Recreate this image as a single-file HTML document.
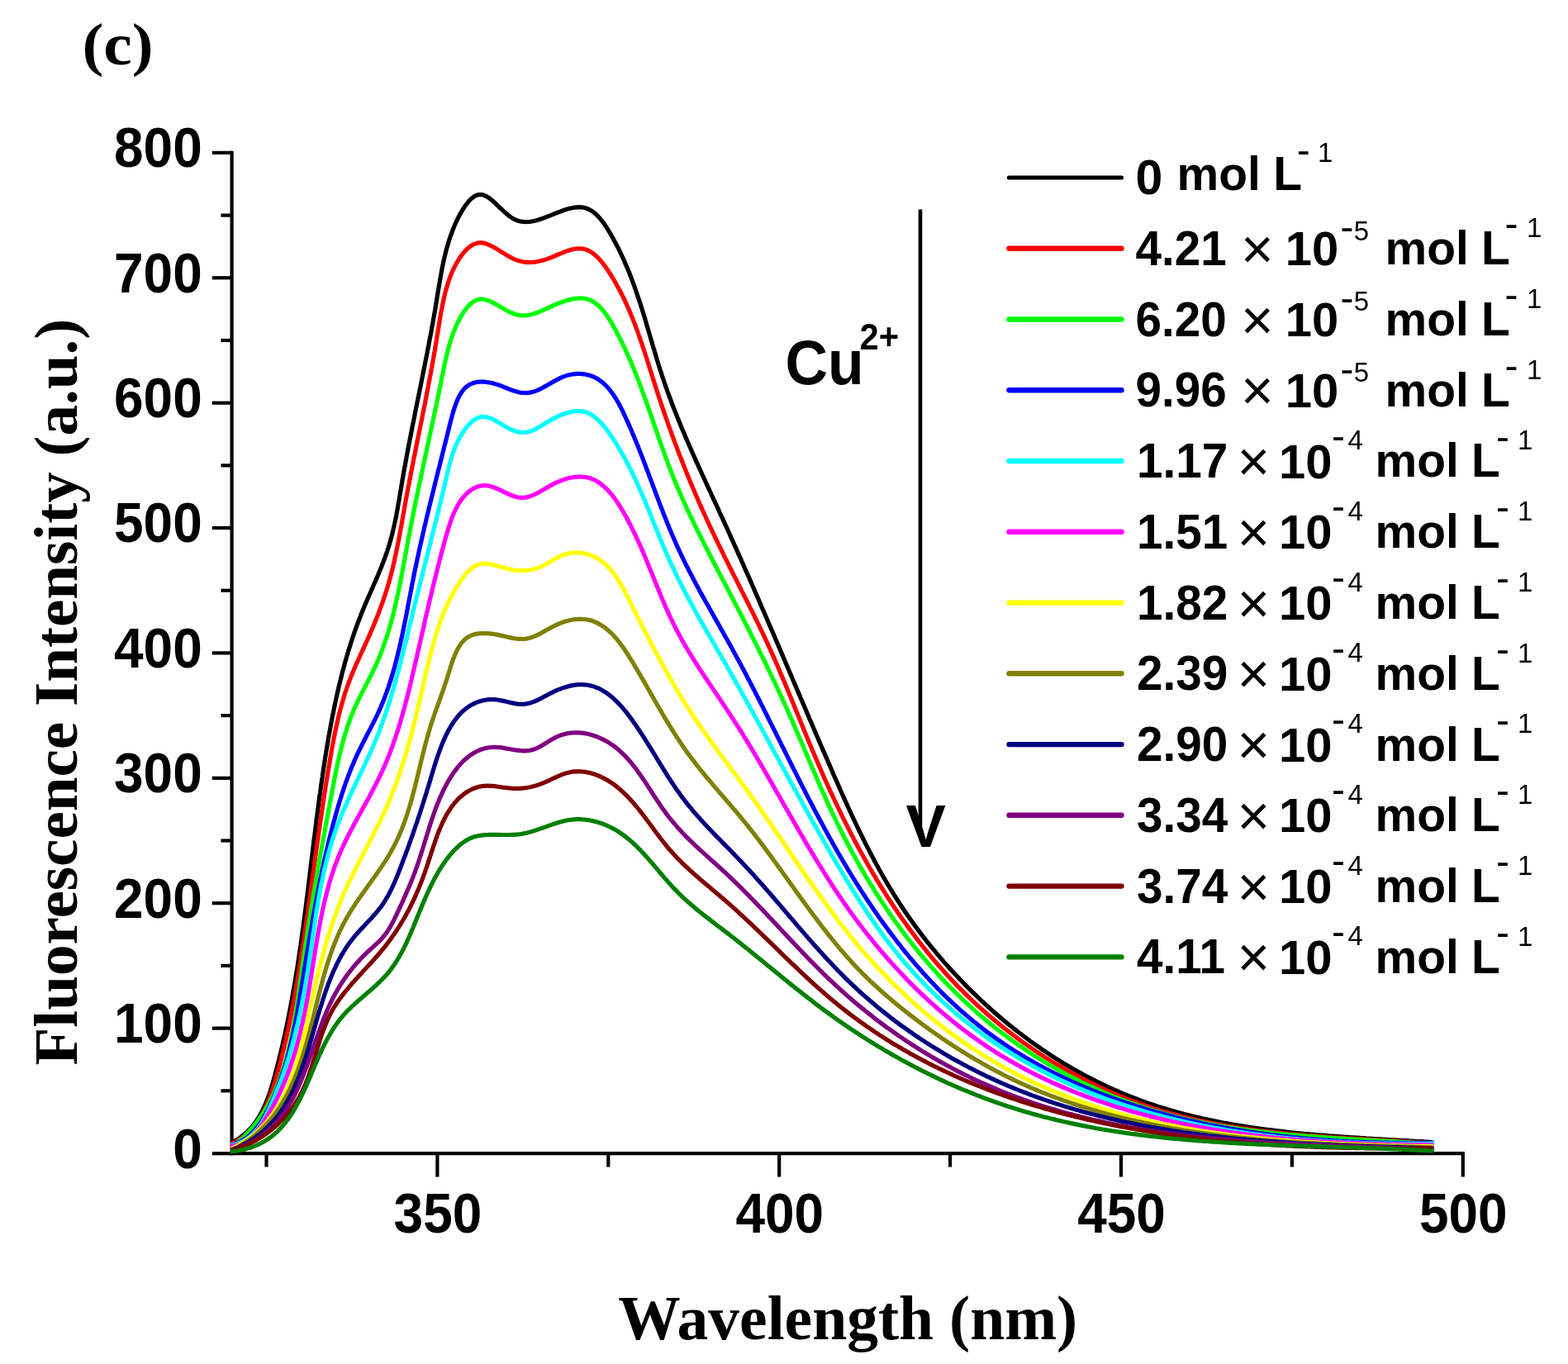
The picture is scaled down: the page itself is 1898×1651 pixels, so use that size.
<!DOCTYPE html>
<html lang="en"><head><meta charset="utf-8"><title>Fluorescence spectra (c)</title>
<style>html,body{margin:0;padding:0;background:#fff;overflow:hidden}svg{display:block}</style>
</head><body>
<svg xmlns="http://www.w3.org/2000/svg" width="1898" height="1651" viewBox="0 0 1898 1651">
<defs><clipPath id="pc"><rect x="279" y="150" width="1500" height="1260"/></clipPath></defs>
<rect width="1898" height="1651" fill="#fff"/>
<g stroke="#000" stroke-width="4.2" stroke-linecap="butt"><line x1="280.6" y1="182.8" x2="280.6" y2="1398.3"/><line x1="278.5" y1="1396.2" x2="1772.9" y2="1396.2"/><line x1="256.8" y1="1396.2" x2="280.6" y2="1396.2"/><line x1="267.5" y1="1320.3" x2="280.6" y2="1320.3"/><line x1="256.8" y1="1244.6" x2="280.6" y2="1244.6"/><line x1="267.5" y1="1168.9" x2="280.6" y2="1168.9"/><line x1="256.8" y1="1093.2" x2="280.6" y2="1093.2"/><line x1="267.5" y1="1017.5" x2="280.6" y2="1017.5"/><line x1="256.8" y1="941.8" x2="280.6" y2="941.8"/><line x1="267.5" y1="866.1" x2="280.6" y2="866.1"/><line x1="256.8" y1="790.4" x2="280.6" y2="790.4"/><line x1="267.5" y1="714.7" x2="280.6" y2="714.7"/><line x1="256.8" y1="639.0" x2="280.6" y2="639.0"/><line x1="267.5" y1="563.4" x2="280.6" y2="563.4"/><line x1="256.8" y1="487.7" x2="280.6" y2="487.7"/><line x1="267.5" y1="412.0" x2="280.6" y2="412.0"/><line x1="256.8" y1="336.3" x2="280.6" y2="336.3"/><line x1="267.5" y1="260.6" x2="280.6" y2="260.6"/><line x1="256.8" y1="184.9" x2="280.6" y2="184.9"/><line x1="322.5" y1="1396.2" x2="322.5" y2="1412.5"/><line x1="529.4" y1="1396.2" x2="529.4" y2="1424.5"/><line x1="736.3" y1="1396.2" x2="736.3" y2="1412.5"/><line x1="943.2" y1="1396.2" x2="943.2" y2="1424.5"/><line x1="1150.1" y1="1396.2" x2="1150.1" y2="1412.5"/><line x1="1357.0" y1="1396.2" x2="1357.0" y2="1424.5"/><line x1="1563.9" y1="1396.2" x2="1563.9" y2="1412.5"/><line x1="1770.8" y1="1396.2" x2="1770.8" y2="1424.5"/></g>
<g clip-path="url(#pc)"><g fill="none" stroke-width="5.2" stroke-linejoin="round" stroke-linecap="round"><path d="M279.4,1383.7 L281.6,1382.5 L283.8,1381.3 L286.0,1380.1 L288.1,1378.8 L290.1,1377.4 L292.2,1375.9 L294.1,1374.4 L296.1,1372.8 L297.9,1371.1 L299.8,1369.4 L301.5,1367.6 L303.2,1365.8 L304.9,1363.9 L306.5,1362.0 L308.0,1360.0 L309.5,1358.0 L310.9,1355.9 L312.3,1353.8 L313.6,1351.7 L314.8,1349.6 L316.1,1347.4 L317.2,1345.2 L318.3,1342.9 L319.4,1340.7 L320.4,1338.4 L321.4,1336.1 L322.4,1333.8 L323.3,1331.5 L324.2,1329.1 L325.1,1326.8 L325.9,1324.4 L326.7,1322.1 L327.5,1319.7 L328.2,1317.3 L329.0,1314.9 L329.7,1312.5 L330.4,1310.1 L331.1,1307.7 L331.7,1305.3 L332.4,1302.9 L333.0,1300.5 L333.7,1298.1 L334.3,1295.6 L335.0,1293.2 L335.6,1290.8 L336.2,1288.4 L336.8,1286.0 L337.5,1283.5 L338.1,1281.1 L338.7,1278.7 L339.2,1276.3 L339.8,1273.8 L340.4,1271.4 L341.0,1269.0 L341.6,1266.5 L342.1,1264.1 L342.7,1261.7 L343.2,1259.2 L343.8,1256.8 L344.3,1254.3 L344.9,1251.9 L345.4,1249.5 L345.9,1247.0 L346.4,1244.6 L347.0,1242.1 L347.5,1239.7 L348.0,1237.2 L348.5,1234.8 L349.0,1232.3 L349.5,1229.9 L349.9,1227.4 L350.4,1225.0 L350.9,1222.5 L351.4,1220.1 L351.8,1217.6 L352.3,1215.1 L352.7,1212.7 L353.2,1210.2 L353.7,1207.8 L354.1,1205.3 L354.5,1202.8 L355.0,1200.4 L355.4,1197.9 L355.8,1195.5 L356.3,1193.0 L356.7,1190.5 L357.1,1188.1 L357.5,1185.6 L357.9,1183.1 L358.3,1180.7 L358.7,1178.2 L359.1,1175.7 L359.5,1173.3 L359.9,1170.8 L360.3,1168.3 L360.7,1165.9 L361.0,1163.4 L361.4,1160.9 L361.8,1158.4 L362.2,1156.0 L362.5,1153.5 L362.9,1151.0 L363.3,1148.5 L363.6,1146.1 L364.0,1143.6 L364.3,1141.1 L364.7,1138.6 L365.0,1136.2 L365.4,1133.7 L365.7,1131.2 L366.0,1128.7 L366.4,1126.3 L366.7,1123.8 L367.1,1121.3 L367.4,1118.8 L367.7,1116.4 L368.0,1113.9 L368.4,1111.4 L368.7,1108.9 L369.0,1106.4 L369.3,1104.0 L369.7,1101.5 L370.0,1099.0 L370.3,1096.5 L370.6,1094.0 L370.9,1091.6 L371.2,1089.1 L371.5,1086.6 L371.9,1084.1 L372.2,1081.6 L372.5,1079.2 L372.8,1076.7 L373.1,1074.2 L373.4,1071.7 L373.7,1069.2 L374.0,1066.8 L374.3,1064.3 L374.6,1061.8 L374.9,1059.3 L375.2,1056.8 L375.5,1054.3 L375.8,1051.9 L376.1,1049.4 L376.4,1046.9 L376.7,1044.4 L377.0,1041.9 L377.3,1039.5 L377.6,1037.0 L377.9,1034.5 L378.2,1032.0 L378.5,1029.5 L378.8,1027.0 L379.1,1024.6 L379.4,1022.1 L379.7,1019.6 L380.0,1017.1 L380.3,1014.6 L380.6,1012.2 L381.0,1009.7 L381.3,1007.2 L381.6,1004.7 L381.9,1002.2 L382.2,999.8 L382.5,997.3 L382.8,994.8 L383.1,992.3 L383.4,989.8 L383.8,987.4 L384.1,984.9 L384.4,982.4 L384.7,979.9 L385.1,977.4 L385.4,975.0 L385.7,972.5 L386.0,970.0 L386.4,967.5 L386.7,965.1 L387.0,962.6 L387.4,960.1 L387.7,957.6 L388.1,955.1 L388.4,952.7 L388.8,950.2 L389.1,947.7 L389.5,945.2 L389.8,942.8 L390.2,940.3 L390.5,937.8 L390.9,935.3 L391.3,932.9 L391.6,930.4 L392.0,927.9 L392.4,925.5 L392.8,923.0 L393.2,920.5 L393.5,918.0 L393.9,915.6 L394.3,913.1 L394.7,910.6 L395.1,908.2 L395.5,905.7 L395.9,903.2 L396.4,900.8 L396.8,898.3 L397.2,895.8 L397.6,893.4 L398.0,890.9 L398.5,888.5 L398.9,886.0 L399.4,883.5 L399.8,881.1 L400.3,878.6 L400.7,876.2 L401.2,873.7 L401.6,871.2 L402.1,868.8 L402.6,866.3 L403.1,863.9 L403.6,861.4 L404.1,859.0 L404.6,856.5 L405.1,854.1 L405.6,851.6 L406.1,849.2 L406.6,846.8 L407.2,844.3 L407.7,841.9 L408.3,839.4 L408.8,837.0 L409.4,834.6 L409.9,832.1 L410.5,829.7 L411.1,827.3 L411.7,824.8 L412.3,822.4 L412.9,820.0 L413.5,817.6 L414.1,815.1 L414.7,812.7 L415.4,810.3 L416.0,807.9 L416.7,805.5 L417.3,803.1 L418.0,800.6 L418.7,798.2 L419.4,795.8 L420.1,793.4 L420.8,791.0 L421.5,788.6 L422.2,786.3 L423.0,783.9 L423.7,781.5 L424.5,779.1 L425.2,776.7 L426.0,774.3 L426.8,772.0 L427.6,769.6 L428.4,767.2 L429.2,764.9 L430.1,762.5 L430.9,760.2 L431.7,757.8 L432.6,755.5 L433.5,753.1 L434.4,750.8 L435.3,748.4 L436.2,746.1 L437.1,743.8 L438.0,741.5 L438.9,739.1 L439.9,736.8 L440.9,734.5 L441.8,732.2 L442.8,729.9 L443.8,727.6 L444.8,725.3 L445.8,723.0 L446.8,720.7 L447.8,718.5 L448.8,716.2 L449.8,713.9 L450.8,711.6 L451.8,709.3 L452.8,707.0 L453.8,704.7 L454.8,702.4 L455.8,700.1 L456.8,697.8 L457.8,695.5 L458.7,693.2 L459.7,690.9 L460.6,688.6 L461.6,686.3 L462.5,684.0 L463.4,681.6 L464.3,679.3 L465.2,677.0 L466.1,674.6 L466.9,672.3 L467.7,669.9 L468.6,667.6 L469.3,665.2 L470.1,662.8 L470.9,660.4 L471.6,658.0 L472.3,655.6 L472.9,653.2 L473.6,650.8 L474.2,648.4 L474.9,646.0 L475.4,643.5 L476.0,641.1 L476.6,638.7 L477.1,636.2 L477.7,633.8 L478.2,631.3 L478.7,628.9 L479.2,626.4 L479.7,624.0 L480.1,621.5 L480.6,619.1 L481.0,616.6 L481.5,614.2 L481.9,611.7 L482.3,609.2 L482.8,606.8 L483.2,604.3 L483.6,601.8 L484.0,599.4 L484.4,596.9 L484.8,594.4 L485.3,592.0 L485.7,589.5 L486.1,587.0 L486.5,584.6 L486.9,582.1 L487.3,579.6 L487.8,577.2 L488.2,574.7 L488.6,572.3 L489.1,569.8 L489.5,567.3 L490.0,564.9 L490.4,562.4 L490.9,560.0 L491.3,557.5 L491.8,555.0 L492.2,552.6 L492.7,550.1 L493.1,547.7 L493.6,545.2 L494.1,542.8 L494.5,540.3 L495.0,537.8 L495.5,535.4 L495.9,532.9 L496.4,530.5 L496.9,528.0 L497.4,525.6 L497.9,523.1 L498.3,520.7 L498.8,518.2 L499.3,515.8 L499.8,513.3 L500.3,510.9 L500.8,508.4 L501.3,506.0 L501.7,503.5 L502.2,501.1 L502.7,498.6 L503.2,496.2 L503.7,493.7 L504.2,491.3 L504.7,488.8 L505.2,486.4 L505.7,483.9 L506.2,481.4 L506.7,479.0 L507.2,476.5 L507.7,474.1 L508.2,471.6 L508.7,469.2 L509.2,466.7 L509.7,464.3 L510.1,461.8 L510.6,459.4 L511.1,456.9 L511.6,454.5 L512.1,452.0 L512.6,449.6 L513.1,447.1 L513.6,444.7 L514.1,442.2 L514.6,439.8 L515.0,437.3 L515.5,434.9 L516.0,432.4 L516.5,430.0 L517.0,427.5 L517.4,425.1 L517.9,422.6 L518.4,420.2 L518.9,417.7 L519.3,415.2 L519.8,412.8 L520.2,410.3 L520.7,407.9 L521.2,405.4 L521.6,403.0 L522.1,400.5 L522.5,398.0 L523.0,395.6 L523.4,393.1 L523.9,390.7 L524.3,388.2 L524.7,385.7 L525.2,383.3 L525.6,380.8 L526.0,378.4 L526.5,375.9 L526.9,373.4 L527.3,371.0 L527.7,368.5 L528.1,366.0 L528.5,363.6 L528.9,361.1 L529.3,358.6 L529.7,356.2 L530.1,353.7 L530.5,351.2 L530.9,348.8 L531.4,346.3 L531.8,343.8 L532.2,341.4 L532.6,338.9 L533.0,336.4 L533.5,334.0 L533.9,331.5 L534.4,329.1 L534.8,326.6 L535.3,324.1 L535.8,321.7 L536.3,319.2 L536.8,316.8 L537.4,314.4 L537.9,311.9 L538.5,309.5 L539.1,307.1 L539.7,304.6 L540.3,302.2 L541.0,299.8 L541.7,297.4 L542.4,295.0 L543.1,292.6 L543.8,290.2 L544.6,287.8 L545.4,285.5 L546.3,283.1 L547.1,280.8 L548.0,278.4 L549.0,276.1 L549.9,273.8 L550.9,271.5 L551.9,269.2 L553.0,267.0 L554.1,264.7 L555.2,262.5 L556.4,260.3 L557.6,258.1 L558.8,255.9 L560.1,253.8 L561.4,251.7 L562.8,249.6 L564.3,247.5 L565.8,245.6 L567.4,243.6 L569.1,241.8 L570.9,240.1 L572.9,238.6 L575.0,237.2 L577.3,236.2 L579.7,235.6 L582.2,235.5 L584.7,235.9 L587.0,236.8 L589.2,237.9 L591.3,239.2 L593.3,240.7 L595.3,242.3 L597.2,243.9 L599.0,245.6 L600.9,247.3 L602.7,249.1 L604.5,250.8 L606.3,252.5 L608.1,254.2 L609.9,255.9 L611.8,257.6 L613.7,259.2 L615.6,260.8 L617.6,262.3 L619.7,263.7 L621.8,265.0 L624.1,266.1 L626.4,267.0 L628.8,267.7 L631.3,268.2 L633.7,268.5 L636.2,268.6 L638.7,268.5 L641.2,268.3 L643.7,268.0 L646.2,267.5 L648.6,266.9 L651.0,266.3 L653.4,265.5 L655.8,264.7 L658.1,263.9 L660.5,263.0 L662.8,262.1 L665.1,261.2 L667.4,260.3 L669.7,259.3 L672.1,258.4 L674.4,257.5 L676.7,256.6 L679.1,255.7 L681.4,254.8 L683.8,254.0 L686.2,253.3 L688.6,252.6 L691.0,252.0 L693.4,251.5 L695.9,251.1 L698.4,250.8 L700.9,250.7 L703.4,250.8 L705.9,251.1 L708.3,251.7 L710.7,252.5 L713.0,253.5 L715.2,254.7 L717.3,256.0 L719.3,257.5 L721.2,259.2 L723.0,260.9 L724.7,262.7 L726.4,264.6 L727.9,266.5 L729.5,268.5 L731.0,270.5 L732.4,272.5 L733.8,274.6 L735.1,276.7 L736.4,278.8 L737.7,281.0 L739.0,283.1 L740.2,285.3 L741.5,287.5 L742.7,289.7 L743.9,291.9 L745.1,294.1 L746.2,296.3 L747.4,298.5 L748.5,300.7 L749.6,303.0 L750.7,305.2 L751.8,307.5 L752.8,309.7 L753.9,312.0 L754.9,314.3 L755.9,316.6 L756.9,318.9 L757.9,321.2 L758.9,323.5 L759.9,325.8 L760.8,328.1 L761.8,330.4 L762.7,332.7 L763.6,335.0 L764.5,337.4 L765.4,339.7 L766.2,342.1 L767.1,344.4 L768.0,346.8 L768.8,349.1 L769.6,351.5 L770.4,353.8 L771.2,356.2 L772.0,358.6 L772.8,360.9 L773.6,363.3 L774.4,365.7 L775.2,368.1 L775.9,370.4 L776.7,372.8 L777.4,375.2 L778.2,377.6 L778.9,380.0 L779.6,382.4 L780.4,384.8 L781.1,387.2 L781.8,389.6 L782.5,392.0 L783.2,394.4 L783.9,396.8 L784.6,399.2 L785.3,401.6 L786.0,404.0 L786.7,406.4 L787.4,408.8 L788.1,411.2 L788.8,413.6 L789.5,416.0 L790.2,418.4 L790.9,420.7 L791.7,423.1 L792.4,425.5 L793.1,427.9 L793.8,430.3 L794.5,432.7 L795.2,435.1 L796.0,437.5 L796.7,439.9 L797.4,442.3 L798.2,444.7 L798.9,447.1 L799.7,449.4 L800.5,451.8 L801.2,454.2 L802.0,456.6 L802.8,458.9 L803.6,461.3 L804.4,463.7 L805.2,466.0 L806.1,468.4 L806.9,470.8 L807.7,473.1 L808.6,475.5 L809.5,477.8 L810.3,480.2 L811.2,482.5 L812.1,484.8 L812.9,487.2 L813.8,489.5 L814.7,491.8 L815.6,494.2 L816.5,496.5 L817.5,498.8 L818.4,501.2 L819.3,503.5 L820.2,505.8 L821.2,508.1 L822.1,510.4 L823.1,512.7 L824.0,515.1 L825.0,517.4 L825.9,519.7 L826.9,522.0 L827.9,524.3 L828.9,526.6 L829.8,528.9 L830.8,531.2 L831.8,533.5 L832.8,535.8 L833.8,538.1 L834.8,540.4 L835.8,542.6 L836.8,544.9 L837.8,547.2 L838.8,549.5 L839.9,551.8 L840.9,554.1 L841.9,556.4 L842.9,558.6 L843.9,560.9 L845.0,563.2 L846.0,565.5 L847.0,567.7 L848.1,570.0 L849.1,572.3 L850.1,574.6 L851.2,576.8 L852.2,579.1 L853.3,581.4 L854.3,583.7 L855.3,585.9 L856.4,588.2 L857.4,590.5 L858.5,592.7 L859.5,595.0 L860.6,597.3 L861.6,599.6 L862.7,601.8 L863.7,604.1 L864.8,606.4 L865.8,608.6 L866.9,610.9 L867.9,613.2 L869.0,615.4 L870.0,617.7 L871.0,620.0 L872.1,622.3 L873.1,624.5 L874.2,626.8 L875.2,629.1 L876.3,631.3 L877.3,633.6 L878.3,635.9 L879.4,638.2 L880.4,640.4 L881.4,642.7 L882.5,645.0 L883.5,647.3 L884.5,649.6 L885.5,651.8 L886.6,654.1 L887.6,656.4 L888.6,658.7 L889.6,661.0 L890.7,663.2 L891.7,665.5 L892.7,667.8 L893.7,670.1 L894.7,672.4 L895.8,674.7 L896.8,676.9 L897.8,679.2 L898.8,681.5 L899.8,683.8 L900.8,686.1 L901.8,688.4 L902.8,690.7 L903.8,692.9 L904.9,695.2 L905.9,697.5 L906.9,699.8 L907.9,702.1 L908.9,704.4 L909.9,706.7 L910.9,709.0 L911.9,711.3 L912.9,713.6 L913.9,715.8 L914.9,718.1 L915.9,720.4 L916.9,722.7 L917.9,725.0 L918.9,727.3 L919.8,729.6 L920.8,731.9 L921.8,734.2 L922.8,736.5 L923.8,738.8 L924.8,741.1 L925.8,743.4 L926.8,745.7 L927.8,748.0 L928.8,750.3 L929.8,752.6 L930.7,754.9 L931.7,757.1 L932.7,759.4 L933.7,761.7 L934.7,764.0 L935.7,766.3 L936.7,768.6 L937.7,770.9 L938.6,773.2 L939.6,775.5 L940.6,777.8 L941.6,780.1 L942.6,782.4 L943.6,784.7 L944.5,787.0 L945.5,789.3 L946.5,791.6 L947.5,793.9 L948.5,796.2 L949.4,798.5 L950.4,800.8 L951.4,803.1 L952.4,805.4 L953.4,807.7 L954.3,810.0 L955.3,812.3 L956.3,814.6 L957.3,816.9 L958.3,819.2 L959.2,821.5 L960.2,823.8 L961.2,826.1 L962.2,828.4 L963.2,830.7 L964.1,833.0 L965.1,835.3 L966.1,837.6 L967.1,839.9 L968.1,842.2 L969.0,844.5 L970.0,846.8 L971.0,849.1 L972.0,851.4 L973.0,853.7 L974.0,856.0 L974.9,858.3 L975.9,860.6 L976.9,862.9 L977.9,865.2 L978.9,867.5 L979.8,869.8 L980.8,872.1 L981.8,874.4 L982.8,876.7 L983.8,879.0 L984.8,881.3 L985.7,883.6 L986.7,885.9 L987.7,888.2 L988.7,890.5 L989.7,892.8 L990.7,895.1 L991.7,897.4 L992.7,899.7 L993.6,902.0 L994.6,904.3 L995.6,906.6 L996.6,908.8 L997.6,911.1 L998.6,913.4 L999.6,915.7 L1000.6,918.0 L1001.6,920.3 L1002.6,922.6 L1003.6,924.9 L1004.6,927.2 L1005.6,929.5 L1006.6,931.8 L1007.5,934.1 L1008.5,936.4 L1009.5,938.7 L1010.5,941.0 L1011.6,943.2 L1012.6,945.5 L1013.6,947.8 L1014.6,950.1 L1015.6,952.4 L1016.6,954.7 L1017.6,957.0 L1018.6,959.3 L1019.6,961.5 L1020.7,963.8 L1021.7,966.1 L1022.7,968.4 L1023.7,970.7 L1024.8,972.9 L1025.8,975.2 L1026.8,977.5 L1027.9,979.8 L1028.9,982.0 L1030.0,984.3 L1031.0,986.6 L1032.1,988.8 L1033.1,991.1 L1034.2,993.4 L1035.3,995.6 L1036.3,997.9 L1037.4,1000.1 L1038.5,1002.4 L1039.6,1004.6 L1040.7,1006.9 L1041.8,1009.1 L1042.9,1011.4 L1044.0,1013.6 L1045.1,1015.9 L1046.2,1018.1 L1047.3,1020.3 L1048.5,1022.6 L1049.6,1024.8 L1050.7,1027.0 L1051.9,1029.2 L1053.0,1031.5 L1054.2,1033.7 L1055.3,1035.9 L1056.5,1038.1 L1057.7,1040.3 L1058.8,1042.5 L1060.0,1044.7 L1061.2,1046.9 L1062.4,1049.1 L1063.6,1051.3 L1064.8,1053.5 L1066.1,1055.7 L1067.3,1057.8 L1068.5,1060.0 L1069.8,1062.2 L1071.0,1064.4 L1072.3,1066.5 L1073.5,1068.7 L1074.8,1070.8 L1076.1,1073.0 L1077.4,1075.1 L1078.7,1077.2 L1080.0,1079.4 L1081.3,1081.5 L1082.6,1083.6 L1083.9,1085.7 L1085.3,1087.9 L1086.6,1090.0 L1088.0,1092.1 L1089.4,1094.2 L1090.7,1096.3 L1092.1,1098.3 L1093.5,1100.4 L1094.9,1102.5 L1096.3,1104.6 L1097.7,1106.6 L1099.1,1108.7 L1100.6,1110.7 L1102.0,1112.8 L1103.5,1114.8 L1104.9,1116.8 L1106.4,1118.9 L1107.8,1120.9 L1109.3,1122.9 L1110.8,1124.9 L1112.3,1126.9 L1113.8,1128.9 L1115.3,1130.9 L1116.8,1132.9 L1118.4,1134.9 L1119.9,1136.8 L1121.4,1138.8 L1123.0,1140.8 L1124.6,1142.7 L1126.1,1144.7 L1127.7,1146.6 L1129.3,1148.5 L1130.9,1150.5 L1132.5,1152.4 L1134.1,1154.3 L1135.7,1156.2 L1137.3,1158.1 L1138.9,1160.0 L1140.6,1161.9 L1142.2,1163.8 L1143.8,1165.7 L1145.5,1167.6 L1147.2,1169.4 L1148.8,1171.3 L1150.5,1173.1 L1152.2,1175.0 L1153.9,1176.8 L1155.6,1178.7 L1157.3,1180.5 L1159.0,1182.3 L1160.7,1184.1 L1162.4,1185.9 L1164.2,1187.7 L1165.9,1189.5 L1167.7,1191.3 L1169.4,1193.1 L1171.2,1194.9 L1172.9,1196.7 L1174.7,1198.4 L1176.5,1200.2 L1178.3,1201.9 L1180.1,1203.7 L1181.9,1205.4 L1183.7,1207.1 L1185.5,1208.8 L1187.3,1210.6 L1189.1,1212.3 L1191.0,1214.0 L1192.8,1215.7 L1194.7,1217.3 L1196.5,1219.0 L1198.4,1220.7 L1200.2,1222.4 L1202.1,1224.0 L1204.0,1225.7 L1205.9,1227.3 L1207.8,1228.9 L1209.7,1230.6 L1211.6,1232.2 L1213.5,1233.8 L1215.4,1235.4 L1217.3,1237.0 L1219.2,1238.6 L1221.2,1240.2 L1223.1,1241.7 L1225.1,1243.3 L1227.0,1244.9 L1229.0,1246.4 L1231.0,1248.0 L1232.9,1249.5 L1234.9,1251.0 L1236.9,1252.5 L1238.9,1254.0 L1240.9,1255.5 L1242.9,1257.0 L1244.9,1258.5 L1246.9,1260.0 L1249.0,1261.5 L1251.0,1262.9 L1253.0,1264.4 L1255.1,1265.8 L1257.1,1267.2 L1259.2,1268.7 L1261.2,1270.1 L1263.3,1271.5 L1265.4,1272.9 L1267.5,1274.3 L1269.5,1275.6 L1271.6,1277.0 L1273.7,1278.4 L1275.8,1279.7 L1277.9,1281.1 L1280.0,1282.4 L1282.2,1283.7 L1284.3,1285.0 L1286.4,1286.4 L1288.6,1287.7 L1290.7,1288.9 L1292.9,1290.2 L1295.0,1291.5 L1297.2,1292.7 L1299.3,1294.0 L1301.5,1295.2 L1303.7,1296.5 L1305.9,1297.7 L1308.1,1298.9 L1310.2,1300.1 L1312.4,1301.3 L1314.6,1302.5 L1316.9,1303.6 L1319.1,1304.8 L1321.3,1305.9 L1323.5,1307.1 L1325.7,1308.2 L1328.0,1309.3 L1330.2,1310.4 L1332.5,1311.5 L1334.7,1312.6 L1337.0,1313.7 L1339.2,1314.8 L1341.5,1315.8 L1343.8,1316.9 L1346.1,1317.9 L1348.3,1318.9 L1350.6,1319.9 L1352.9,1320.9 L1355.2,1321.9 L1357.5,1322.9 L1359.8,1323.9 L1362.1,1324.8 L1364.4,1325.8 L1366.8,1326.7 L1369.1,1327.6 L1371.4,1328.5 L1373.7,1329.4 L1376.1,1330.3 L1378.4,1331.2 L1380.8,1332.1 L1383.1,1332.9 L1385.5,1333.8 L1387.8,1334.6 L1390.2,1335.4 L1392.5,1336.2 L1394.9,1337.0 L1397.3,1337.8 L1399.7,1338.6 L1402.0,1339.4 L1404.4,1340.1 L1406.8,1340.9 L1409.2,1341.6 L1411.6,1342.3 L1414.0,1343.0 L1416.4,1343.7 L1418.8,1344.4 L1421.2,1345.1 L1423.6,1345.8 L1426.0,1346.4 L1428.4,1347.1 L1430.8,1347.7 L1433.3,1348.4 L1435.7,1349.0 L1438.1,1349.6 L1440.5,1350.2 L1443.0,1350.8 L1445.4,1351.4 L1447.8,1352.0 L1450.3,1352.6 L1452.7,1353.1 L1455.1,1353.7 L1457.6,1354.2 L1460.0,1354.7 L1462.5,1355.3 L1464.9,1355.8 L1467.3,1356.3 L1469.8,1356.8 L1472.2,1357.3 L1474.7,1357.8 L1477.2,1358.3 L1479.6,1358.7 L1482.1,1359.2 L1484.5,1359.6 L1487.0,1360.1 L1489.4,1360.5 L1491.9,1361.0 L1494.4,1361.4 L1496.8,1361.8 L1499.3,1362.2 L1501.8,1362.6 L1504.2,1363.0 L1506.7,1363.4 L1509.2,1363.8 L1511.6,1364.2 L1514.1,1364.6 L1516.6,1364.9 L1519.1,1365.3 L1521.5,1365.6 L1524.0,1366.0 L1526.5,1366.3 L1529.0,1366.7 L1531.4,1367.0 L1533.9,1367.3 L1536.4,1367.6 L1538.9,1367.9 L1541.4,1368.2 L1543.8,1368.5 L1546.3,1368.8 L1548.8,1369.1 L1551.3,1369.4 L1553.8,1369.7 L1556.3,1370.0 L1558.7,1370.3 L1561.2,1370.5 L1563.7,1370.8 L1566.2,1371.0 L1568.7,1371.3 L1571.2,1371.5 L1573.7,1371.8 L1576.2,1372.0 L1578.6,1372.3 L1581.1,1372.5 L1583.6,1372.7 L1586.1,1373.0 L1588.6,1373.2 L1591.1,1373.4 L1593.6,1373.6 L1596.1,1373.8 L1598.6,1374.0 L1601.1,1374.2 L1603.6,1374.4 L1606.0,1374.6 L1608.5,1374.8 L1611.0,1375.0 L1613.5,1375.2 L1616.0,1375.4 L1618.5,1375.6 L1621.0,1375.7 L1623.5,1375.9 L1626.0,1376.1 L1628.5,1376.3 L1631.0,1376.4 L1633.5,1376.6 L1636.0,1376.8 L1638.5,1376.9 L1641.0,1377.1 L1643.5,1377.2 L1645.9,1377.4 L1648.4,1377.6 L1650.9,1377.7 L1653.4,1377.9 L1655.9,1378.0 L1658.4,1378.2 L1660.9,1378.3 L1663.4,1378.5 L1665.9,1378.6 L1668.4,1378.8 L1670.9,1378.9 L1673.4,1379.0 L1675.9,1379.2 L1678.4,1379.3 L1680.9,1379.5 L1683.4,1379.6 L1685.9,1379.8 L1688.4,1379.9 L1690.9,1380.0 L1693.4,1380.2 L1695.9,1380.3 L1698.4,1380.5 L1700.8,1380.6 L1703.3,1380.7 L1705.8,1380.9 L1708.3,1381.0 L1710.8,1381.2 L1713.3,1381.3 L1715.8,1381.5 L1718.3,1381.6 L1720.8,1381.7 L1723.3,1381.9 L1725.8,1382.0 L1728.3,1382.2 L1730.8,1382.3 L1733.3,1382.5" stroke="#000000" /><path d="M279.5,1384.8 L281.7,1383.7 L283.9,1382.5 L286.1,1381.3 L288.3,1380.0 L290.4,1378.7 L292.4,1377.3 L294.4,1375.8 L296.4,1374.2 L298.3,1372.6 L300.2,1370.9 L302.0,1369.2 L303.7,1367.4 L305.4,1365.5 L307.0,1363.7 L308.6,1361.7 L310.1,1359.7 L311.6,1357.7 L313.0,1355.6 L314.4,1353.5 L315.7,1351.4 L316.9,1349.3 L318.2,1347.1 L319.3,1344.9 L320.4,1342.6 L321.5,1340.4 L322.6,1338.1 L323.6,1335.8 L324.5,1333.5 L325.5,1331.2 L326.4,1328.9 L327.3,1326.5 L328.1,1324.2 L328.9,1321.8 L329.7,1319.4 L330.5,1317.1 L331.3,1314.7 L332.0,1312.3 L332.7,1309.9 L333.4,1307.5 L334.1,1305.1 L334.8,1302.7 L335.5,1300.3 L336.1,1297.9 L336.8,1295.5 L337.5,1293.1 L338.1,1290.6 L338.7,1288.2 L339.4,1285.8 L340.0,1283.4 L340.6,1281.0 L341.2,1278.5 L341.8,1276.1 L342.4,1273.7 L343.0,1271.3 L343.6,1268.8 L344.2,1266.4 L344.7,1264.0 L345.3,1261.5 L345.9,1259.1 L346.4,1256.6 L347.0,1254.2 L347.5,1251.8 L348.0,1249.3 L348.6,1246.9 L349.1,1244.4 L349.6,1242.0 L350.1,1239.5 L350.6,1237.1 L351.1,1234.6 L351.6,1232.2 L352.1,1229.7 L352.6,1227.3 L353.1,1224.8 L353.6,1222.4 L354.0,1219.9 L354.5,1217.5 L355.0,1215.0 L355.4,1212.6 L355.9,1210.1 L356.3,1207.6 L356.8,1205.2 L357.2,1202.7 L357.6,1200.3 L358.1,1197.8 L358.5,1195.3 L358.9,1192.9 L359.4,1190.4 L359.8,1187.9 L360.2,1185.5 L360.6,1183.0 L361.0,1180.5 L361.4,1178.1 L361.8,1175.6 L362.2,1173.1 L362.6,1170.7 L363.0,1168.2 L363.4,1165.7 L363.8,1163.3 L364.2,1160.8 L364.5,1158.3 L364.9,1155.9 L365.3,1153.4 L365.7,1150.9 L366.0,1148.4 L366.4,1146.0 L366.8,1143.5 L367.1,1141.0 L367.5,1138.5 L367.9,1136.1 L368.2,1133.6 L368.6,1131.1 L369.0,1128.7 L369.3,1126.2 L369.7,1123.7 L370.0,1121.2 L370.4,1118.8 L370.7,1116.3 L371.1,1113.8 L371.5,1111.3 L371.8,1108.9 L372.2,1106.4 L372.5,1103.9 L372.9,1101.4 L373.2,1099.0 L373.5,1096.5 L373.9,1094.0 L374.2,1091.5 L374.6,1089.0 L374.9,1086.6 L375.3,1084.1 L375.6,1081.6 L376.0,1079.1 L376.3,1076.7 L376.6,1074.2 L377.0,1071.7 L377.3,1069.2 L377.7,1066.8 L378.0,1064.3 L378.4,1061.8 L378.7,1059.3 L379.0,1056.9 L379.4,1054.4 L379.7,1051.9 L380.1,1049.4 L380.4,1047.0 L380.7,1044.5 L381.1,1042.0 L381.4,1039.5 L381.8,1037.0 L382.1,1034.6 L382.5,1032.1 L382.8,1029.6 L383.2,1027.1 L383.5,1024.7 L383.8,1022.2 L384.2,1019.7 L384.5,1017.2 L384.9,1014.8 L385.2,1012.3 L385.6,1009.8 L385.9,1007.3 L386.3,1004.9 L386.7,1002.4 L387.0,999.9 L387.4,997.4 L387.7,995.0 L388.1,992.5 L388.4,990.0 L388.8,987.5 L389.2,985.1 L389.5,982.6 L389.9,980.1 L390.3,977.7 L390.6,975.2 L391.0,972.7 L391.4,970.2 L391.8,967.8 L392.1,965.3 L392.5,962.8 L392.9,960.3 L393.3,957.9 L393.7,955.4 L394.0,952.9 L394.4,950.5 L394.8,948.0 L395.2,945.5 L395.6,943.1 L396.0,940.6 L396.4,938.1 L396.8,935.7 L397.2,933.2 L397.6,930.7 L398.0,928.3 L398.4,925.8 L398.8,923.3 L399.3,920.9 L399.7,918.4 L400.1,915.9 L400.5,913.5 L401.0,911.0 L401.4,908.5 L401.8,906.1 L402.3,903.6 L402.7,901.2 L403.2,898.7 L403.6,896.2 L404.1,893.8 L404.6,891.3 L405.1,888.9 L405.6,886.4 L406.1,884.0 L406.6,881.5 L407.1,879.1 L407.7,876.7 L408.2,874.2 L408.8,871.8 L409.3,869.3 L409.9,866.9 L410.5,864.5 L411.1,862.1 L411.7,859.6 L412.4,857.2 L413.0,854.8 L413.7,852.4 L414.4,850.0 L415.1,847.6 L415.8,845.2 L416.5,842.8 L417.2,840.4 L418.0,838.0 L418.8,835.7 L419.6,833.3 L420.4,830.9 L421.3,828.6 L422.1,826.2 L423.0,823.9 L423.9,821.6 L424.8,819.2 L425.7,816.9 L426.7,814.6 L427.7,812.3 L428.6,810.0 L429.6,807.7 L430.6,805.4 L431.6,803.1 L432.6,800.8 L433.7,798.6 L434.7,796.3 L435.7,794.0 L436.8,791.7 L437.8,789.5 L438.9,787.2 L439.9,784.9 L440.9,782.6 L442.0,780.4 L443.0,778.1 L444.1,775.8 L445.1,773.5 L446.1,771.3 L447.1,769.0 L448.1,766.7 L449.1,764.4 L450.1,762.1 L451.1,759.8 L452.1,757.5 L453.0,755.2 L454.0,752.9 L454.9,750.6 L455.8,748.2 L456.8,745.9 L457.7,743.6 L458.6,741.2 L459.4,738.9 L460.3,736.6 L461.2,734.2 L462.0,731.9 L462.9,729.5 L463.7,727.1 L464.5,724.8 L465.3,722.4 L466.1,720.0 L466.8,717.7 L467.6,715.3 L468.3,712.9 L469.1,710.5 L469.8,708.1 L470.5,705.7 L471.2,703.3 L471.8,700.9 L472.5,698.5 L473.1,696.1 L473.8,693.6 L474.4,691.2 L475.0,688.8 L475.6,686.4 L476.1,683.9 L476.7,681.5 L477.3,679.1 L477.8,676.6 L478.3,674.2 L478.9,671.7 L479.4,669.3 L479.9,666.8 L480.4,664.4 L480.9,661.9 L481.4,659.5 L481.9,657.0 L482.3,654.6 L482.8,652.1 L483.3,649.7 L483.7,647.2 L484.2,644.7 L484.7,642.3 L485.1,639.8 L485.5,637.4 L486.0,634.9 L486.4,632.5 L486.9,630.0 L487.3,627.5 L487.8,625.1 L488.2,622.6 L488.6,620.1 L489.1,617.7 L489.5,615.2 L489.9,612.8 L490.4,610.3 L490.8,607.8 L491.3,605.4 L491.7,602.9 L492.2,600.5 L492.6,598.0 L493.1,595.5 L493.6,593.1 L494.0,590.6 L494.5,588.2 L495.0,585.7 L495.4,583.3 L495.9,580.8 L496.4,578.4 L496.9,575.9 L497.3,573.4 L497.8,571.0 L498.3,568.5 L498.8,566.1 L499.3,563.6 L499.7,561.2 L500.2,558.7 L500.7,556.3 L501.2,553.8 L501.7,551.4 L502.2,548.9 L502.7,546.5 L503.2,544.0 L503.6,541.6 L504.1,539.1 L504.6,536.7 L505.1,534.2 L505.6,531.8 L506.1,529.3 L506.6,526.9 L507.1,524.4 L507.6,522.0 L508.1,519.5 L508.6,517.1 L509.1,514.6 L509.6,512.2 L510.1,509.7 L510.6,507.3 L511.0,504.8 L511.5,502.4 L512.0,499.9 L512.5,497.5 L513.0,495.0 L513.5,492.6 L514.0,490.1 L514.5,487.6 L514.9,485.2 L515.4,482.7 L515.9,480.3 L516.4,477.8 L516.9,475.4 L517.3,472.9 L517.8,470.5 L518.3,468.0 L518.7,465.6 L519.2,463.1 L519.7,460.6 L520.1,458.2 L520.6,455.7 L521.1,453.3 L521.5,450.8 L522.0,448.4 L522.4,445.9 L522.9,443.4 L523.3,441.0 L523.8,438.5 L524.2,436.1 L524.6,433.6 L525.1,431.1 L525.5,428.7 L525.9,426.2 L526.4,423.7 L526.8,421.3 L527.2,418.8 L527.6,416.4 L528.0,413.9 L528.4,411.4 L528.8,409.0 L529.2,406.5 L529.6,404.0 L530.0,401.6 L530.4,399.1 L530.8,396.6 L531.2,394.1 L531.6,391.7 L532.0,389.2 L532.4,386.7 L532.8,384.3 L533.3,381.8 L533.7,379.4 L534.1,376.9 L534.6,374.4 L535.1,372.0 L535.5,369.5 L536.0,367.1 L536.6,364.6 L537.1,362.2 L537.6,359.7 L538.2,357.3 L538.8,354.9 L539.4,352.5 L540.1,350.1 L540.8,347.6 L541.5,345.3 L542.2,342.9 L543.0,340.5 L543.8,338.1 L544.7,335.8 L545.6,333.4 L546.5,331.1 L547.5,328.8 L548.5,326.5 L549.6,324.3 L550.7,322.0 L551.9,319.8 L553.1,317.7 L554.4,315.5 L555.7,313.4 L557.1,311.3 L558.5,309.3 L560.1,307.3 L561.6,305.4 L563.3,303.5 L565.1,301.7 L566.9,300.0 L568.9,298.5 L570.9,297.1 L573.1,295.9 L575.4,294.9 L577.8,294.2 L580.3,293.9 L582.8,293.9 L585.3,294.2 L587.7,294.8 L590.1,295.6 L592.4,296.6 L594.6,297.6 L596.8,298.8 L599.0,300.0 L601.2,301.3 L603.3,302.6 L605.4,303.9 L607.5,305.3 L609.7,306.6 L611.8,307.9 L613.9,309.2 L616.1,310.4 L618.3,311.6 L620.5,312.8 L622.8,313.8 L625.1,314.7 L627.5,315.6 L629.9,316.2 L632.3,316.8 L634.8,317.2 L637.3,317.4 L639.8,317.6 L642.3,317.5 L644.8,317.4 L647.3,317.2 L649.7,316.8 L652.2,316.3 L654.6,315.8 L657.0,315.1 L659.4,314.4 L661.8,313.6 L664.2,312.8 L666.5,311.9 L668.8,311.0 L671.1,310.0 L673.4,309.0 L675.7,308.0 L678.0,307.1 L680.3,306.1 L682.7,305.2 L685.0,304.3 L687.4,303.5 L689.7,302.7 L692.1,302.0 L694.6,301.5 L697.0,301.0 L699.5,300.8 L702.0,300.8 L704.5,301.0 L707.0,301.4 L709.4,302.1 L711.7,303.1 L713.9,304.2 L716.1,305.5 L718.1,306.9 L720.1,308.5 L721.9,310.1 L723.7,311.9 L725.5,313.7 L727.1,315.5 L728.7,317.5 L730.3,319.4 L731.8,321.4 L733.2,323.4 L734.7,325.5 L736.1,327.6 L737.4,329.7 L738.8,331.8 L740.1,333.9 L741.4,336.0 L742.7,338.2 L744.0,340.3 L745.2,342.5 L746.4,344.7 L747.6,346.9 L748.8,349.1 L750.0,351.3 L751.2,353.5 L752.3,355.7 L753.4,357.9 L754.5,360.2 L755.6,362.4 L756.7,364.7 L757.7,367.0 L758.8,369.2 L759.8,371.5 L760.8,373.8 L761.8,376.1 L762.8,378.4 L763.7,380.7 L764.7,383.0 L765.6,385.3 L766.5,387.7 L767.5,390.0 L768.4,392.3 L769.3,394.7 L770.1,397.0 L771.0,399.3 L771.9,401.7 L772.7,404.0 L773.5,406.4 L774.4,408.8 L775.2,411.1 L776.0,413.5 L776.8,415.8 L777.6,418.2 L778.4,420.6 L779.2,423.0 L780.0,425.3 L780.8,427.7 L781.5,430.1 L782.3,432.5 L783.1,434.8 L783.8,437.2 L784.6,439.6 L785.3,442.0 L786.1,444.4 L786.8,446.8 L787.6,449.1 L788.3,451.5 L789.1,453.9 L789.8,456.3 L790.6,458.7 L791.3,461.1 L792.1,463.5 L792.8,465.8 L793.6,468.2 L794.4,470.6 L795.1,473.0 L795.9,475.4 L796.7,477.7 L797.4,480.1 L798.2,482.5 L799.0,484.9 L799.8,487.2 L800.6,489.6 L801.4,492.0 L802.2,494.3 L803.0,496.7 L803.8,499.1 L804.6,501.4 L805.4,503.8 L806.3,506.2 L807.1,508.5 L807.9,510.9 L808.7,513.2 L809.6,515.6 L810.4,517.9 L811.3,520.3 L812.1,522.7 L813.0,525.0 L813.8,527.4 L814.7,529.7 L815.6,532.0 L816.4,534.4 L817.3,536.7 L818.2,539.1 L819.1,541.4 L819.9,543.7 L820.8,546.1 L821.7,548.4 L822.6,550.7 L823.5,553.1 L824.4,555.4 L825.4,557.7 L826.3,560.1 L827.2,562.4 L828.1,564.7 L829.0,567.0 L830.0,569.4 L830.9,571.7 L831.8,574.0 L832.8,576.3 L833.7,578.6 L834.7,580.9 L835.6,583.2 L836.6,585.5 L837.6,587.9 L838.5,590.2 L839.5,592.5 L840.5,594.8 L841.5,597.1 L842.5,599.4 L843.4,601.7 L844.4,603.9 L845.4,606.2 L846.4,608.5 L847.4,610.8 L848.5,613.1 L849.5,615.4 L850.5,617.7 L851.5,620.0 L852.5,622.2 L853.6,624.5 L854.6,626.8 L855.6,629.1 L856.7,631.3 L857.7,633.6 L858.8,635.9 L859.8,638.1 L860.9,640.4 L862.0,642.7 L863.0,644.9 L864.1,647.2 L865.2,649.4 L866.3,651.7 L867.3,653.9 L868.4,656.2 L869.5,658.4 L870.6,660.7 L871.7,662.9 L872.8,665.2 L873.9,667.4 L875.0,669.7 L876.1,671.9 L877.2,674.2 L878.4,676.4 L879.5,678.6 L880.6,680.9 L881.7,683.1 L882.8,685.3 L883.9,687.6 L885.1,689.8 L886.2,692.0 L887.3,694.3 L888.4,696.5 L889.6,698.7 L890.7,701.0 L891.8,703.2 L892.9,705.4 L894.1,707.7 L895.2,709.9 L896.3,712.1 L897.4,714.4 L898.6,716.6 L899.7,718.8 L900.8,721.1 L901.9,723.3 L903.1,725.5 L904.2,727.8 L905.3,730.0 L906.4,732.2 L907.5,734.5 L908.6,736.7 L909.8,738.9 L910.9,741.2 L912.0,743.4 L913.1,745.7 L914.2,747.9 L915.3,750.2 L916.4,752.4 L917.5,754.7 L918.6,756.9 L919.7,759.2 L920.7,761.4 L921.8,763.7 L922.9,765.9 L924.0,768.2 L925.0,770.4 L926.1,772.7 L927.2,775.0 L928.2,777.2 L929.3,779.5 L930.3,781.8 L931.3,784.0 L932.4,786.3 L933.4,788.6 L934.4,790.9 L935.5,793.2 L936.5,795.4 L937.5,797.7 L938.5,800.0 L939.5,802.3 L940.5,804.6 L941.5,806.9 L942.5,809.2 L943.5,811.5 L944.4,813.8 L945.4,816.1 L946.4,818.4 L947.4,820.7 L948.3,823.0 L949.3,825.3 L950.3,827.6 L951.2,829.9 L952.2,832.2 L953.2,834.5 L954.1,836.8 L955.1,839.1 L956.0,841.5 L957.0,843.8 L957.9,846.1 L958.9,848.4 L959.8,850.7 L960.8,853.0 L961.7,855.3 L962.7,857.7 L963.6,860.0 L964.5,862.3 L965.5,864.6 L966.4,866.9 L967.4,869.2 L968.3,871.5 L969.3,873.9 L970.2,876.2 L971.1,878.5 L972.1,880.8 L973.0,883.1 L974.0,885.4 L974.9,887.7 L975.9,890.1 L976.8,892.4 L977.8,894.7 L978.7,897.0 L979.7,899.3 L980.6,901.6 L981.6,903.9 L982.6,906.2 L983.5,908.5 L984.5,910.8 L985.5,913.1 L986.5,915.4 L987.4,917.7 L988.4,920.0 L989.4,922.3 L990.4,924.6 L991.4,926.9 L992.4,929.2 L993.4,931.5 L994.4,933.8 L995.4,936.1 L996.4,938.4 L997.4,940.7 L998.4,943.0 L999.4,945.2 L1000.5,947.5 L1001.5,949.8 L1002.5,952.1 L1003.6,954.3 L1004.6,956.6 L1005.6,958.9 L1006.7,961.2 L1007.8,963.4 L1008.8,965.7 L1009.9,968.0 L1010.9,970.2 L1012.0,972.5 L1013.1,974.7 L1014.2,977.0 L1015.3,979.2 L1016.3,981.5 L1017.4,983.7 L1018.5,986.0 L1019.6,988.2 L1020.7,990.5 L1021.9,992.7 L1023.0,994.9 L1024.1,997.2 L1025.2,999.4 L1026.3,1001.6 L1027.5,1003.9 L1028.6,1006.1 L1029.8,1008.3 L1030.9,1010.5 L1032.1,1012.7 L1033.2,1015.0 L1034.4,1017.2 L1035.6,1019.4 L1036.8,1021.6 L1037.9,1023.8 L1039.1,1026.0 L1040.3,1028.2 L1041.5,1030.4 L1042.7,1032.6 L1043.9,1034.8 L1045.1,1036.9 L1046.4,1039.1 L1047.6,1041.3 L1048.8,1043.5 L1050.1,1045.7 L1051.3,1047.8 L1052.5,1050.0 L1053.8,1052.2 L1055.1,1054.3 L1056.3,1056.5 L1057.6,1058.6 L1058.9,1060.8 L1060.2,1062.9 L1061.4,1065.1 L1062.7,1067.2 L1064.0,1069.3 L1065.4,1071.5 L1066.7,1073.6 L1068.0,1075.7 L1069.3,1077.8 L1070.6,1079.9 L1072.0,1082.1 L1073.3,1084.2 L1074.7,1086.3 L1076.0,1088.4 L1077.4,1090.5 L1078.8,1092.6 L1080.1,1094.6 L1081.5,1096.7 L1082.9,1098.8 L1084.3,1100.9 L1085.7,1102.9 L1087.1,1105.0 L1088.5,1107.1 L1090.0,1109.1 L1091.4,1111.2 L1092.8,1113.2 L1094.3,1115.3 L1095.7,1117.3 L1097.2,1119.3 L1098.6,1121.4 L1100.1,1123.4 L1101.6,1125.4 L1103.1,1127.4 L1104.6,1129.4 L1106.1,1131.4 L1107.6,1133.4 L1109.1,1135.4 L1110.6,1137.4 L1112.1,1139.4 L1113.7,1141.3 L1115.2,1143.3 L1116.8,1145.3 L1118.3,1147.2 L1119.9,1149.2 L1121.4,1151.1 L1123.0,1153.1 L1124.6,1155.0 L1126.2,1156.9 L1127.8,1158.8 L1129.4,1160.8 L1131.0,1162.7 L1132.6,1164.6 L1134.3,1166.5 L1135.9,1168.4 L1137.6,1170.2 L1139.2,1172.1 L1140.9,1174.0 L1142.5,1175.8 L1144.2,1177.7 L1145.9,1179.6 L1147.6,1181.4 L1149.3,1183.2 L1151.0,1185.1 L1152.7,1186.9 L1154.4,1188.7 L1156.1,1190.5 L1157.9,1192.3 L1159.6,1194.1 L1161.4,1195.9 L1163.1,1197.7 L1164.9,1199.4 L1166.7,1201.2 L1168.5,1202.9 L1170.2,1204.7 L1172.0,1206.4 L1173.8,1208.2 L1175.6,1209.9 L1177.5,1211.6 L1179.3,1213.3 L1181.1,1215.0 L1183.0,1216.7 L1184.8,1218.4 L1186.7,1220.1 L1188.5,1221.7 L1190.4,1223.4 L1192.3,1225.0 L1194.1,1226.7 L1196.0,1228.3 L1197.9,1230.0 L1199.8,1231.6 L1201.7,1233.2 L1203.7,1234.8 L1205.6,1236.4 L1207.5,1238.0 L1209.5,1239.6 L1211.4,1241.1 L1213.3,1242.7 L1215.3,1244.3 L1217.3,1245.8 L1219.2,1247.3 L1221.2,1248.9 L1223.2,1250.4 L1225.2,1251.9 L1227.2,1253.4 L1229.2,1254.9 L1231.2,1256.4 L1233.2,1257.9 L1235.2,1259.4 L1237.2,1260.8 L1239.3,1262.3 L1241.3,1263.7 L1243.4,1265.2 L1245.4,1266.6 L1247.5,1268.0 L1249.5,1269.4 L1251.6,1270.8 L1253.7,1272.2 L1255.8,1273.6 L1257.8,1275.0 L1259.9,1276.4 L1262.0,1277.7 L1264.1,1279.1 L1266.2,1280.4 L1268.4,1281.7 L1270.5,1283.1 L1272.6,1284.4 L1274.7,1285.7 L1276.9,1287.0 L1279.0,1288.3 L1281.2,1289.6 L1283.3,1290.8 L1285.5,1292.1 L1287.6,1293.3 L1289.8,1294.6 L1292.0,1295.8 L1294.2,1297.0 L1296.4,1298.2 L1298.6,1299.4 L1300.7,1300.6 L1302.9,1301.8 L1305.2,1303.0 L1307.4,1304.2 L1309.6,1305.3 L1311.8,1306.5 L1314.0,1307.6 L1316.3,1308.7 L1318.5,1309.8 L1320.7,1311.0 L1323.0,1312.0 L1325.2,1313.1 L1327.5,1314.2 L1329.8,1315.3 L1332.0,1316.3 L1334.3,1317.4 L1336.6,1318.4 L1338.8,1319.5 L1341.1,1320.5 L1343.4,1321.5 L1345.7,1322.5 L1348.0,1323.5 L1350.3,1324.4 L1352.6,1325.4 L1354.9,1326.4 L1357.2,1327.3 L1359.6,1328.2 L1361.9,1329.2 L1364.2,1330.1 L1366.5,1331.0 L1368.9,1331.9 L1371.2,1332.8 L1373.5,1333.6 L1375.9,1334.5 L1378.2,1335.4 L1380.6,1336.2 L1383.0,1337.0 L1385.3,1337.8 L1387.7,1338.7 L1390.1,1339.5 L1392.4,1340.2 L1394.8,1341.0 L1397.2,1341.8 L1399.6,1342.5 L1402.0,1343.3 L1404.3,1344.0 L1406.7,1344.7 L1409.1,1345.4 L1411.5,1346.1 L1413.9,1346.8 L1416.3,1347.5 L1418.8,1348.2 L1421.2,1348.8 L1423.6,1349.5 L1426.0,1350.1 L1428.4,1350.7 L1430.8,1351.4 L1433.3,1352.0 L1435.7,1352.6 L1438.1,1353.2 L1440.6,1353.7 L1443.0,1354.3 L1445.4,1354.9 L1447.9,1355.4 L1450.3,1356.0 L1452.7,1356.5 L1455.2,1357.0 L1457.6,1357.5 L1460.1,1358.0 L1462.5,1358.5 L1465.0,1359.0 L1467.4,1359.5 L1469.9,1360.0 L1472.4,1360.4 L1474.8,1360.9 L1477.3,1361.3 L1479.7,1361.8 L1482.2,1362.2 L1484.7,1362.6 L1487.1,1363.0 L1489.6,1363.5 L1492.1,1363.9 L1494.5,1364.3 L1497.0,1364.6 L1499.5,1365.0 L1501.9,1365.4 L1504.4,1365.8 L1506.9,1366.1 L1509.4,1366.5 L1511.8,1366.8 L1514.3,1367.2 L1516.8,1367.5 L1519.3,1367.8 L1521.7,1368.1 L1524.2,1368.5 L1526.7,1368.8 L1529.2,1369.1 L1531.7,1369.4 L1534.2,1369.7 L1536.6,1369.9 L1539.1,1370.2 L1541.6,1370.5 L1544.1,1370.8 L1546.6,1371.0 L1549.1,1371.3 L1551.5,1371.6 L1554.0,1371.8 L1556.5,1372.0 L1559.0,1372.3 L1561.5,1372.5 L1564.0,1372.8 L1566.5,1373.0 L1569.0,1373.2 L1571.5,1373.4 L1573.9,1373.6 L1576.4,1373.9 L1578.9,1374.1 L1581.4,1374.3 L1583.9,1374.5 L1586.4,1374.7 L1588.9,1374.9 L1591.4,1375.1 L1593.9,1375.2 L1596.4,1375.4 L1598.9,1375.6 L1601.4,1375.8 L1603.9,1376.0 L1606.4,1376.1 L1608.8,1376.3 L1611.3,1376.5 L1613.8,1376.7 L1616.3,1376.8 L1618.8,1377.0 L1621.3,1377.1 L1623.8,1377.3 L1626.3,1377.5 L1628.8,1377.6 L1631.3,1377.8 L1633.8,1377.9 L1636.3,1378.1 L1638.8,1378.2 L1641.3,1378.4 L1643.8,1378.5 L1646.3,1378.6 L1648.8,1378.8 L1651.3,1378.9 L1653.8,1379.1 L1656.3,1379.2 L1658.8,1379.4 L1661.2,1379.5 L1663.7,1379.6 L1666.2,1379.8 L1668.7,1379.9 L1671.2,1380.1 L1673.7,1380.2 L1676.2,1380.3 L1678.7,1380.5 L1681.2,1380.6 L1683.7,1380.8 L1686.2,1380.9 L1688.7,1381.0 L1691.2,1381.2 L1693.7,1381.3 L1696.2,1381.5 L1698.7,1381.6 L1701.2,1381.8 L1703.7,1381.9 L1706.2,1382.1 L1708.7,1382.2 L1711.2,1382.4 L1713.7,1382.5 L1716.2,1382.7 L1718.7,1382.8 L1721.1,1383.0 L1723.6,1383.2 L1726.1,1383.3 L1728.6,1383.5 L1731.1,1383.7 L1733.6,1383.8" stroke="#ff0000" /><path d="M281.3,1388.0 L283.3,1386.5 L285.3,1384.9 L287.2,1383.3 L289.1,1381.7 L290.9,1380.0 L292.8,1378.3 L294.6,1376.6 L296.4,1374.8 L298.1,1373.0 L299.9,1371.2 L301.6,1369.4 L303.2,1367.5 L304.9,1365.7 L306.5,1363.7 L308.1,1361.8 L309.6,1359.9 L311.1,1357.9 L312.6,1355.9 L314.1,1353.8 L315.5,1351.8 L316.9,1349.7 L318.3,1347.6 L319.6,1345.5 L320.9,1343.4 L322.2,1341.2 L323.5,1339.1 L324.7,1336.9 L325.9,1334.7 L327.0,1332.5 L328.2,1330.3 L329.3,1328.0 L330.4,1325.8 L331.4,1323.5 L332.5,1321.2 L333.5,1318.9 L334.4,1316.6 L335.4,1314.3 L336.3,1312.0 L337.2,1309.7 L338.1,1307.3 L339.0,1305.0 L339.8,1302.6 L340.6,1300.3 L341.4,1297.9 L342.2,1295.5 L343.0,1293.1 L343.7,1290.8 L344.4,1288.4 L345.1,1286.0 L345.8,1283.6 L346.5,1281.1 L347.1,1278.7 L347.7,1276.3 L348.3,1273.9 L348.9,1271.5 L349.5,1269.0 L350.1,1266.6 L350.7,1264.2 L351.2,1261.7 L351.7,1259.3 L352.2,1256.8 L352.7,1254.4 L353.2,1251.9 L353.7,1249.5 L354.2,1247.0 L354.7,1244.6 L355.1,1242.1 L355.5,1239.6 L356.0,1237.2 L356.4,1234.7 L356.8,1232.3 L357.2,1229.8 L357.6,1227.3 L358.0,1224.9 L358.4,1222.4 L358.8,1219.9 L359.2,1217.5 L359.6,1215.0 L359.9,1212.5 L360.3,1210.0 L360.7,1207.6 L361.0,1205.1 L361.4,1202.6 L361.7,1200.1 L362.1,1197.7 L362.4,1195.2 L362.8,1192.7 L363.1,1190.2 L363.5,1187.8 L363.8,1185.3 L364.2,1182.8 L364.5,1180.3 L364.9,1177.9 L365.2,1175.4 L365.6,1172.9 L366.0,1170.4 L366.3,1168.0 L366.7,1165.5 L367.0,1163.0 L367.4,1160.5 L367.8,1158.1 L368.1,1155.6 L368.5,1153.1 L368.9,1150.7 L369.2,1148.2 L369.6,1145.7 L370.0,1143.2 L370.4,1140.8 L370.7,1138.3 L371.1,1135.8 L371.5,1133.4 L371.9,1130.9 L372.3,1128.4 L372.6,1126.0 L373.0,1123.5 L373.4,1121.0 L373.8,1118.5 L374.2,1116.1 L374.6,1113.6 L375.0,1111.1 L375.4,1108.7 L375.8,1106.2 L376.2,1103.7 L376.6,1101.3 L377.0,1098.8 L377.4,1096.3 L377.8,1093.9 L378.2,1091.4 L378.6,1088.9 L379.0,1086.5 L379.4,1084.0 L379.8,1081.5 L380.2,1079.1 L380.7,1076.6 L381.1,1074.1 L381.5,1071.7 L381.9,1069.2 L382.3,1066.7 L382.7,1064.3 L383.2,1061.8 L383.6,1059.4 L384.0,1056.9 L384.4,1054.4 L384.9,1052.0 L385.3,1049.5 L385.7,1047.0 L386.2,1044.6 L386.6,1042.1 L387.0,1039.7 L387.5,1037.2 L387.9,1034.7 L388.3,1032.3 L388.8,1029.8 L389.2,1027.4 L389.6,1024.9 L390.1,1022.4 L390.5,1020.0 L391.0,1017.5 L391.4,1015.0 L391.9,1012.6 L392.3,1010.1 L392.8,1007.7 L393.2,1005.2 L393.7,1002.8 L394.1,1000.3 L394.6,997.8 L395.0,995.4 L395.5,992.9 L395.9,990.5 L396.4,988.0 L396.8,985.5 L397.3,983.1 L397.8,980.6 L398.2,978.2 L398.7,975.7 L399.1,973.3 L399.6,970.8 L400.1,968.4 L400.5,965.9 L401.0,963.4 L401.5,961.0 L401.9,958.5 L402.4,956.1 L402.9,953.6 L403.3,951.2 L403.8,948.7 L404.3,946.3 L404.7,943.8 L405.2,941.3 L405.7,938.9 L406.2,936.4 L406.7,934.0 L407.2,931.5 L407.7,929.1 L408.2,926.6 L408.7,924.2 L409.3,921.8 L409.8,919.3 L410.4,916.9 L410.9,914.4 L411.5,912.0 L412.1,909.6 L412.7,907.2 L413.3,904.7 L413.9,902.3 L414.5,899.9 L415.2,897.5 L415.9,895.1 L416.5,892.7 L417.2,890.3 L418.0,887.9 L418.7,885.5 L419.5,883.1 L420.2,880.7 L421.0,878.4 L421.8,876.0 L422.7,873.6 L423.5,871.3 L424.4,868.9 L425.3,866.6 L426.2,864.3 L427.2,862.0 L428.1,859.7 L429.1,857.4 L430.2,855.1 L431.2,852.8 L432.3,850.6 L433.3,848.3 L434.4,846.1 L435.5,843.8 L436.7,841.6 L437.8,839.4 L438.9,837.1 L440.1,834.9 L441.2,832.7 L442.4,830.5 L443.5,828.2 L444.6,826.0 L445.8,823.8 L446.9,821.6 L448.1,819.3 L449.2,817.1 L450.3,814.9 L451.4,812.6 L452.5,810.4 L453.6,808.1 L454.6,805.9 L455.6,803.6 L456.7,801.3 L457.7,799.0 L458.6,796.7 L459.6,794.4 L460.5,792.1 L461.4,789.7 L462.3,787.4 L463.2,785.1 L464.1,782.7 L464.9,780.4 L465.7,778.0 L466.5,775.6 L467.3,773.3 L468.1,770.9 L468.9,768.5 L469.6,766.1 L470.3,763.7 L471.0,761.3 L471.7,758.9 L472.4,756.5 L473.1,754.1 L473.8,751.7 L474.4,749.3 L475.0,746.9 L475.7,744.5 L476.3,742.0 L476.9,739.6 L477.5,737.2 L478.1,734.8 L478.6,732.3 L479.2,729.9 L479.7,727.4 L480.3,725.0 L480.8,722.6 L481.4,720.1 L481.9,717.7 L482.4,715.2 L482.9,712.8 L483.4,710.3 L483.9,707.9 L484.4,705.4 L484.9,703.0 L485.3,700.5 L485.8,698.1 L486.3,695.6 L486.8,693.2 L487.2,690.7 L487.7,688.3 L488.1,685.8 L488.6,683.3 L489.1,680.9 L489.5,678.4 L490.0,676.0 L490.4,673.5 L490.9,671.0 L491.3,668.6 L491.8,666.1 L492.2,663.7 L492.7,661.2 L493.1,658.8 L493.6,656.3 L494.0,653.8 L494.5,651.4 L495.0,648.9 L495.4,646.5 L495.9,644.0 L496.4,641.6 L496.9,639.1 L497.3,636.7 L497.8,634.2 L498.3,631.7 L498.8,629.3 L499.3,626.8 L499.8,624.4 L500.3,621.9 L500.7,619.5 L501.2,617.0 L501.7,614.6 L502.2,612.1 L502.7,609.7 L503.2,607.2 L503.7,604.8 L504.3,602.4 L504.8,599.9 L505.3,597.5 L505.8,595.0 L506.3,592.6 L506.8,590.1 L507.3,587.7 L507.8,585.2 L508.4,582.8 L508.9,580.3 L509.4,577.9 L509.9,575.4 L510.4,573.0 L510.9,570.6 L511.5,568.1 L512.0,565.7 L512.5,563.2 L513.0,560.8 L513.6,558.3 L514.1,555.9 L514.6,553.4 L515.1,551.0 L515.7,548.6 L516.2,546.1 L516.7,543.7 L517.2,541.2 L517.8,538.8 L518.3,536.3 L518.8,533.9 L519.3,531.5 L519.9,529.0 L520.4,526.6 L520.9,524.1 L521.4,521.7 L522.0,519.2 L522.5,516.8 L523.0,514.3 L523.5,511.9 L524.0,509.5 L524.6,507.0 L525.1,504.6 L525.6,502.1 L526.1,499.7 L526.6,497.2 L527.2,494.8 L527.7,492.3 L528.2,489.9 L528.7,487.4 L529.2,485.0 L529.7,482.5 L530.2,480.1 L530.7,477.7 L531.2,475.2 L531.7,472.8 L532.2,470.3 L532.7,467.9 L533.2,465.4 L533.7,463.0 L534.2,460.5 L534.7,458.1 L535.2,455.6 L535.7,453.2 L536.2,450.7 L536.7,448.3 L537.2,445.8 L537.7,443.4 L538.2,440.9 L538.7,438.5 L539.3,436.0 L539.8,433.6 L540.4,431.2 L541.0,428.7 L541.6,426.3 L542.2,423.9 L542.8,421.5 L543.5,419.0 L544.2,416.6 L544.9,414.2 L545.6,411.9 L546.4,409.5 L547.2,407.1 L548.0,404.7 L548.9,402.4 L549.8,400.1 L550.7,397.8 L551.7,395.5 L552.7,393.2 L553.8,390.9 L554.9,388.7 L556.0,386.5 L557.2,384.3 L558.5,382.1 L559.8,380.0 L561.2,377.9 L562.6,375.8 L564.1,373.8 L565.7,371.9 L567.3,370.0 L569.1,368.3 L571.0,366.6 L573.0,365.2 L575.2,363.9 L577.5,362.9 L579.9,362.3 L582.4,362.0 L584.9,362.2 L587.3,362.7 L589.7,363.4 L592.1,364.2 L594.4,365.2 L596.6,366.3 L598.8,367.5 L601.0,368.7 L603.2,369.9 L605.3,371.2 L607.5,372.5 L609.7,373.7 L611.8,374.9 L614.0,376.1 L616.3,377.3 L618.5,378.3 L620.8,379.3 L623.2,380.2 L625.5,380.9 L628.0,381.4 L630.5,381.8 L633.0,381.9 L635.5,381.9 L637.9,381.6 L640.4,381.2 L642.9,380.7 L645.3,380.0 L647.7,379.3 L650.0,378.5 L652.3,377.5 L654.6,376.6 L656.9,375.6 L659.2,374.6 L661.5,373.5 L663.8,372.5 L666.0,371.5 L668.3,370.4 L670.6,369.4 L672.9,368.4 L675.2,367.5 L677.5,366.6 L679.9,365.7 L682.2,364.9 L684.6,364.1 L687.0,363.4 L689.4,362.7 L691.9,362.1 L694.3,361.6 L696.8,361.3 L699.3,361.0 L701.8,360.9 L704.3,360.9 L706.7,361.2 L709.2,361.6 L711.6,362.3 L714.0,363.1 L716.2,364.2 L718.4,365.4 L720.5,366.8 L722.5,368.3 L724.3,370.0 L726.2,371.7 L727.9,373.5 L729.5,375.4 L731.1,377.3 L732.6,379.3 L734.1,381.3 L735.5,383.4 L736.9,385.5 L738.2,387.6 L739.5,389.7 L740.8,391.9 L742.1,394.0 L743.3,396.2 L744.5,398.4 L745.7,400.6 L746.8,402.8 L748.0,405.0 L749.2,407.2 L750.3,409.5 L751.4,411.7 L752.5,413.9 L753.6,416.2 L754.7,418.4 L755.8,420.7 L756.9,422.9 L757.9,425.2 L758.9,427.5 L760.0,429.8 L761.0,432.0 L762.0,434.3 L763.0,436.6 L764.0,438.9 L765.0,441.2 L765.9,443.5 L766.9,445.8 L767.8,448.2 L768.8,450.5 L769.7,452.8 L770.6,455.1 L771.5,457.4 L772.5,459.8 L773.4,462.1 L774.2,464.4 L775.1,466.8 L776.0,469.1 L776.9,471.5 L777.7,473.8 L778.6,476.1 L779.5,478.5 L780.3,480.8 L781.2,483.2 L782.0,485.6 L782.8,487.9 L783.7,490.3 L784.5,492.6 L785.3,495.0 L786.1,497.3 L787.0,499.7 L787.8,502.1 L788.6,504.4 L789.4,506.8 L790.2,509.2 L791.0,511.5 L791.8,513.9 L792.7,516.2 L793.5,518.6 L794.3,521.0 L795.1,523.3 L795.9,525.7 L796.7,528.1 L797.5,530.4 L798.4,532.8 L799.2,535.1 L800.0,537.5 L800.8,539.9 L801.7,542.2 L802.5,544.6 L803.4,546.9 L804.2,549.3 L805.1,551.6 L805.9,554.0 L806.8,556.3 L807.7,558.7 L808.5,561.0 L809.4,563.3 L810.3,565.7 L811.2,568.0 L812.1,570.3 L813.0,572.7 L813.9,575.0 L814.9,577.3 L815.8,579.6 L816.8,581.9 L817.7,584.3 L818.7,586.6 L819.7,588.9 L820.6,591.2 L821.6,593.5 L822.6,595.7 L823.6,598.0 L824.6,600.3 L825.6,602.6 L826.7,604.9 L827.7,607.2 L828.7,609.4 L829.8,611.7 L830.8,614.0 L831.9,616.3 L832.9,618.5 L834.0,620.8 L835.0,623.0 L836.1,625.3 L837.2,627.6 L838.3,629.8 L839.4,632.1 L840.5,634.3 L841.5,636.6 L842.6,638.8 L843.8,641.0 L844.9,643.3 L846.0,645.5 L847.1,647.8 L848.2,650.0 L849.3,652.2 L850.5,654.5 L851.6,656.7 L852.7,658.9 L853.8,661.2 L855.0,663.4 L856.1,665.6 L857.3,667.8 L858.4,670.0 L859.6,672.3 L860.7,674.5 L861.9,676.7 L863.0,678.9 L864.2,681.1 L865.3,683.4 L866.5,685.6 L867.6,687.8 L868.8,690.0 L869.9,692.2 L871.1,694.4 L872.3,696.7 L873.4,698.9 L874.6,701.1 L875.7,703.3 L876.9,705.5 L878.1,707.7 L879.2,709.9 L880.4,712.2 L881.5,714.4 L882.7,716.6 L883.8,718.8 L885.0,721.0 L886.2,723.2 L887.3,725.5 L888.5,727.7 L889.6,729.9 L890.8,732.1 L891.9,734.3 L893.1,736.5 L894.2,738.8 L895.4,741.0 L896.5,743.2 L897.7,745.4 L898.8,747.6 L900.0,749.9 L901.1,752.1 L902.2,754.3 L903.4,756.5 L904.5,758.8 L905.6,761.0 L906.8,763.2 L907.9,765.5 L909.0,767.7 L910.2,769.9 L911.3,772.1 L912.4,774.4 L913.5,776.6 L914.7,778.8 L915.8,781.1 L916.9,783.3 L918.0,785.6 L919.1,787.8 L920.2,790.0 L921.4,792.3 L922.5,794.5 L923.6,796.8 L924.7,799.0 L925.8,801.2 L926.9,803.5 L928.0,805.7 L929.0,808.0 L930.1,810.2 L931.2,812.5 L932.3,814.7 L933.4,817.0 L934.5,819.2 L935.5,821.5 L936.6,823.8 L937.7,826.0 L938.8,828.3 L939.8,830.5 L940.9,832.8 L941.9,835.1 L943.0,837.3 L944.1,839.6 L945.1,841.9 L946.2,844.1 L947.2,846.4 L948.2,848.7 L949.3,851.0 L950.3,853.2 L951.3,855.5 L952.4,857.8 L953.4,860.1 L954.4,862.3 L955.4,864.6 L956.4,866.9 L957.4,869.2 L958.4,871.5 L959.4,873.8 L960.4,876.1 L961.4,878.4 L962.4,880.7 L963.4,883.0 L964.4,885.3 L965.4,887.5 L966.4,889.8 L967.4,892.1 L968.3,894.4 L969.3,896.7 L970.3,899.0 L971.3,901.3 L972.3,903.6 L973.2,905.9 L974.2,908.2 L975.2,910.5 L976.2,912.8 L977.2,915.1 L978.1,917.4 L979.1,919.7 L980.1,922.0 L981.1,924.3 L982.0,926.6 L983.0,928.9 L984.0,931.2 L985.0,933.5 L986.0,935.8 L987.0,938.1 L988.0,940.4 L988.9,942.7 L989.9,945.0 L990.9,947.3 L991.9,949.6 L992.9,951.9 L993.9,954.2 L995.0,956.5 L996.0,958.8 L997.0,961.0 L998.0,963.3 L999.0,965.6 L1000.0,967.9 L1001.1,970.2 L1002.1,972.4 L1003.2,974.7 L1004.2,977.0 L1005.2,979.2 L1006.3,981.5 L1007.4,983.8 L1008.4,986.0 L1009.5,988.3 L1010.6,990.6 L1011.7,992.8 L1012.7,995.1 L1013.8,997.3 L1014.9,999.5 L1016.0,1001.8 L1017.2,1004.0 L1018.3,1006.3 L1019.4,1008.5 L1020.5,1010.7 L1021.7,1013.0 L1022.8,1015.2 L1024.0,1017.4 L1025.1,1019.6 L1026.3,1021.8 L1027.4,1024.0 L1028.6,1026.2 L1029.8,1028.4 L1031.0,1030.6 L1032.2,1032.8 L1033.4,1035.0 L1034.6,1037.2 L1035.8,1039.4 L1037.0,1041.6 L1038.2,1043.8 L1039.5,1045.9 L1040.7,1048.1 L1041.9,1050.3 L1043.2,1052.4 L1044.5,1054.6 L1045.7,1056.8 L1047.0,1058.9 L1048.3,1061.1 L1049.5,1063.2 L1050.8,1065.4 L1052.1,1067.5 L1053.4,1069.6 L1054.7,1071.8 L1056.1,1073.9 L1057.4,1076.0 L1058.7,1078.1 L1060.0,1080.2 L1061.4,1082.3 L1062.7,1084.4 L1064.1,1086.5 L1065.5,1088.6 L1066.8,1090.7 L1068.2,1092.8 L1069.6,1094.9 L1071.0,1097.0 L1072.4,1099.1 L1073.8,1101.1 L1075.2,1103.2 L1076.6,1105.2 L1078.0,1107.3 L1079.4,1109.4 L1080.9,1111.4 L1082.3,1113.4 L1083.8,1115.5 L1085.2,1117.5 L1086.7,1119.5 L1088.2,1121.6 L1089.6,1123.6 L1091.1,1125.6 L1092.6,1127.6 L1094.1,1129.6 L1095.6,1131.6 L1097.1,1133.6 L1098.7,1135.6 L1100.2,1137.5 L1101.7,1139.5 L1103.3,1141.5 L1104.8,1143.4 L1106.4,1145.4 L1107.9,1147.3 L1109.5,1149.3 L1111.1,1151.2 L1112.7,1153.2 L1114.2,1155.1 L1115.8,1157.0 L1117.5,1158.9 L1119.1,1160.8 L1120.7,1162.7 L1122.3,1164.6 L1123.9,1166.5 L1125.6,1168.4 L1127.2,1170.3 L1128.9,1172.2 L1130.6,1174.0 L1132.2,1175.9 L1133.9,1177.8 L1135.6,1179.6 L1137.3,1181.4 L1139.0,1183.3 L1140.7,1185.1 L1142.4,1186.9 L1144.1,1188.7 L1145.8,1190.5 L1147.6,1192.3 L1149.3,1194.1 L1151.1,1195.9 L1152.8,1197.7 L1154.6,1199.5 L1156.4,1201.2 L1158.1,1203.0 L1159.9,1204.7 L1161.7,1206.5 L1163.5,1208.2 L1165.3,1209.9 L1167.2,1211.6 L1169.0,1213.3 L1170.8,1215.0 L1172.7,1216.7 L1174.5,1218.4 L1176.3,1220.1 L1178.2,1221.8 L1180.1,1223.4 L1182.0,1225.1 L1183.8,1226.7 L1185.7,1228.4 L1187.6,1230.0 L1189.5,1231.6 L1191.4,1233.2 L1193.4,1234.8 L1195.3,1236.4 L1197.2,1238.0 L1199.1,1239.6 L1201.1,1241.2 L1203.0,1242.7 L1205.0,1244.3 L1207.0,1245.8 L1208.9,1247.4 L1210.9,1248.9 L1212.9,1250.4 L1214.9,1251.9 L1216.9,1253.4 L1218.9,1254.9 L1220.9,1256.4 L1222.9,1257.9 L1225.0,1259.3 L1227.0,1260.8 L1229.0,1262.2 L1231.1,1263.7 L1233.1,1265.1 L1235.2,1266.5 L1237.2,1267.9 L1239.3,1269.4 L1241.4,1270.7 L1243.4,1272.1 L1245.5,1273.5 L1247.6,1274.9 L1249.7,1276.2 L1251.8,1277.6 L1253.9,1278.9 L1256.1,1280.3 L1258.2,1281.6 L1260.3,1282.9 L1262.4,1284.2 L1264.6,1285.5 L1266.7,1286.8 L1268.9,1288.1 L1271.0,1289.3 L1273.2,1290.6 L1275.3,1291.8 L1277.5,1293.1 L1279.7,1294.3 L1281.9,1295.5 L1284.0,1296.8 L1286.2,1298.0 L1288.4,1299.1 L1290.6,1300.3 L1292.8,1301.5 L1295.1,1302.7 L1297.3,1303.8 L1299.5,1305.0 L1301.7,1306.1 L1304.0,1307.2 L1306.2,1308.4 L1308.4,1309.5 L1310.7,1310.6 L1312.9,1311.6 L1315.2,1312.7 L1317.4,1313.8 L1319.7,1314.9 L1322.0,1315.9 L1324.2,1316.9 L1326.5,1318.0 L1328.8,1319.0 L1331.1,1320.0 L1333.4,1321.0 L1335.7,1322.0 L1338.0,1323.0 L1340.3,1323.9 L1342.6,1324.9 L1344.9,1325.9 L1347.2,1326.8 L1349.5,1327.7 L1351.9,1328.6 L1354.2,1329.6 L1356.5,1330.5 L1358.9,1331.3 L1361.2,1332.2 L1363.5,1333.1 L1365.9,1333.9 L1368.2,1334.8 L1370.6,1335.6 L1373.0,1336.5 L1375.3,1337.3 L1377.7,1338.1 L1380.0,1338.9 L1382.4,1339.7 L1384.8,1340.5 L1387.2,1341.2 L1389.6,1342.0 L1391.9,1342.7 L1394.3,1343.5 L1396.7,1344.2 L1399.1,1344.9 L1401.5,1345.6 L1403.9,1346.3 L1406.3,1347.0 L1408.7,1347.7 L1411.1,1348.3 L1413.6,1349.0 L1416.0,1349.6 L1418.4,1350.3 L1420.8,1350.9 L1423.2,1351.5 L1425.7,1352.1 L1428.1,1352.7 L1430.5,1353.3 L1432.9,1353.9 L1435.4,1354.4 L1437.8,1355.0 L1440.3,1355.5 L1442.7,1356.1 L1445.1,1356.6 L1447.6,1357.1 L1450.0,1357.6 L1452.5,1358.1 L1454.9,1358.6 L1457.4,1359.1 L1459.8,1359.6 L1462.3,1360.1 L1464.7,1360.5 L1467.2,1361.0 L1469.7,1361.4 L1472.1,1361.9 L1474.6,1362.3 L1477.0,1362.7 L1479.5,1363.2 L1482.0,1363.6 L1484.4,1364.0 L1486.9,1364.4 L1489.4,1364.8 L1491.8,1365.2 L1494.3,1365.5 L1496.8,1365.9 L1499.3,1366.3 L1501.7,1366.6 L1504.2,1367.0 L1506.7,1367.3 L1509.2,1367.6 L1511.6,1368.0 L1514.1,1368.3 L1516.6,1368.6 L1519.1,1368.9 L1521.6,1369.2 L1524.0,1369.5 L1526.5,1369.8 L1529.0,1370.1 L1531.5,1370.4 L1534.0,1370.7 L1536.5,1371.0 L1538.9,1371.2 L1541.4,1371.5 L1543.9,1371.8 L1546.4,1372.0 L1548.9,1372.3 L1551.4,1372.5 L1553.9,1372.8 L1556.3,1373.0 L1558.8,1373.2 L1561.3,1373.5 L1563.8,1373.7 L1566.3,1373.9 L1568.8,1374.1 L1571.3,1374.3 L1573.8,1374.6 L1576.3,1374.8 L1578.8,1375.0 L1581.3,1375.2 L1583.7,1375.4 L1586.2,1375.5 L1588.7,1375.7 L1591.2,1375.9 L1593.7,1376.1 L1596.2,1376.3 L1598.7,1376.5 L1601.2,1376.6 L1603.7,1376.8 L1606.2,1377.0 L1608.7,1377.1 L1611.2,1377.3 L1613.7,1377.5 L1616.2,1377.6 L1618.7,1377.8 L1621.1,1377.9 L1623.6,1378.1 L1626.1,1378.2 L1628.6,1378.4 L1631.1,1378.5 L1633.6,1378.7 L1636.1,1378.8 L1638.6,1379.0 L1641.1,1379.1 L1643.6,1379.3 L1646.1,1379.4 L1648.6,1379.5 L1651.1,1379.7 L1653.6,1379.8 L1656.1,1380.0 L1658.6,1380.1 L1661.1,1380.2 L1663.6,1380.4 L1666.1,1380.5 L1668.6,1380.6 L1671.1,1380.8 L1673.6,1380.9 L1676.0,1381.1 L1678.5,1381.2 L1681.0,1381.3 L1683.5,1381.5 L1686.0,1381.6 L1688.5,1381.7 L1691.0,1381.9 L1693.5,1382.0 L1696.0,1382.2 L1698.5,1382.3 L1701.0,1382.4 L1703.5,1382.6 L1706.0,1382.7 L1708.5,1382.9 L1711.0,1383.0 L1713.5,1383.2 L1716.0,1383.3 L1718.5,1383.5 L1721.0,1383.6 L1723.5,1383.8 L1726.0,1384.0 L1728.5,1384.1 L1730.9,1384.3 L1733.4,1384.5" stroke="#00ff00" /><path d="M279.2,1386.1 L281.6,1385.5 L284.0,1384.7 L286.3,1383.9 L288.6,1382.9 L290.9,1381.8 L293.1,1380.6 L295.2,1379.3 L297.3,1378.0 L299.3,1376.5 L301.3,1374.9 L303.1,1373.3 L305.0,1371.6 L306.7,1369.8 L308.4,1367.9 L310.0,1366.0 L311.6,1364.1 L313.1,1362.1 L314.5,1360.0 L315.9,1358.0 L317.2,1355.8 L318.5,1353.7 L319.8,1351.6 L321.0,1349.4 L322.2,1347.2 L323.3,1345.0 L324.5,1342.7 L325.6,1340.5 L326.6,1338.2 L327.7,1336.0 L328.7,1333.7 L329.8,1331.4 L330.8,1329.1 L331.8,1326.8 L332.7,1324.5 L333.7,1322.2 L334.6,1319.9 L335.5,1317.6 L336.4,1315.2 L337.3,1312.9 L338.1,1310.5 L339.0,1308.2 L339.8,1305.8 L340.6,1303.5 L341.4,1301.1 L342.2,1298.7 L343.0,1296.3 L343.7,1294.0 L344.4,1291.6 L345.2,1289.2 L345.9,1286.8 L346.6,1284.4 L347.2,1282.0 L347.9,1279.6 L348.6,1277.2 L349.2,1274.7 L349.8,1272.3 L350.4,1269.9 L351.0,1267.5 L351.6,1265.1 L352.2,1262.6 L352.8,1260.2 L353.3,1257.8 L353.9,1255.3 L354.4,1252.9 L354.9,1250.4 L355.5,1248.0 L356.0,1245.5 L356.5,1243.1 L357.0,1240.6 L357.5,1238.2 L357.9,1235.7 L358.4,1233.3 L358.9,1230.8 L359.3,1228.4 L359.8,1225.9 L360.2,1223.5 L360.7,1221.0 L361.1,1218.5 L361.5,1216.1 L362.0,1213.6 L362.4,1211.2 L362.8,1208.7 L363.2,1206.2 L363.6,1203.8 L364.0,1201.3 L364.4,1198.8 L364.9,1196.4 L365.3,1193.9 L365.7,1191.4 L366.1,1189.0 L366.4,1186.5 L366.8,1184.0 L367.2,1181.6 L367.6,1179.1 L368.0,1176.6 L368.4,1174.2 L368.8,1171.7 L369.2,1169.2 L369.6,1166.8 L370.0,1164.3 L370.4,1161.8 L370.8,1159.4 L371.2,1156.9 L371.6,1154.4 L372.0,1152.0 L372.4,1149.5 L372.8,1147.0 L373.3,1144.6 L373.7,1142.1 L374.1,1139.6 L374.5,1137.2 L374.9,1134.7 L375.3,1132.3 L375.7,1129.8 L376.1,1127.3 L376.6,1124.9 L377.0,1122.4 L377.4,1119.9 L377.8,1117.5 L378.3,1115.0 L378.7,1112.6 L379.1,1110.1 L379.6,1107.6 L380.0,1105.2 L380.5,1102.7 L380.9,1100.3 L381.4,1097.8 L381.8,1095.3 L382.3,1092.9 L382.7,1090.4 L383.2,1088.0 L383.6,1085.5 L384.1,1083.1 L384.6,1080.6 L385.1,1078.2 L385.5,1075.7 L386.0,1073.2 L386.5,1070.8 L387.0,1068.3 L387.5,1065.9 L388.0,1063.4 L388.5,1061.0 L389.0,1058.6 L389.5,1056.1 L390.0,1053.7 L390.5,1051.2 L391.1,1048.8 L391.6,1046.3 L392.1,1043.9 L392.7,1041.5 L393.2,1039.0 L393.7,1036.6 L394.3,1034.1 L394.9,1031.7 L395.4,1029.3 L396.0,1026.8 L396.6,1024.4 L397.1,1022.0 L397.7,1019.5 L398.3,1017.1 L398.9,1014.7 L399.5,1012.3 L400.1,1009.8 L400.7,1007.4 L401.4,1005.0 L402.0,1002.6 L402.6,1000.2 L403.2,997.7 L403.9,995.3 L404.5,992.9 L405.2,990.5 L405.9,988.1 L406.5,985.7 L407.2,983.3 L407.9,980.9 L408.6,978.5 L409.3,976.1 L410.0,973.7 L410.7,971.3 L411.5,968.9 L412.2,966.5 L413.0,964.1 L413.7,961.8 L414.5,959.4 L415.3,957.0 L416.1,954.6 L416.9,952.3 L417.7,949.9 L418.5,947.6 L419.4,945.2 L420.2,942.9 L421.1,940.5 L422.0,938.2 L422.9,935.8 L423.8,933.5 L424.7,931.2 L425.6,928.9 L426.6,926.6 L427.6,924.3 L428.5,922.0 L429.5,919.7 L430.6,917.4 L431.6,915.1 L432.6,912.9 L433.7,910.6 L434.8,908.3 L435.9,906.1 L437.0,903.9 L438.1,901.6 L439.2,899.4 L440.4,897.2 L441.5,895.0 L442.7,892.7 L443.8,890.5 L445.0,888.3 L446.1,886.1 L447.3,883.9 L448.4,881.7 L449.6,879.4 L450.7,877.2 L451.8,875.0 L453.0,872.7 L454.1,870.5 L455.2,868.3 L456.3,866.0 L457.3,863.7 L458.4,861.5 L459.4,859.2 L460.4,856.9 L461.4,854.6 L462.4,852.3 L463.3,850.0 L464.3,847.7 L465.2,845.4 L466.1,843.0 L466.9,840.7 L467.8,838.3 L468.6,836.0 L469.5,833.6 L470.3,831.3 L471.1,828.9 L471.8,826.5 L472.6,824.1 L473.4,821.8 L474.1,819.4 L474.8,817.0 L475.5,814.6 L476.2,812.2 L476.9,809.8 L477.6,807.4 L478.2,805.0 L478.9,802.6 L479.5,800.1 L480.1,797.7 L480.7,795.3 L481.3,792.9 L481.9,790.4 L482.5,788.0 L483.1,785.6 L483.7,783.1 L484.2,780.7 L484.8,778.3 L485.3,775.8 L485.8,773.4 L486.4,771.0 L486.9,768.5 L487.4,766.1 L487.9,763.6 L488.4,761.2 L488.9,758.7 L489.4,756.3 L489.9,753.8 L490.4,751.4 L490.9,748.9 L491.4,746.5 L491.9,744.0 L492.3,741.6 L492.8,739.1 L493.3,736.7 L493.7,734.2 L494.2,731.8 L494.7,729.3 L495.1,726.8 L495.6,724.4 L496.1,721.9 L496.6,719.5 L497.0,717.0 L497.5,714.6 L498.0,712.1 L498.4,709.7 L498.9,707.2 L499.4,704.8 L499.9,702.3 L500.4,699.9 L500.8,697.4 L501.3,695.0 L501.8,692.5 L502.3,690.1 L502.8,687.6 L503.4,685.2 L503.9,682.7 L504.4,680.3 L504.9,677.8 L505.4,675.4 L506.0,672.9 L506.5,670.5 L507.0,668.1 L507.5,665.6 L508.1,663.2 L508.6,660.7 L509.2,658.3 L509.7,655.9 L510.3,653.4 L510.8,651.0 L511.4,648.6 L511.9,646.1 L512.5,643.7 L513.1,641.3 L513.6,638.8 L514.2,636.4 L514.8,634.0 L515.4,631.5 L515.9,629.1 L516.5,626.7 L517.1,624.2 L517.7,621.8 L518.3,619.4 L518.8,616.9 L519.4,614.5 L520.0,612.1 L520.6,609.7 L521.2,607.2 L521.8,604.8 L522.4,602.4 L523.0,600.0 L523.6,597.5 L524.2,595.1 L524.8,592.7 L525.4,590.3 L526.0,587.8 L526.6,585.4 L527.2,583.0 L527.8,580.6 L528.4,578.1 L529.0,575.7 L529.6,573.3 L530.2,570.9 L530.8,568.4 L531.5,566.0 L532.1,563.6 L532.7,561.2 L533.3,558.7 L533.9,556.3 L534.5,553.9 L535.1,551.5 L535.7,549.0 L536.3,546.6 L536.9,544.2 L537.5,541.8 L538.1,539.4 L538.8,536.9 L539.4,534.5 L540.0,532.1 L540.6,529.7 L541.2,527.2 L541.8,524.8 L542.4,522.4 L543.0,520.0 L543.6,517.5 L544.2,515.1 L544.8,512.7 L545.4,510.3 L546.0,507.8 L546.7,505.4 L547.3,503.0 L548.0,500.6 L548.7,498.2 L549.4,495.8 L550.2,493.4 L551.0,491.1 L551.8,488.7 L552.7,486.4 L553.7,484.1 L554.7,481.8 L555.8,479.6 L557.1,477.4 L558.4,475.3 L559.8,473.2 L561.4,471.3 L563.1,469.5 L565.0,467.8 L567.0,466.4 L569.2,465.1 L571.5,464.1 L573.8,463.3 L576.3,462.7 L578.7,462.4 L581.2,462.2 L583.7,462.1 L586.2,462.2 L588.7,462.5 L591.2,462.8 L593.6,463.2 L596.1,463.8 L598.5,464.4 L600.9,465.1 L603.3,465.9 L605.6,466.7 L607.9,467.6 L610.3,468.6 L612.6,469.5 L614.9,470.5 L617.2,471.4 L619.6,472.3 L621.9,473.1 L624.3,473.8 L626.7,474.5 L629.2,475.0 L631.6,475.3 L634.1,475.5 L636.6,475.6 L639.1,475.4 L641.6,475.1 L644.0,474.6 L646.4,473.9 L648.8,473.1 L651.1,472.1 L653.4,471.1 L655.6,470.0 L657.8,468.8 L660.0,467.6 L662.2,466.4 L664.4,465.1 L666.5,463.9 L668.7,462.6 L670.9,461.4 L673.1,460.2 L675.3,459.1 L677.5,457.9 L679.8,456.9 L682.1,455.9 L684.4,455.1 L686.8,454.3 L689.2,453.7 L691.7,453.2 L694.2,452.8 L696.6,452.6 L699.1,452.4 L701.6,452.4 L704.1,452.6 L706.6,452.8 L709.1,453.2 L711.5,453.8 L713.9,454.4 L716.3,455.2 L718.6,456.2 L720.9,457.3 L723.0,458.5 L725.2,459.8 L727.2,461.3 L729.2,462.8 L731.0,464.4 L732.9,466.2 L734.6,467.9 L736.3,469.8 L737.9,471.7 L739.4,473.7 L740.9,475.7 L742.4,477.7 L743.8,479.8 L745.1,481.9 L746.4,484.0 L747.7,486.2 L748.9,488.4 L750.1,490.6 L751.2,492.8 L752.4,495.0 L753.5,497.2 L754.6,499.5 L755.6,501.8 L756.7,504.0 L757.7,506.3 L758.8,508.6 L759.8,510.8 L760.8,513.1 L761.8,515.4 L762.8,517.7 L763.8,520.0 L764.8,522.3 L765.7,524.6 L766.7,526.9 L767.7,529.2 L768.6,531.5 L769.6,533.8 L770.5,536.1 L771.5,538.5 L772.4,540.8 L773.3,543.1 L774.2,545.4 L775.2,547.7 L776.1,550.1 L777.0,552.4 L777.9,554.7 L778.8,557.1 L779.7,559.4 L780.6,561.7 L781.5,564.1 L782.3,566.4 L783.2,568.7 L784.1,571.1 L785.0,573.4 L785.9,575.8 L786.7,578.1 L787.6,580.4 L788.5,582.8 L789.4,585.1 L790.2,587.5 L791.1,589.8 L792.0,592.1 L792.9,594.5 L793.7,596.8 L794.6,599.2 L795.5,601.5 L796.4,603.8 L797.3,606.2 L798.1,608.5 L799.0,610.8 L799.9,613.2 L800.8,615.5 L801.7,617.8 L802.6,620.2 L803.5,622.5 L804.4,624.8 L805.4,627.1 L806.3,629.5 L807.2,631.8 L808.1,634.1 L809.1,636.4 L810.0,638.7 L811.0,641.0 L812.0,643.3 L812.9,645.7 L813.9,648.0 L814.9,650.2 L815.9,652.5 L816.9,654.8 L817.9,657.1 L818.9,659.4 L819.9,661.7 L821.0,663.9 L822.0,666.2 L823.1,668.5 L824.2,670.7 L825.2,673.0 L826.3,675.2 L827.4,677.5 L828.5,679.7 L829.6,682.0 L830.7,684.2 L831.9,686.4 L833.0,688.7 L834.1,690.9 L835.3,693.1 L836.4,695.3 L837.6,697.5 L838.7,699.8 L839.9,702.0 L841.1,704.2 L842.2,706.4 L843.4,708.6 L844.6,710.8 L845.8,713.0 L847.0,715.2 L848.2,717.4 L849.4,719.6 L850.6,721.7 L851.8,723.9 L853.0,726.1 L854.2,728.3 L855.5,730.5 L856.7,732.7 L857.9,734.8 L859.1,737.0 L860.3,739.2 L861.6,741.4 L862.8,743.6 L864.0,745.7 L865.2,747.9 L866.5,750.1 L867.7,752.3 L868.9,754.4 L870.2,756.6 L871.4,758.8 L872.6,761.0 L873.8,763.1 L875.1,765.3 L876.3,767.5 L877.5,769.7 L878.7,771.9 L880.0,774.0 L881.2,776.2 L882.4,778.4 L883.6,780.6 L884.8,782.8 L886.0,785.0 L887.2,787.1 L888.4,789.3 L889.6,791.5 L890.8,793.7 L892.0,795.9 L893.2,798.1 L894.4,800.3 L895.6,802.5 L896.8,804.7 L897.9,806.9 L899.1,809.1 L900.3,811.3 L901.5,813.5 L902.6,815.8 L903.8,818.0 L904.9,820.2 L906.1,822.4 L907.3,824.6 L908.4,826.8 L909.6,829.0 L910.7,831.3 L911.9,833.5 L913.0,835.7 L914.1,837.9 L915.3,840.2 L916.4,842.4 L917.5,844.6 L918.7,846.8 L919.8,849.1 L920.9,851.3 L922.1,853.5 L923.2,855.7 L924.3,858.0 L925.4,860.2 L926.6,862.4 L927.7,864.7 L928.8,866.9 L929.9,869.1 L931.0,871.4 L932.2,873.6 L933.3,875.8 L934.4,878.1 L935.5,880.3 L936.6,882.6 L937.7,884.8 L938.9,887.0 L940.0,889.3 L941.1,891.5 L942.2,893.7 L943.3,896.0 L944.4,898.2 L945.5,900.4 L946.6,902.7 L947.8,904.9 L948.9,907.2 L950.0,909.4 L951.1,911.6 L952.2,913.9 L953.3,916.1 L954.4,918.3 L955.6,920.6 L956.7,922.8 L957.8,925.0 L958.9,927.3 L960.0,929.5 L961.1,931.7 L962.3,934.0 L963.4,936.2 L964.5,938.4 L965.6,940.7 L966.8,942.9 L967.9,945.1 L969.0,947.4 L970.2,949.6 L971.3,951.8 L972.4,954.0 L973.6,956.3 L974.7,958.5 L975.8,960.7 L977.0,962.9 L978.1,965.2 L979.3,967.4 L980.4,969.6 L981.6,971.8 L982.7,974.0 L983.9,976.2 L985.1,978.5 L986.2,980.7 L987.4,982.9 L988.5,985.1 L989.7,987.3 L990.9,989.5 L992.1,991.7 L993.3,993.9 L994.4,996.1 L995.6,998.3 L996.8,1000.5 L998.0,1002.7 L999.2,1004.9 L1000.4,1007.1 L1001.6,1009.3 L1002.8,1011.5 L1004.0,1013.6 L1005.2,1015.8 L1006.5,1018.0 L1007.7,1020.2 L1008.9,1022.4 L1010.1,1024.5 L1011.4,1026.7 L1012.6,1028.9 L1013.9,1031.0 L1015.1,1033.2 L1016.4,1035.4 L1017.6,1037.5 L1018.9,1039.7 L1020.1,1041.8 L1021.4,1044.0 L1022.7,1046.1 L1024.0,1048.3 L1025.3,1050.4 L1026.5,1052.6 L1027.8,1054.7 L1029.1,1056.8 L1030.4,1059.0 L1031.7,1061.1 L1033.1,1063.2 L1034.4,1065.4 L1035.7,1067.5 L1037.0,1069.6 L1038.4,1071.7 L1039.7,1073.8 L1041.0,1075.9 L1042.4,1078.0 L1043.8,1080.1 L1045.1,1082.2 L1046.5,1084.3 L1047.8,1086.4 L1049.2,1088.5 L1050.6,1090.6 L1052.0,1092.6 L1053.4,1094.7 L1054.8,1096.8 L1056.2,1098.9 L1057.6,1100.9 L1059.0,1103.0 L1060.4,1105.0 L1061.9,1107.1 L1063.3,1109.1 L1064.7,1111.2 L1066.2,1113.2 L1067.6,1115.2 L1069.1,1117.3 L1070.6,1119.3 L1072.0,1121.3 L1073.5,1123.3 L1075.0,1125.3 L1076.5,1127.4 L1078.0,1129.4 L1079.5,1131.4 L1081.0,1133.3 L1082.5,1135.3 L1084.0,1137.3 L1085.5,1139.3 L1087.1,1141.3 L1088.6,1143.2 L1090.2,1145.2 L1091.7,1147.2 L1093.3,1149.1 L1094.8,1151.1 L1096.4,1153.0 L1098.0,1154.9 L1099.6,1156.9 L1101.2,1158.8 L1102.8,1160.7 L1104.4,1162.6 L1106.0,1164.5 L1107.6,1166.4 L1109.2,1168.3 L1110.9,1170.2 L1112.5,1172.1 L1114.2,1174.0 L1115.8,1175.8 L1117.5,1177.7 L1119.2,1179.5 L1120.9,1181.4 L1122.5,1183.2 L1124.2,1185.1 L1125.9,1186.9 L1127.7,1188.7 L1129.4,1190.5 L1131.1,1192.3 L1132.8,1194.1 L1134.6,1195.9 L1136.3,1197.7 L1138.1,1199.5 L1139.8,1201.3 L1141.6,1203.0 L1143.4,1204.8 L1145.2,1206.5 L1147.0,1208.3 L1148.8,1210.0 L1150.6,1211.7 L1152.4,1213.4 L1154.2,1215.1 L1156.1,1216.8 L1157.9,1218.5 L1159.8,1220.2 L1161.6,1221.9 L1163.5,1223.5 L1165.4,1225.2 L1167.3,1226.8 L1169.2,1228.4 L1171.1,1230.1 L1173.0,1231.7 L1174.9,1233.3 L1176.8,1234.9 L1178.7,1236.5 L1180.7,1238.0 L1182.6,1239.6 L1184.6,1241.2 L1186.5,1242.7 L1188.5,1244.2 L1190.5,1245.8 L1192.5,1247.3 L1194.5,1248.8 L1196.5,1250.3 L1198.5,1251.7 L1200.5,1253.2 L1202.5,1254.7 L1204.6,1256.1 L1206.6,1257.6 L1208.7,1259.0 L1210.7,1260.4 L1212.8,1261.8 L1214.8,1263.2 L1216.9,1264.6 L1219.0,1266.0 L1221.1,1267.4 L1223.2,1268.7 L1225.3,1270.1 L1227.4,1271.4 L1229.5,1272.8 L1231.6,1274.1 L1233.8,1275.4 L1235.9,1276.7 L1238.0,1278.0 L1240.2,1279.3 L1242.3,1280.6 L1244.5,1281.8 L1246.6,1283.1 L1248.8,1284.3 L1251.0,1285.6 L1253.2,1286.8 L1255.3,1288.0 L1257.5,1289.2 L1259.7,1290.4 L1261.9,1291.6 L1264.1,1292.8 L1266.3,1293.9 L1268.6,1295.1 L1270.8,1296.2 L1273.0,1297.4 L1275.2,1298.5 L1277.5,1299.6 L1279.7,1300.7 L1281.9,1301.8 L1284.2,1302.9 L1286.4,1304.0 L1288.7,1305.1 L1291.0,1306.1 L1293.2,1307.2 L1295.5,1308.2 L1297.8,1309.3 L1300.0,1310.3 L1302.3,1311.3 L1304.6,1312.3 L1306.9,1313.3 L1309.2,1314.3 L1311.5,1315.3 L1313.8,1316.3 L1316.1,1317.2 L1318.4,1318.2 L1320.7,1319.1 L1323.0,1320.1 L1325.4,1321.0 L1327.7,1321.9 L1330.0,1322.8 L1332.3,1323.7 L1334.7,1324.6 L1337.0,1325.5 L1339.3,1326.4 L1341.7,1327.3 L1344.0,1328.1 L1346.4,1329.0 L1348.7,1329.8 L1351.1,1330.7 L1353.4,1331.5 L1355.8,1332.3 L1358.2,1333.1 L1360.5,1333.9 L1362.9,1334.7 L1365.3,1335.5 L1367.6,1336.3 L1370.0,1337.1 L1372.4,1337.8 L1374.8,1338.6 L1377.2,1339.4 L1379.5,1340.1 L1381.9,1340.8 L1384.3,1341.6 L1386.7,1342.3 L1389.1,1343.0 L1391.5,1343.7 L1393.9,1344.4 L1396.3,1345.1 L1398.7,1345.8 L1401.1,1346.4 L1403.5,1347.1 L1405.9,1347.8 L1408.4,1348.4 L1410.8,1349.1 L1413.2,1349.7 L1415.6,1350.3 L1418.0,1350.9 L1420.4,1351.6 L1422.9,1352.2 L1425.3,1352.8 L1427.7,1353.4 L1430.1,1354.0 L1432.6,1354.5 L1435.0,1355.1 L1437.4,1355.7 L1439.9,1356.2 L1442.3,1356.8 L1444.7,1357.3 L1447.2,1357.9 L1449.6,1358.4 L1452.1,1358.9 L1454.5,1359.5 L1457.0,1360.0 L1459.4,1360.5 L1461.9,1361.0 L1464.3,1361.5 L1466.8,1362.0 L1469.2,1362.4 L1471.7,1362.9 L1474.1,1363.4 L1476.6,1363.9 L1479.0,1364.3 L1481.5,1364.8 L1483.9,1365.2 L1486.4,1365.6 L1488.9,1366.1 L1491.3,1366.5 L1493.8,1366.9 L1496.3,1367.3 L1498.7,1367.7 L1501.2,1368.1 L1503.6,1368.5 L1506.1,1368.9 L1508.6,1369.3 L1511.1,1369.7 L1513.5,1370.1 L1516.0,1370.4 L1518.5,1370.8 L1520.9,1371.1 L1523.4,1371.5 L1525.9,1371.8 L1528.4,1372.2 L1530.8,1372.5 L1533.3,1372.8 L1535.8,1373.2 L1538.3,1373.5 L1540.8,1373.8 L1543.2,1374.1 L1545.7,1374.4 L1548.2,1374.7 L1550.7,1375.0 L1553.2,1375.3 L1555.6,1375.5 L1558.1,1375.8 L1560.6,1376.1 L1563.1,1376.3 L1565.6,1376.6 L1568.1,1376.8 L1570.6,1377.1 L1573.0,1377.3 L1575.5,1377.6 L1578.0,1377.8 L1580.5,1378.0 L1583.0,1378.3 L1585.5,1378.5 L1588.0,1378.7 L1590.5,1378.9 L1593.0,1379.1 L1595.4,1379.3 L1597.9,1379.5 L1600.4,1379.7 L1602.9,1379.8 L1605.4,1380.0 L1607.9,1380.2 L1610.4,1380.4 L1612.9,1380.5 L1615.4,1380.7 L1617.9,1380.8 L1620.4,1381.0 L1622.9,1381.1 L1625.4,1381.3 L1627.9,1381.4 L1630.4,1381.5 L1632.9,1381.7 L1635.3,1381.8 L1637.8,1381.9 L1640.3,1382.0 L1642.8,1382.1 L1645.3,1382.2 L1647.8,1382.3 L1650.3,1382.4 L1652.8,1382.5 L1655.3,1382.6 L1657.8,1382.7 L1660.3,1382.8 L1662.8,1382.8 L1665.3,1382.9 L1667.8,1383.0 L1670.3,1383.0 L1672.8,1383.1 L1675.3,1383.1 L1677.8,1383.2 L1680.3,1383.2 L1682.8,1383.3 L1685.3,1383.3 L1687.8,1383.3 L1690.3,1383.3 L1692.8,1383.4 L1695.3,1383.4 L1697.8,1383.4 L1700.3,1383.4 L1702.8,1383.4 L1705.3,1383.4 L1707.8,1383.4 L1710.3,1383.4 L1712.8,1383.4 L1715.3,1383.4 L1717.8,1383.4 L1720.3,1383.4 L1722.8,1383.3 L1725.3,1383.3 L1727.8,1383.3 L1730.3,1383.2 L1732.8,1383.2" stroke="#0000ff" /><path d="M278.8,1386.4 L281.2,1385.9 L283.7,1385.4 L286.1,1384.7 L288.4,1383.9 L290.8,1383.0 L293.0,1382.0 L295.3,1380.8 L297.4,1379.6 L299.5,1378.2 L301.5,1376.7 L303.5,1375.1 L305.4,1373.5 L307.2,1371.7 L308.9,1369.9 L310.5,1368.0 L312.1,1366.1 L313.6,1364.1 L315.0,1362.1 L316.4,1360.0 L317.7,1357.8 L319.0,1355.7 L320.2,1353.5 L321.4,1351.3 L322.5,1349.1 L323.7,1346.9 L324.7,1344.6 L325.8,1342.3 L326.8,1340.1 L327.9,1337.8 L328.9,1335.5 L329.9,1333.2 L330.9,1330.9 L331.9,1328.6 L332.8,1326.3 L333.8,1324.0 L334.7,1321.7 L335.7,1319.4 L336.6,1317.0 L337.5,1314.7 L338.4,1312.4 L339.3,1310.0 L340.1,1307.7 L341.0,1305.4 L341.8,1303.0 L342.7,1300.6 L343.5,1298.3 L344.3,1295.9 L345.1,1293.5 L345.9,1291.2 L346.7,1288.8 L347.4,1286.4 L348.2,1284.0 L348.9,1281.6 L349.7,1279.3 L350.4,1276.9 L351.1,1274.5 L351.8,1272.1 L352.5,1269.7 L353.2,1267.3 L353.8,1264.9 L354.5,1262.4 L355.1,1260.0 L355.8,1257.6 L356.4,1255.2 L357.0,1252.8 L357.6,1250.3 L358.2,1247.9 L358.8,1245.5 L359.4,1243.1 L360.0,1240.6 L360.6,1238.2 L361.1,1235.8 L361.7,1233.3 L362.2,1230.9 L362.7,1228.4 L363.3,1226.0 L363.8,1223.5 L364.3,1221.1 L364.8,1218.6 L365.3,1216.2 L365.8,1213.7 L366.2,1211.3 L366.7,1208.8 L367.2,1206.4 L367.6,1203.9 L368.1,1201.5 L368.5,1199.0 L369.0,1196.5 L369.4,1194.1 L369.8,1191.6 L370.3,1189.1 L370.7,1186.7 L371.1,1184.2 L371.5,1181.7 L371.9,1179.3 L372.3,1176.8 L372.7,1174.3 L373.0,1171.9 L373.4,1169.4 L373.8,1166.9 L374.2,1164.5 L374.5,1162.0 L374.9,1159.5 L375.3,1157.0 L375.6,1154.6 L376.0,1152.1 L376.4,1149.6 L376.7,1147.1 L377.1,1144.7 L377.4,1142.2 L377.8,1139.7 L378.1,1137.2 L378.5,1134.8 L378.8,1132.3 L379.2,1129.8 L379.6,1127.4 L379.9,1124.9 L380.3,1122.4 L380.7,1119.9 L381.0,1117.5 L381.4,1115.0 L381.8,1112.5 L382.1,1110.0 L382.5,1107.6 L382.9,1105.1 L383.3,1102.6 L383.7,1100.2 L384.1,1097.7 L384.5,1095.2 L384.9,1092.8 L385.3,1090.3 L385.7,1087.8 L386.2,1085.4 L386.6,1082.9 L387.0,1080.4 L387.5,1078.0 L387.9,1075.5 L388.4,1073.1 L388.9,1070.6 L389.4,1068.2 L389.9,1065.7 L390.4,1063.3 L390.9,1060.8 L391.4,1058.4 L391.9,1055.9 L392.5,1053.5 L393.0,1051.1 L393.6,1048.6 L394.2,1046.2 L394.8,1043.8 L395.4,1041.3 L396.0,1038.9 L396.6,1036.5 L397.2,1034.1 L397.9,1031.7 L398.6,1029.3 L399.3,1026.8 L400.0,1024.4 L400.7,1022.1 L401.4,1019.7 L402.1,1017.3 L402.9,1014.9 L403.7,1012.5 L404.5,1010.1 L405.3,1007.8 L406.1,1005.4 L407.0,1003.1 L407.8,1000.7 L408.7,998.4 L409.6,996.0 L410.5,993.7 L411.4,991.4 L412.4,989.1 L413.3,986.8 L414.3,984.5 L415.2,982.2 L416.2,979.9 L417.2,977.6 L418.2,975.3 L419.2,973.0 L420.3,970.7 L421.3,968.4 L422.3,966.2 L423.4,963.9 L424.4,961.6 L425.5,959.3 L426.5,957.1 L427.6,954.8 L428.7,952.6 L429.7,950.3 L430.8,948.0 L431.9,945.8 L433.0,943.5 L434.0,941.3 L435.1,939.0 L436.2,936.8 L437.3,934.5 L438.3,932.2 L439.4,930.0 L440.5,927.7 L441.5,925.5 L442.6,923.2 L443.7,920.9 L444.7,918.7 L445.7,916.4 L446.8,914.1 L447.8,911.8 L448.8,909.6 L449.8,907.3 L450.8,905.0 L451.8,902.7 L452.8,900.4 L453.8,898.1 L454.8,895.8 L455.7,893.5 L456.6,891.1 L457.6,888.8 L458.5,886.5 L459.4,884.2 L460.3,881.8 L461.1,879.5 L462.0,877.1 L462.9,874.8 L463.7,872.4 L464.5,870.1 L465.4,867.7 L466.2,865.4 L467.0,863.0 L467.8,860.6 L468.6,858.3 L469.3,855.9 L470.1,853.5 L470.9,851.1 L471.6,848.7 L472.4,846.3 L473.1,844.0 L473.8,841.6 L474.5,839.2 L475.3,836.8 L476.0,834.4 L476.7,832.0 L477.3,829.6 L478.0,827.2 L478.7,824.8 L479.4,822.4 L480.0,819.9 L480.7,817.5 L481.4,815.1 L482.0,812.7 L482.7,810.3 L483.3,807.9 L483.9,805.5 L484.6,803.0 L485.2,800.6 L485.8,798.2 L486.4,795.8 L487.0,793.3 L487.7,790.9 L488.3,788.5 L488.9,786.1 L489.5,783.6 L490.1,781.2 L490.7,778.8 L491.3,776.4 L491.9,773.9 L492.5,771.5 L493.0,769.1 L493.6,766.7 L494.2,764.2 L494.8,761.8 L495.4,759.4 L496.0,756.9 L496.6,754.5 L497.2,752.1 L497.8,749.6 L498.4,747.2 L499.0,744.8 L499.5,742.4 L500.1,739.9 L500.7,737.5 L501.3,735.1 L501.9,732.7 L502.5,730.2 L503.1,727.8 L503.7,725.4 L504.3,722.9 L504.9,720.5 L505.6,718.1 L506.2,715.7 L506.8,713.2 L507.4,710.8 L508.0,708.4 L508.6,706.0 L509.2,703.5 L509.8,701.1 L510.4,698.7 L511.0,696.3 L511.7,693.9 L512.3,691.4 L512.9,689.0 L513.5,686.6 L514.1,684.2 L514.7,681.7 L515.3,679.3 L515.9,676.9 L516.6,674.5 L517.2,672.0 L517.8,669.6 L518.4,667.2 L519.0,664.8 L519.6,662.3 L520.2,659.9 L520.9,657.5 L521.5,655.1 L522.1,652.7 L522.7,650.2 L523.3,647.8 L523.9,645.4 L524.5,643.0 L525.1,640.5 L525.7,638.1 L526.3,635.7 L526.9,633.3 L527.6,630.8 L528.2,628.4 L528.8,626.0 L529.4,623.6 L530.0,621.1 L530.6,618.7 L531.1,616.3 L531.7,613.8 L532.3,611.4 L532.9,609.0 L533.5,606.6 L534.1,604.1 L534.7,601.7 L535.3,599.3 L535.9,596.8 L536.4,594.4 L537.0,592.0 L537.6,589.5 L538.2,587.1 L538.7,584.7 L539.3,582.2 L539.9,579.8 L540.4,577.4 L541.0,574.9 L541.6,572.5 L542.2,570.1 L542.7,567.6 L543.3,565.2 L544.0,562.8 L544.6,560.4 L545.3,558.0 L546.0,555.6 L546.7,553.2 L547.5,550.8 L548.3,548.4 L549.1,546.1 L550.0,543.7 L550.9,541.4 L551.9,539.1 L552.9,536.8 L554.0,534.6 L555.1,532.3 L556.3,530.1 L557.5,527.9 L558.8,525.8 L560.1,523.7 L561.5,521.6 L562.9,519.5 L564.4,517.6 L566.0,515.6 L567.7,513.8 L569.5,512.0 L571.3,510.3 L573.3,508.8 L575.4,507.4 L577.6,506.2 L579.9,505.3 L582.3,504.7 L584.8,504.4 L587.3,504.5 L589.7,505.0 L592.1,505.7 L594.5,506.6 L596.7,507.6 L599.0,508.8 L601.2,510.0 L603.3,511.2 L605.5,512.5 L607.6,513.8 L609.7,515.1 L611.9,516.4 L614.0,517.6 L616.2,518.8 L618.5,519.9 L620.8,520.9 L623.1,521.8 L625.5,522.5 L628.0,523.0 L630.4,523.3 L632.9,523.4 L635.4,523.3 L637.9,523.0 L640.4,522.5 L642.8,521.8 L645.1,520.9 L647.4,519.8 L649.6,518.7 L651.7,517.4 L653.9,516.2 L656.0,514.8 L658.1,513.5 L660.2,512.2 L662.4,510.9 L664.5,509.6 L666.7,508.4 L668.9,507.2 L671.1,506.1 L673.4,504.9 L675.6,503.9 L677.9,502.9 L680.2,501.9 L682.6,501.0 L684.9,500.2 L687.3,499.5 L689.8,498.9 L692.2,498.3 L694.7,497.9 L697.1,497.6 L699.6,497.5 L702.1,497.6 L704.6,497.9 L707.1,498.4 L709.5,499.0 L711.8,499.9 L714.1,501.0 L716.2,502.2 L718.3,503.6 L720.3,505.1 L722.3,506.7 L724.1,508.4 L725.9,510.1 L727.6,511.9 L729.3,513.8 L730.9,515.7 L732.5,517.6 L734.0,519.6 L735.5,521.6 L737.0,523.7 L738.4,525.7 L739.8,527.8 L741.2,529.8 L742.6,531.9 L743.9,534.0 L745.3,536.1 L746.6,538.2 L747.9,540.4 L749.2,542.5 L750.5,544.7 L751.8,546.8 L753.0,549.0 L754.2,551.2 L755.5,553.3 L756.7,555.5 L757.8,557.7 L759.0,559.9 L760.2,562.2 L761.3,564.4 L762.4,566.6 L763.6,568.9 L764.7,571.1 L765.8,573.3 L766.9,575.6 L767.9,577.9 L769.0,580.1 L770.0,582.4 L771.1,584.7 L772.1,586.9 L773.1,589.2 L774.1,591.5 L775.2,593.8 L776.2,596.1 L777.1,598.4 L778.1,600.7 L779.1,603.0 L780.1,605.3 L781.0,607.6 L782.0,609.9 L783.0,612.2 L783.9,614.5 L784.9,616.8 L785.8,619.1 L786.8,621.5 L787.7,623.8 L788.6,626.1 L789.6,628.4 L790.5,630.7 L791.4,633.0 L792.4,635.4 L793.3,637.7 L794.3,640.0 L795.2,642.3 L796.1,644.6 L797.1,646.9 L798.0,649.2 L799.0,651.6 L799.9,653.9 L800.9,656.2 L801.9,658.5 L802.8,660.8 L803.8,663.1 L804.8,665.4 L805.8,667.7 L806.8,670.0 L807.8,672.3 L808.8,674.6 L809.8,676.9 L810.8,679.1 L811.8,681.4 L812.9,683.7 L813.9,685.9 L815.0,688.2 L816.1,690.5 L817.1,692.7 L818.2,695.0 L819.3,697.2 L820.4,699.5 L821.5,701.7 L822.7,703.9 L823.8,706.2 L824.9,708.4 L826.1,710.6 L827.2,712.8 L828.4,715.1 L829.5,717.3 L830.7,719.5 L831.9,721.7 L833.0,723.9 L834.2,726.1 L835.4,728.3 L836.6,730.5 L837.8,732.7 L839.0,734.9 L840.2,737.1 L841.4,739.3 L842.6,741.5 L843.8,743.6 L845.1,745.8 L846.3,748.0 L847.5,750.2 L848.7,752.4 L850.0,754.5 L851.2,756.7 L852.5,758.9 L853.7,761.0 L854.9,763.2 L856.2,765.4 L857.4,767.5 L858.7,769.7 L859.9,771.9 L861.2,774.0 L862.4,776.2 L863.7,778.4 L864.9,780.5 L866.2,782.7 L867.4,784.9 L868.7,787.0 L869.9,789.2 L871.2,791.4 L872.4,793.5 L873.7,795.7 L874.9,797.9 L876.2,800.0 L877.4,802.2 L878.7,804.4 L879.9,806.5 L881.1,808.7 L882.4,810.9 L883.6,813.0 L884.8,815.2 L886.1,817.4 L887.3,819.6 L888.5,821.7 L889.8,823.9 L891.0,826.1 L892.2,828.3 L893.4,830.5 L894.7,832.6 L895.9,834.8 L897.1,837.0 L898.3,839.2 L899.5,841.4 L900.8,843.6 L902.0,845.7 L903.2,847.9 L904.4,850.1 L905.6,852.3 L906.8,854.5 L908.0,856.7 L909.2,858.9 L910.4,861.1 L911.6,863.2 L912.9,865.4 L914.1,867.6 L915.3,869.8 L916.5,872.0 L917.7,874.2 L918.9,876.4 L920.1,878.6 L921.3,880.8 L922.5,883.0 L923.7,885.2 L924.9,887.4 L926.1,889.5 L927.3,891.7 L928.5,893.9 L929.7,896.1 L930.9,898.3 L932.1,900.5 L933.3,902.7 L934.5,904.9 L935.7,907.1 L936.8,909.3 L938.0,911.5 L939.2,913.7 L940.4,915.9 L941.6,918.1 L942.8,920.3 L944.0,922.5 L945.2,924.7 L946.4,926.9 L947.6,929.0 L948.8,931.2 L950.0,933.4 L951.2,935.6 L952.4,937.8 L953.6,940.0 L954.8,942.2 L956.0,944.4 L957.2,946.6 L958.4,948.8 L959.6,951.0 L960.8,953.2 L962.0,955.4 L963.2,957.6 L964.4,959.7 L965.6,961.9 L966.8,964.1 L968.1,966.3 L969.3,968.5 L970.5,970.7 L971.7,972.9 L972.9,975.1 L974.1,977.2 L975.3,979.4 L976.5,981.6 L977.8,983.8 L979.0,986.0 L980.2,988.2 L981.4,990.3 L982.6,992.5 L983.9,994.7 L985.1,996.9 L986.3,999.1 L987.5,1001.2 L988.8,1003.4 L990.0,1005.6 L991.2,1007.8 L992.5,1009.9 L993.7,1012.1 L994.9,1014.3 L996.2,1016.5 L997.4,1018.6 L998.7,1020.8 L999.9,1023.0 L1001.2,1025.1 L1002.4,1027.3 L1003.7,1029.5 L1004.9,1031.6 L1006.2,1033.8 L1007.4,1036.0 L1008.7,1038.1 L1009.9,1040.3 L1011.2,1042.4 L1012.5,1044.6 L1013.7,1046.7 L1015.0,1048.9 L1016.3,1051.0 L1017.6,1053.2 L1018.8,1055.3 L1020.1,1057.5 L1021.4,1059.6 L1022.7,1061.8 L1024.0,1063.9 L1025.3,1066.1 L1026.6,1068.2 L1027.9,1070.3 L1029.2,1072.5 L1030.5,1074.6 L1031.8,1076.7 L1033.1,1078.8 L1034.5,1080.9 L1035.8,1083.1 L1037.1,1085.2 L1038.5,1087.3 L1039.8,1089.4 L1041.1,1091.5 L1042.5,1093.6 L1043.9,1095.7 L1045.2,1097.8 L1046.6,1099.9 L1048.0,1102.0 L1049.4,1104.1 L1050.7,1106.1 L1052.1,1108.2 L1053.5,1110.3 L1055.0,1112.3 L1056.4,1114.4 L1057.8,1116.5 L1059.2,1118.5 L1060.7,1120.6 L1062.1,1122.6 L1063.6,1124.6 L1065.0,1126.7 L1066.5,1128.7 L1068.0,1130.7 L1069.4,1132.7 L1070.9,1134.7 L1072.4,1136.7 L1073.9,1138.7 L1075.4,1140.7 L1077.0,1142.7 L1078.5,1144.7 L1080.0,1146.6 L1081.6,1148.6 L1083.1,1150.6 L1084.7,1152.5 L1086.3,1154.5 L1087.8,1156.4 L1089.4,1158.3 L1091.0,1160.3 L1092.6,1162.2 L1094.3,1164.1 L1095.9,1166.0 L1097.5,1167.9 L1099.2,1169.7 L1100.8,1171.6 L1102.5,1173.5 L1104.1,1175.3 L1105.8,1177.2 L1107.5,1179.0 L1109.2,1180.9 L1110.9,1182.7 L1112.6,1184.5 L1114.3,1186.3 L1116.1,1188.1 L1117.8,1189.9 L1119.6,1191.7 L1121.3,1193.5 L1123.1,1195.3 L1124.9,1197.1 L1126.6,1198.8 L1128.4,1200.6 L1130.2,1202.3 L1132.0,1204.0 L1133.8,1205.8 L1135.6,1207.5 L1137.5,1209.2 L1139.3,1210.9 L1141.1,1212.6 L1143.0,1214.3 L1144.8,1215.9 L1146.7,1217.6 L1148.6,1219.3 L1150.5,1220.9 L1152.3,1222.5 L1154.2,1224.2 L1156.1,1225.8 L1158.0,1227.4 L1160.0,1229.0 L1161.9,1230.6 L1163.8,1232.2 L1165.7,1233.8 L1167.7,1235.4 L1169.6,1236.9 L1171.6,1238.5 L1173.6,1240.0 L1175.5,1241.6 L1177.5,1243.1 L1179.5,1244.6 L1181.5,1246.1 L1183.5,1247.6 L1185.5,1249.1 L1187.5,1250.6 L1189.5,1252.1 L1191.6,1253.5 L1193.6,1255.0 L1195.6,1256.4 L1197.7,1257.8 L1199.7,1259.3 L1201.8,1260.7 L1203.9,1262.1 L1205.9,1263.5 L1208.0,1264.9 L1210.1,1266.3 L1212.2,1267.6 L1214.3,1269.0 L1216.4,1270.3 L1218.5,1271.7 L1220.6,1273.0 L1222.8,1274.3 L1224.9,1275.6 L1227.0,1276.9 L1229.2,1278.2 L1231.3,1279.5 L1233.4,1280.8 L1235.6,1282.1 L1237.8,1283.3 L1239.9,1284.6 L1242.1,1285.8 L1244.3,1287.0 L1246.5,1288.3 L1248.6,1289.5 L1250.8,1290.7 L1253.0,1291.9 L1255.2,1293.0 L1257.4,1294.2 L1259.7,1295.4 L1261.9,1296.5 L1264.1,1297.7 L1266.3,1298.8 L1268.6,1299.9 L1270.8,1301.1 L1273.0,1302.2 L1275.3,1303.3 L1277.5,1304.4 L1279.8,1305.4 L1282.0,1306.5 L1284.3,1307.6 L1286.6,1308.6 L1288.8,1309.7 L1291.1,1310.7 L1293.4,1311.7 L1295.7,1312.8 L1298.0,1313.8 L1300.2,1314.8 L1302.5,1315.8 L1304.8,1316.8 L1307.1,1317.7 L1309.4,1318.7 L1311.8,1319.7 L1314.1,1320.6 L1316.4,1321.5 L1318.7,1322.5 L1321.0,1323.4 L1323.4,1324.3 L1325.7,1325.2 L1328.0,1326.1 L1330.4,1327.0 L1332.7,1327.9 L1335.0,1328.7 L1337.4,1329.6 L1339.7,1330.5 L1342.1,1331.3 L1344.4,1332.2 L1346.8,1333.0 L1349.2,1333.8 L1351.5,1334.6 L1353.9,1335.4 L1356.3,1336.2 L1358.6,1337.0 L1361.0,1337.8 L1363.4,1338.6 L1365.8,1339.3 L1368.2,1340.1 L1370.5,1340.8 L1372.9,1341.6 L1375.3,1342.3 L1377.7,1343.0 L1380.1,1343.7 L1382.5,1344.5 L1384.9,1345.2 L1387.3,1345.9 L1389.7,1346.5 L1392.1,1347.2 L1394.5,1347.9 L1396.9,1348.6 L1399.3,1349.2 L1401.8,1349.9 L1404.2,1350.5 L1406.6,1351.1 L1409.0,1351.8 L1411.4,1352.4 L1413.9,1353.0 L1416.3,1353.6 L1418.7,1354.2 L1421.1,1354.8 L1423.6,1355.4 L1426.0,1355.9 L1428.4,1356.5 L1430.9,1357.1 L1433.3,1357.6 L1435.7,1358.2 L1438.2,1358.7 L1440.6,1359.3 L1443.1,1359.8 L1445.5,1360.3 L1448.0,1360.8 L1450.4,1361.3 L1452.9,1361.8 L1455.3,1362.3 L1457.8,1362.8 L1460.2,1363.3 L1462.7,1363.8 L1465.1,1364.2 L1467.6,1364.7 L1470.0,1365.2 L1472.5,1365.6 L1475.0,1366.0 L1477.4,1366.5 L1479.9,1366.9 L1482.3,1367.3 L1484.8,1367.8 L1487.3,1368.2 L1489.7,1368.6 L1492.2,1369.0 L1494.7,1369.4 L1497.1,1369.8 L1499.6,1370.1 L1502.1,1370.5 L1504.6,1370.9 L1507.0,1371.2 L1509.5,1371.6 L1512.0,1372.0 L1514.5,1372.3 L1516.9,1372.6 L1519.4,1373.0 L1521.9,1373.3 L1524.4,1373.6 L1526.9,1373.9 L1529.3,1374.3 L1531.8,1374.6 L1534.3,1374.9 L1536.8,1375.2 L1539.3,1375.5 L1541.7,1375.7 L1544.2,1376.0 L1546.7,1376.3 L1549.2,1376.6 L1551.7,1376.8 L1554.2,1377.1 L1556.7,1377.3 L1559.1,1377.6 L1561.6,1377.8 L1564.1,1378.1 L1566.6,1378.3 L1569.1,1378.5 L1571.6,1378.8 L1574.1,1379.0 L1576.6,1379.2 L1579.1,1379.4 L1581.6,1379.6 L1584.0,1379.8 L1586.5,1380.0 L1589.0,1380.2 L1591.5,1380.4 L1594.0,1380.6 L1596.5,1380.7 L1599.0,1380.9 L1601.5,1381.1 L1604.0,1381.2 L1606.5,1381.4 L1609.0,1381.5 L1611.5,1381.7 L1614.0,1381.8 L1616.5,1382.0 L1619.0,1382.1 L1621.5,1382.2 L1624.0,1382.4 L1626.5,1382.5 L1629.0,1382.6 L1631.4,1382.7 L1633.9,1382.8 L1636.4,1383.0 L1638.9,1383.1 L1641.4,1383.2 L1643.9,1383.2 L1646.4,1383.3 L1648.9,1383.4 L1651.4,1383.5 L1653.9,1383.6 L1656.4,1383.7 L1658.9,1383.7 L1661.4,1383.8 L1663.9,1383.9 L1666.4,1383.9 L1668.9,1384.0 L1671.4,1384.0 L1673.9,1384.1 L1676.4,1384.1 L1678.9,1384.2 L1681.4,1384.2 L1683.9,1384.2 L1686.4,1384.3 L1688.9,1384.3 L1691.4,1384.3 L1693.9,1384.3 L1696.4,1384.4 L1698.9,1384.4 L1701.4,1384.4 L1703.9,1384.4 L1706.4,1384.4 L1708.9,1384.4 L1711.4,1384.4 L1713.9,1384.4 L1716.4,1384.4 L1718.9,1384.4 L1721.4,1384.3 L1723.9,1384.3 L1726.4,1384.3 L1728.9,1384.3 L1731.4,1384.2 L1733.9,1384.2" stroke="#00ffff" /><path d="M279.0,1386.8 L281.5,1386.6 L284.0,1386.3 L286.4,1385.9 L288.9,1385.2 L291.2,1384.5 L293.6,1383.5 L295.8,1382.4 L298.0,1381.2 L300.1,1379.8 L302.1,1378.3 L304.0,1376.7 L305.8,1375.0 L307.6,1373.2 L309.3,1371.4 L310.9,1369.5 L312.4,1367.5 L313.9,1365.5 L315.4,1363.5 L316.8,1361.5 L318.2,1359.4 L319.6,1357.3 L320.9,1355.2 L322.2,1353.1 L323.6,1350.9 L324.8,1348.8 L326.1,1346.6 L327.4,1344.5 L328.6,1342.3 L329.8,1340.1 L331.0,1337.9 L332.2,1335.7 L333.3,1333.5 L334.5,1331.3 L335.6,1329.0 L336.7,1326.8 L337.8,1324.5 L338.8,1322.3 L339.9,1320.0 L340.9,1317.7 L341.9,1315.4 L342.9,1313.1 L343.9,1310.8 L344.8,1308.5 L345.8,1306.2 L346.7,1303.9 L347.6,1301.6 L348.5,1299.2 L349.3,1296.9 L350.2,1294.5 L351.0,1292.2 L351.8,1289.8 L352.7,1287.5 L353.4,1285.1 L354.2,1282.7 L355.0,1280.3 L355.7,1278.0 L356.5,1275.6 L357.2,1273.2 L357.9,1270.8 L358.6,1268.4 L359.3,1266.0 L359.9,1263.6 L360.6,1261.1 L361.2,1258.7 L361.9,1256.3 L362.5,1253.9 L363.1,1251.5 L363.7,1249.0 L364.3,1246.6 L364.8,1244.2 L365.4,1241.7 L365.9,1239.3 L366.5,1236.9 L367.0,1234.4 L367.5,1232.0 L368.0,1229.5 L368.6,1227.1 L369.0,1224.6 L369.5,1222.2 L370.0,1219.7 L370.5,1217.3 L370.9,1214.8 L371.4,1212.4 L371.8,1209.9 L372.3,1207.4 L372.7,1205.0 L373.2,1202.5 L373.6,1200.1 L374.0,1197.6 L374.4,1195.1 L374.8,1192.7 L375.2,1190.2 L375.6,1187.7 L376.0,1185.3 L376.4,1182.8 L376.8,1180.3 L377.2,1177.9 L377.6,1175.4 L378.0,1172.9 L378.4,1170.5 L378.8,1168.0 L379.2,1165.5 L379.6,1163.1 L380.0,1160.6 L380.4,1158.1 L380.7,1155.7 L381.1,1153.2 L381.5,1150.7 L381.9,1148.3 L382.3,1145.8 L382.7,1143.3 L383.2,1140.9 L383.6,1138.4 L384.0,1135.9 L384.4,1133.5 L384.8,1131.0 L385.3,1128.5 L385.7,1126.1 L386.2,1123.6 L386.6,1121.2 L387.1,1118.7 L387.5,1116.3 L388.0,1113.8 L388.5,1111.4 L389.0,1108.9 L389.5,1106.5 L390.0,1104.0 L390.5,1101.6 L391.0,1099.1 L391.6,1096.7 L392.1,1094.2 L392.7,1091.8 L393.3,1089.4 L393.9,1087.0 L394.5,1084.5 L395.1,1082.1 L395.7,1079.7 L396.3,1077.3 L397.0,1074.9 L397.7,1072.4 L398.3,1070.0 L399.0,1067.6 L399.8,1065.2 L400.5,1062.9 L401.2,1060.5 L402.0,1058.1 L402.8,1055.7 L403.6,1053.4 L404.4,1051.0 L405.2,1048.6 L406.1,1046.3 L407.0,1043.9 L407.9,1041.6 L408.8,1039.3 L409.7,1037.0 L410.7,1034.7 L411.6,1032.4 L412.6,1030.1 L413.6,1027.8 L414.7,1025.5 L415.7,1023.2 L416.8,1021.0 L417.9,1018.7 L419.0,1016.5 L420.1,1014.2 L421.2,1012.0 L422.3,1009.8 L423.5,1007.6 L424.6,1005.3 L425.8,1003.1 L426.9,1000.9 L428.1,998.7 L429.3,996.5 L430.5,994.3 L431.7,992.1 L432.9,989.9 L434.1,987.7 L435.3,985.6 L436.5,983.4 L437.7,981.2 L438.9,979.0 L440.1,976.8 L441.4,974.6 L442.6,972.4 L443.8,970.2 L445.0,968.1 L446.2,965.9 L447.4,963.7 L448.5,961.5 L449.7,959.3 L450.9,957.1 L452.1,954.8 L453.2,952.6 L454.4,950.4 L455.5,948.2 L456.6,946.0 L457.7,943.7 L458.8,941.5 L459.9,939.2 L461.0,937.0 L462.1,934.7 L463.1,932.4 L464.1,930.2 L465.1,927.9 L466.1,925.6 L467.1,923.3 L468.1,921.0 L469.0,918.7 L470.0,916.3 L470.9,914.0 L471.8,911.7 L472.7,909.4 L473.5,907.0 L474.4,904.7 L475.3,902.3 L476.1,900.0 L476.9,897.6 L477.7,895.2 L478.6,892.9 L479.3,890.5 L480.1,888.1 L480.9,885.8 L481.7,883.4 L482.4,881.0 L483.1,878.6 L483.9,876.2 L484.6,873.8 L485.3,871.4 L486.0,869.0 L486.7,866.6 L487.4,864.2 L488.0,861.8 L488.7,859.4 L489.4,857.0 L490.0,854.6 L490.7,852.2 L491.3,849.8 L491.9,847.3 L492.6,844.9 L493.2,842.5 L493.8,840.1 L494.4,837.7 L495.0,835.2 L495.6,832.8 L496.2,830.4 L496.8,827.9 L497.4,825.5 L498.0,823.1 L498.5,820.7 L499.1,818.2 L499.7,815.8 L500.2,813.4 L500.8,810.9 L501.4,808.5 L501.9,806.1 L502.5,803.6 L503.1,801.2 L503.6,798.7 L504.2,796.3 L504.7,793.9 L505.3,791.4 L505.8,789.0 L506.4,786.6 L507.0,784.1 L507.5,781.7 L508.1,779.3 L508.6,776.8 L509.2,774.4 L509.7,771.9 L510.3,769.5 L510.8,767.1 L511.4,764.6 L512.0,762.2 L512.5,759.8 L513.1,757.3 L513.6,754.9 L514.2,752.5 L514.7,750.0 L515.3,747.6 L515.9,745.2 L516.4,742.7 L517.0,740.3 L517.6,737.8 L518.1,735.4 L518.7,733.0 L519.3,730.5 L519.8,728.1 L520.4,725.7 L521.0,723.3 L521.6,720.8 L522.2,718.4 L522.7,716.0 L523.3,713.5 L523.9,711.1 L524.5,708.7 L525.1,706.2 L525.7,703.8 L526.3,701.4 L526.9,699.0 L527.5,696.5 L528.1,694.1 L528.7,691.7 L529.3,689.3 L529.9,686.8 L530.5,684.4 L531.2,682.0 L531.8,679.6 L532.4,677.2 L533.0,674.7 L533.7,672.3 L534.3,669.9 L534.9,667.5 L535.6,665.1 L536.2,662.7 L536.9,660.3 L537.5,657.8 L538.2,655.4 L538.8,653.0 L539.5,650.6 L540.2,648.2 L540.9,645.8 L541.6,643.4 L542.3,641.0 L543.0,638.6 L543.8,636.2 L544.5,633.9 L545.4,631.5 L546.2,629.1 L547.1,626.8 L548.0,624.5 L548.9,622.2 L549.9,619.9 L551.0,617.6 L552.1,615.4 L553.2,613.2 L554.5,611.0 L555.7,608.8 L557.1,606.7 L558.5,604.7 L560.1,602.7 L561.7,600.8 L563.4,598.9 L565.1,597.2 L567.0,595.5 L569.0,594.0 L571.0,592.6 L573.2,591.3 L575.4,590.2 L577.7,589.2 L580.1,588.5 L582.6,588.0 L585.0,587.7 L587.5,587.7 L590.0,587.9 L592.5,588.3 L594.9,589.0 L597.3,589.8 L599.6,590.6 L601.9,591.6 L604.2,592.6 L606.5,593.7 L608.7,594.8 L611.0,595.9 L613.2,596.9 L615.5,598.0 L617.8,599.0 L620.1,599.9 L622.5,600.7 L624.9,601.4 L627.3,602.0 L629.8,602.3 L632.3,602.4 L634.8,602.3 L637.2,601.9 L639.7,601.3 L642.1,600.6 L644.4,599.7 L646.7,598.7 L648.9,597.7 L651.2,596.5 L653.4,595.3 L655.5,594.1 L657.7,592.8 L659.8,591.5 L662.0,590.3 L664.1,589.0 L666.3,587.8 L668.5,586.6 L670.7,585.4 L673.0,584.3 L675.3,583.3 L677.6,582.3 L679.9,581.4 L682.2,580.6 L684.6,579.8 L687.0,579.1 L689.4,578.5 L691.9,578.0 L694.3,577.6 L696.8,577.3 L699.3,577.1 L701.8,577.0 L704.3,577.1 L706.8,577.3 L709.3,577.6 L711.7,578.1 L714.1,578.8 L716.5,579.7 L718.8,580.6 L721.0,581.8 L723.2,583.0 L725.3,584.3 L727.3,585.8 L729.3,587.3 L731.2,589.0 L733.0,590.7 L734.8,592.4 L736.5,594.2 L738.2,596.1 L739.8,598.0 L741.4,599.9 L742.9,601.9 L744.4,603.9 L745.8,606.0 L747.2,608.0 L748.6,610.1 L750.0,612.2 L751.3,614.3 L752.6,616.5 L753.9,618.6 L755.1,620.8 L756.3,623.0 L757.6,625.1 L758.8,627.3 L759.9,629.5 L761.1,631.7 L762.3,634.0 L763.4,636.2 L764.5,638.4 L765.6,640.6 L766.7,642.9 L767.8,645.1 L768.9,647.4 L770.0,649.7 L771.0,651.9 L772.1,654.2 L773.1,656.5 L774.2,658.7 L775.2,661.0 L776.2,663.3 L777.2,665.6 L778.2,667.9 L779.2,670.2 L780.1,672.5 L781.1,674.8 L782.1,677.1 L783.0,679.4 L784.0,681.7 L784.9,684.0 L785.9,686.3 L786.8,688.7 L787.8,691.0 L788.7,693.3 L789.6,695.6 L790.6,697.9 L791.5,700.2 L792.4,702.6 L793.4,704.9 L794.3,707.2 L795.2,709.5 L796.2,711.8 L797.1,714.1 L798.1,716.4 L799.0,718.8 L800.0,721.1 L800.9,723.4 L801.9,725.7 L802.9,728.0 L803.9,730.3 L804.8,732.6 L805.8,734.9 L806.8,737.1 L807.9,739.4 L808.9,741.7 L809.9,744.0 L811.0,746.3 L812.0,748.5 L813.1,750.8 L814.2,753.0 L815.3,755.3 L816.4,757.5 L817.5,759.7 L818.7,762.0 L819.8,764.2 L821.0,766.4 L822.2,768.6 L823.4,770.8 L824.6,773.0 L825.8,775.2 L827.0,777.3 L828.3,779.5 L829.5,781.7 L830.8,783.8 L832.1,786.0 L833.4,788.1 L834.6,790.2 L836.0,792.4 L837.3,794.5 L838.6,796.6 L839.9,798.7 L841.2,800.8 L842.6,803.0 L843.9,805.1 L845.3,807.2 L846.7,809.3 L848.0,811.3 L849.4,813.4 L850.8,815.5 L852.1,817.6 L853.5,819.7 L854.9,821.8 L856.3,823.8 L857.7,825.9 L859.1,828.0 L860.5,830.1 L861.9,832.1 L863.3,834.2 L864.7,836.3 L866.1,838.4 L867.5,840.4 L868.9,842.5 L870.3,844.6 L871.7,846.6 L873.0,848.7 L874.4,850.8 L875.8,852.9 L877.2,854.9 L878.6,857.0 L880.0,859.1 L881.4,861.2 L882.7,863.3 L884.1,865.4 L885.5,867.5 L886.8,869.6 L888.2,871.6 L889.6,873.8 L890.9,875.9 L892.2,878.0 L893.6,880.1 L894.9,882.2 L896.2,884.3 L897.6,886.4 L898.9,888.5 L900.2,890.7 L901.5,892.8 L902.8,894.9 L904.1,897.1 L905.4,899.2 L906.7,901.3 L908.0,903.5 L909.3,905.6 L910.6,907.7 L911.9,909.9 L913.2,912.0 L914.4,914.2 L915.7,916.3 L917.0,918.5 L918.3,920.6 L919.5,922.8 L920.8,924.9 L922.1,927.1 L923.3,929.3 L924.6,931.4 L925.8,933.6 L927.1,935.7 L928.3,937.9 L929.6,940.1 L930.8,942.2 L932.1,944.4 L933.3,946.6 L934.6,948.7 L935.8,950.9 L937.1,953.1 L938.3,955.2 L939.5,957.4 L940.8,959.6 L942.0,961.7 L943.3,963.9 L944.5,966.1 L945.7,968.3 L947.0,970.4 L948.2,972.6 L949.4,974.8 L950.7,976.9 L951.9,979.1 L953.2,981.3 L954.4,983.4 L955.6,985.6 L956.9,987.8 L958.1,989.9 L959.4,992.1 L960.6,994.3 L961.9,996.4 L963.1,998.6 L964.4,1000.8 L965.6,1002.9 L966.9,1005.1 L968.1,1007.3 L969.4,1009.4 L970.6,1011.6 L971.9,1013.7 L973.2,1015.9 L974.4,1018.1 L975.7,1020.2 L977.0,1022.4 L978.2,1024.5 L979.5,1026.7 L980.8,1028.8 L982.1,1030.9 L983.4,1033.1 L984.7,1035.2 L985.9,1037.4 L987.2,1039.5 L988.5,1041.6 L989.8,1043.8 L991.2,1045.9 L992.5,1048.0 L993.8,1050.1 L995.1,1052.3 L996.4,1054.4 L997.8,1056.5 L999.1,1058.6 L1000.4,1060.7 L1001.8,1062.8 L1003.1,1064.9 L1004.5,1067.0 L1005.8,1069.1 L1007.2,1071.2 L1008.6,1073.3 L1009.9,1075.4 L1011.3,1077.5 L1012.7,1079.6 L1014.1,1081.7 L1015.5,1083.7 L1016.9,1085.8 L1018.3,1087.9 L1019.7,1089.9 L1021.1,1092.0 L1022.5,1094.0 L1024.0,1096.1 L1025.4,1098.1 L1026.8,1100.2 L1028.3,1102.2 L1029.8,1104.2 L1031.2,1106.3 L1032.7,1108.3 L1034.2,1110.3 L1035.6,1112.3 L1037.1,1114.3 L1038.6,1116.3 L1040.1,1118.3 L1041.7,1120.3 L1043.2,1122.3 L1044.7,1124.3 L1046.2,1126.2 L1047.8,1128.2 L1049.3,1130.2 L1050.9,1132.1 L1052.4,1134.1 L1054.0,1136.0 L1055.5,1138.0 L1057.1,1139.9 L1058.7,1141.9 L1060.3,1143.8 L1061.9,1145.7 L1063.5,1147.6 L1065.1,1149.5 L1066.7,1151.4 L1068.4,1153.3 L1070.0,1155.2 L1071.6,1157.1 L1073.3,1159.0 L1074.9,1160.9 L1076.6,1162.7 L1078.2,1164.6 L1079.9,1166.5 L1081.6,1168.3 L1083.3,1170.2 L1085.0,1172.0 L1086.7,1173.8 L1088.4,1175.7 L1090.1,1177.5 L1091.8,1179.3 L1093.5,1181.1 L1095.2,1182.9 L1097.0,1184.7 L1098.7,1186.5 L1100.5,1188.3 L1102.2,1190.1 L1104.0,1191.8 L1105.8,1193.6 L1107.5,1195.4 L1109.3,1197.1 L1111.1,1198.8 L1112.9,1200.6 L1114.7,1202.3 L1116.5,1204.0 L1118.3,1205.7 L1120.2,1207.5 L1122.0,1209.2 L1123.8,1210.9 L1125.7,1212.5 L1127.5,1214.2 L1129.4,1215.9 L1131.3,1217.6 L1133.1,1219.2 L1135.0,1220.9 L1136.9,1222.5 L1138.8,1224.1 L1140.7,1225.8 L1142.6,1227.4 L1144.5,1229.0 L1146.4,1230.6 L1148.3,1232.2 L1150.3,1233.8 L1152.2,1235.3 L1154.1,1236.9 L1156.1,1238.5 L1158.1,1240.0 L1160.0,1241.6 L1162.0,1243.1 L1164.0,1244.6 L1165.9,1246.2 L1167.9,1247.7 L1169.9,1249.2 L1171.9,1250.7 L1174.0,1252.1 L1176.0,1253.6 L1178.0,1255.1 L1180.0,1256.5 L1182.1,1258.0 L1184.1,1259.4 L1186.2,1260.9 L1188.2,1262.3 L1190.3,1263.7 L1192.3,1265.1 L1194.4,1266.5 L1196.5,1267.9 L1198.6,1269.2 L1200.7,1270.6 L1202.8,1271.9 L1204.9,1273.3 L1207.0,1274.6 L1209.1,1275.9 L1211.3,1277.2 L1213.4,1278.5 L1215.5,1279.8 L1217.7,1281.1 L1219.8,1282.4 L1222.0,1283.7 L1224.2,1284.9 L1226.3,1286.1 L1228.5,1287.4 L1230.7,1288.6 L1232.9,1289.8 L1235.1,1291.0 L1237.2,1292.2 L1239.5,1293.4 L1241.7,1294.6 L1243.9,1295.7 L1246.1,1296.9 L1248.3,1298.0 L1250.5,1299.2 L1252.8,1300.3 L1255.0,1301.4 L1257.2,1302.5 L1259.5,1303.6 L1261.7,1304.7 L1264.0,1305.8 L1266.3,1306.8 L1268.5,1307.9 L1270.8,1308.9 L1273.1,1310.0 L1275.3,1311.0 L1277.6,1312.0 L1279.9,1313.0 L1282.2,1314.0 L1284.5,1315.0 L1286.8,1316.0 L1289.1,1317.0 L1291.4,1317.9 L1293.7,1318.9 L1296.0,1319.9 L1298.3,1320.8 L1300.6,1321.7 L1303.0,1322.6 L1305.3,1323.6 L1307.6,1324.5 L1310.0,1325.3 L1312.3,1326.2 L1314.6,1327.1 L1317.0,1328.0 L1319.3,1328.8 L1321.7,1329.7 L1324.0,1330.5 L1326.4,1331.4 L1328.7,1332.2 L1331.1,1333.0 L1333.5,1333.8 L1335.8,1334.6 L1338.2,1335.4 L1340.6,1336.2 L1343.0,1337.0 L1345.3,1337.7 L1347.7,1338.5 L1350.1,1339.2 L1352.5,1340.0 L1354.9,1340.7 L1357.3,1341.5 L1359.7,1342.2 L1362.0,1342.9 L1364.4,1343.6 L1366.8,1344.3 L1369.2,1345.0 L1371.6,1345.7 L1374.1,1346.3 L1376.5,1347.0 L1378.9,1347.7 L1381.3,1348.3 L1383.7,1349.0 L1386.1,1349.6 L1388.5,1350.2 L1391.0,1350.8 L1393.4,1351.5 L1395.8,1352.1 L1398.2,1352.7 L1400.7,1353.3 L1403.1,1353.8 L1405.5,1354.4 L1407.9,1355.0 L1410.4,1355.6 L1412.8,1356.1 L1415.3,1356.7 L1417.7,1357.2 L1420.1,1357.8 L1422.6,1358.3 L1425.0,1358.8 L1427.5,1359.3 L1429.9,1359.8 L1432.4,1360.3 L1434.8,1360.8 L1437.3,1361.3 L1439.7,1361.8 L1442.2,1362.3 L1444.6,1362.8 L1447.1,1363.2 L1449.5,1363.7 L1452.0,1364.2 L1454.4,1364.6 L1456.9,1365.0 L1459.4,1365.5 L1461.8,1365.9 L1464.3,1366.3 L1466.7,1366.8 L1469.2,1367.2 L1471.7,1367.6 L1474.1,1368.0 L1476.6,1368.4 L1479.1,1368.8 L1481.5,1369.1 L1484.0,1369.5 L1486.5,1369.9 L1489.0,1370.3 L1491.4,1370.6 L1493.9,1371.0 L1496.4,1371.3 L1498.9,1371.7 L1501.3,1372.0 L1503.8,1372.4 L1506.3,1372.7 L1508.8,1373.0 L1511.2,1373.3 L1513.7,1373.6 L1516.2,1374.0 L1518.7,1374.3 L1521.2,1374.6 L1523.6,1374.9 L1526.1,1375.1 L1528.6,1375.4 L1531.1,1375.7 L1533.6,1376.0 L1536.1,1376.3 L1538.5,1376.5 L1541.0,1376.8 L1543.5,1377.0 L1546.0,1377.3 L1548.5,1377.5 L1551.0,1377.8 L1553.5,1378.0 L1555.9,1378.3 L1558.4,1378.5 L1560.9,1378.7 L1563.4,1378.9 L1565.9,1379.1 L1568.4,1379.4 L1570.9,1379.6 L1573.4,1379.8 L1575.9,1380.0 L1578.4,1380.2 L1580.8,1380.3 L1583.3,1380.5 L1585.8,1380.7 L1588.3,1380.9 L1590.8,1381.1 L1593.3,1381.2 L1595.8,1381.4 L1598.3,1381.6 L1600.8,1381.7 L1603.3,1381.9 L1605.8,1382.0 L1608.3,1382.2 L1610.8,1382.3 L1613.3,1382.5 L1615.8,1382.6 L1618.3,1382.7 L1620.7,1382.9 L1623.2,1383.0 L1625.7,1383.1 L1628.2,1383.2 L1630.7,1383.4 L1633.2,1383.5 L1635.7,1383.6 L1638.2,1383.7 L1640.7,1383.8 L1643.2,1383.9 L1645.7,1384.0 L1648.2,1384.1 L1650.7,1384.2 L1653.2,1384.3 L1655.7,1384.4 L1658.2,1384.4 L1660.7,1384.5 L1663.2,1384.6 L1665.7,1384.7 L1668.2,1384.7 L1670.7,1384.8 L1673.2,1384.9 L1675.7,1384.9 L1678.2,1385.0 L1680.7,1385.0 L1683.2,1385.1 L1685.7,1385.1 L1688.2,1385.2 L1690.7,1385.2 L1693.2,1385.3 L1695.7,1385.3 L1698.2,1385.4 L1700.7,1385.4 L1703.2,1385.4 L1705.7,1385.5 L1708.2,1385.5 L1710.7,1385.5 L1713.2,1385.5 L1715.7,1385.6 L1718.2,1385.6 L1720.7,1385.6 L1723.2,1385.6 L1725.7,1385.6 L1728.2,1385.6 L1730.7,1385.7 L1733.2,1385.7" stroke="#ff00ff" /><path d="M280.1,1390.4 L282.4,1389.3 L284.6,1388.2 L286.9,1387.1 L289.0,1385.9 L291.2,1384.6 L293.4,1383.4 L295.5,1382.0 L297.6,1380.7 L299.6,1379.2 L301.6,1377.8 L303.6,1376.3 L305.6,1374.8 L307.5,1373.2 L309.4,1371.6 L311.3,1369.9 L313.1,1368.2 L314.9,1366.5 L316.7,1364.7 L318.4,1362.9 L320.1,1361.1 L321.8,1359.2 L323.4,1357.3 L325.0,1355.4 L326.5,1353.4 L328.1,1351.4 L329.5,1349.4 L331.0,1347.4 L332.4,1345.3 L333.8,1343.2 L335.1,1341.1 L336.4,1339.0 L337.7,1336.9 L338.9,1334.7 L340.2,1332.5 L341.3,1330.3 L342.5,1328.1 L343.6,1325.9 L344.7,1323.6 L345.8,1321.4 L346.8,1319.1 L347.8,1316.8 L348.8,1314.5 L349.8,1312.2 L350.7,1309.9 L351.7,1307.6 L352.6,1305.3 L353.4,1302.9 L354.3,1300.6 L355.1,1298.2 L355.9,1295.9 L356.7,1293.5 L357.5,1291.1 L358.3,1288.7 L359.0,1286.4 L359.8,1284.0 L360.5,1281.6 L361.2,1279.2 L361.9,1276.8 L362.5,1274.4 L363.2,1272.0 L363.8,1269.5 L364.5,1267.1 L365.1,1264.7 L365.7,1262.3 L366.3,1259.9 L366.9,1257.4 L367.5,1255.0 L368.1,1252.6 L368.7,1250.2 L369.2,1247.7 L369.8,1245.3 L370.4,1242.9 L370.9,1240.4 L371.5,1238.0 L372.0,1235.6 L372.6,1233.1 L373.1,1230.7 L373.6,1228.2 L374.2,1225.8 L374.7,1223.4 L375.3,1220.9 L375.8,1218.5 L376.3,1216.1 L376.9,1213.6 L377.4,1211.2 L378.0,1208.7 L378.5,1206.3 L379.1,1203.9 L379.6,1201.4 L380.2,1199.0 L380.7,1196.6 L381.3,1194.1 L381.9,1191.7 L382.4,1189.3 L383.0,1186.8 L383.6,1184.4 L384.2,1182.0 L384.7,1179.6 L385.3,1177.1 L385.9,1174.7 L386.5,1172.3 L387.1,1169.9 L387.8,1167.4 L388.4,1165.0 L389.0,1162.6 L389.6,1160.2 L390.3,1157.8 L390.9,1155.4 L391.6,1152.9 L392.2,1150.5 L392.9,1148.1 L393.6,1145.7 L394.3,1143.3 L395.0,1140.9 L395.7,1138.5 L396.4,1136.1 L397.1,1133.8 L397.9,1131.4 L398.6,1129.0 L399.4,1126.6 L400.1,1124.2 L400.9,1121.9 L401.7,1119.5 L402.5,1117.1 L403.3,1114.8 L404.1,1112.4 L405.0,1110.0 L405.8,1107.7 L406.7,1105.3 L407.5,1103.0 L408.4,1100.7 L409.3,1098.3 L410.2,1096.0 L411.1,1093.7 L412.1,1091.4 L413.0,1089.1 L414.0,1086.8 L414.9,1084.5 L415.9,1082.2 L416.9,1079.9 L417.9,1077.6 L419.0,1075.3 L420.0,1073.0 L421.1,1070.8 L422.1,1068.5 L423.2,1066.3 L424.3,1064.0 L425.4,1061.8 L426.5,1059.5 L427.6,1057.3 L428.7,1055.1 L429.8,1052.8 L430.9,1050.6 L432.1,1048.4 L433.2,1046.1 L434.3,1043.9 L435.5,1041.7 L436.6,1039.5 L437.8,1037.3 L438.9,1035.1 L440.1,1032.8 L441.3,1030.6 L442.4,1028.4 L443.6,1026.2 L444.7,1024.0 L445.9,1021.8 L447.0,1019.6 L448.2,1017.3 L449.3,1015.1 L450.5,1012.9 L451.6,1010.7 L452.8,1008.5 L453.9,1006.2 L455.0,1004.0 L456.1,1001.8 L457.2,999.5 L458.4,997.3 L459.5,995.1 L460.5,992.8 L461.6,990.6 L462.7,988.3 L463.8,986.0 L464.8,983.8 L465.8,981.5 L466.9,979.2 L467.9,976.9 L468.9,974.7 L469.9,972.4 L470.8,970.1 L471.8,967.8 L472.8,965.4 L473.7,963.1 L474.6,960.8 L475.5,958.5 L476.4,956.2 L477.3,953.8 L478.2,951.5 L479.1,949.2 L480.0,946.8 L480.8,944.5 L481.6,942.1 L482.5,939.8 L483.3,937.4 L484.1,935.0 L484.9,932.7 L485.7,930.3 L486.4,927.9 L487.2,925.5 L488.0,923.2 L488.7,920.8 L489.5,918.4 L490.2,916.0 L490.9,913.6 L491.6,911.2 L492.3,908.8 L493.0,906.4 L493.7,904.0 L494.4,901.6 L495.1,899.2 L495.7,896.8 L496.4,894.4 L497.1,892.0 L497.7,889.6 L498.3,887.2 L499.0,884.8 L499.6,882.3 L500.2,879.9 L500.8,877.5 L501.5,875.1 L502.1,872.7 L502.7,870.2 L503.3,867.8 L503.9,865.4 L504.4,863.0 L505.0,860.5 L505.6,858.1 L506.2,855.7 L506.8,853.2 L507.3,850.8 L507.9,848.4 L508.5,845.9 L509.0,843.5 L509.6,841.1 L510.1,838.6 L510.7,836.2 L511.2,833.8 L511.8,831.3 L512.3,828.9 L512.9,826.5 L513.4,824.0 L514.0,821.6 L514.6,819.2 L515.1,816.7 L515.7,814.3 L516.2,811.9 L516.8,809.4 L517.4,807.0 L518.0,804.6 L518.6,802.1 L519.1,799.7 L519.7,797.3 L520.4,794.9 L521.0,792.4 L521.6,790.0 L522.2,787.6 L522.9,785.2 L523.5,782.8 L524.2,780.4 L524.9,778.0 L525.6,775.6 L526.3,773.2 L527.0,770.8 L527.7,768.4 L528.5,766.0 L529.2,763.6 L530.0,761.3 L530.8,758.9 L531.6,756.5 L532.4,754.2 L533.3,751.8 L534.1,749.5 L535.0,747.1 L535.9,744.8 L536.8,742.5 L537.8,740.2 L538.8,737.9 L539.7,735.6 L540.8,733.3 L541.8,731.0 L542.9,728.8 L544.0,726.5 L545.1,724.3 L546.2,722.1 L547.4,719.9 L548.6,717.7 L549.8,715.5 L551.0,713.3 L552.3,711.2 L553.6,709.1 L555.0,707.0 L556.3,704.9 L557.7,702.8 L559.2,700.7 L560.6,698.7 L562.2,696.8 L563.7,694.8 L565.4,693.0 L567.1,691.2 L569.0,689.5 L570.9,687.9 L572.9,686.5 L575.1,685.2 L577.3,684.1 L579.7,683.2 L582.1,682.6 L584.6,682.3 L587.1,682.2 L589.6,682.4 L592.0,682.7 L594.5,683.1 L596.9,683.6 L599.4,684.2 L601.8,684.9 L604.2,685.6 L606.6,686.3 L609.0,686.9 L611.4,687.6 L613.8,688.2 L616.2,688.8 L618.7,689.3 L621.2,689.7 L623.6,690.1 L626.1,690.3 L628.6,690.5 L631.1,690.6 L633.6,690.6 L636.1,690.5 L638.6,690.2 L641.1,689.9 L643.5,689.5 L645.9,688.9 L648.3,688.2 L650.7,687.5 L653.1,686.6 L655.4,685.6 L657.6,684.5 L659.8,683.4 L662.0,682.2 L664.2,680.9 L666.4,679.7 L668.5,678.4 L670.7,677.2 L672.9,676.0 L675.1,674.8 L677.3,673.7 L679.6,672.7 L681.9,671.7 L684.2,670.9 L686.6,670.2 L689.1,669.7 L691.5,669.3 L694.0,669.0 L696.5,668.9 L699.0,668.9 L701.5,669.1 L704.0,669.4 L706.5,669.8 L708.9,670.3 L711.3,671.0 L713.7,671.7 L716.0,672.6 L718.3,673.5 L720.6,674.6 L722.8,675.8 L724.9,677.1 L727.0,678.5 L729.0,679.9 L731.0,681.5 L732.9,683.1 L734.7,684.9 L736.4,686.6 L738.1,688.5 L739.8,690.3 L741.4,692.3 L742.9,694.2 L744.4,696.3 L745.8,698.3 L747.2,700.4 L748.6,702.5 L749.9,704.6 L751.1,706.7 L752.4,708.9 L753.6,711.1 L754.8,713.3 L756.0,715.5 L757.2,717.7 L758.3,719.9 L759.5,722.1 L760.6,724.3 L761.7,726.6 L762.8,728.8 L763.9,731.1 L765.0,733.3 L766.2,735.5 L767.3,737.8 L768.4,740.0 L769.5,742.2 L770.6,744.5 L771.7,746.7 L772.9,748.9 L774.0,751.1 L775.1,753.4 L776.2,755.6 L777.4,757.8 L778.5,760.1 L779.6,762.3 L780.8,764.5 L781.9,766.7 L783.1,768.9 L784.2,771.2 L785.3,773.4 L786.5,775.6 L787.6,777.8 L788.8,780.0 L790.0,782.2 L791.1,784.5 L792.3,786.7 L793.5,788.9 L794.6,791.1 L795.8,793.3 L797.0,795.5 L798.2,797.7 L799.4,799.9 L800.6,802.1 L801.8,804.3 L803.0,806.4 L804.2,808.6 L805.4,810.8 L806.6,813.0 L807.8,815.2 L809.1,817.3 L810.3,819.5 L811.5,821.7 L812.8,823.9 L814.0,826.0 L815.3,828.2 L816.5,830.3 L817.8,832.5 L819.1,834.6 L820.4,836.8 L821.6,838.9 L822.9,841.0 L824.2,843.2 L825.5,845.3 L826.8,847.4 L828.2,849.6 L829.5,851.7 L830.8,853.8 L832.2,855.9 L833.5,858.0 L834.9,860.1 L836.2,862.2 L837.6,864.3 L839.0,866.4 L840.4,868.4 L841.7,870.5 L843.1,872.6 L844.5,874.7 L846.0,876.7 L847.4,878.8 L848.8,880.8 L850.2,882.9 L851.6,884.9 L853.1,887.0 L854.5,889.0 L856.0,891.0 L857.4,893.1 L858.9,895.1 L860.3,897.1 L861.8,899.1 L863.3,901.2 L864.7,903.2 L866.2,905.2 L867.7,907.2 L869.2,909.2 L870.6,911.2 L872.1,913.3 L873.6,915.3 L875.1,917.3 L876.6,919.3 L878.1,921.3 L879.5,923.3 L881.0,925.3 L882.5,927.3 L884.0,929.3 L885.5,931.3 L887.0,933.3 L888.5,935.3 L890.0,937.3 L891.5,939.3 L892.9,941.3 L894.4,943.4 L895.9,945.4 L897.4,947.4 L898.9,949.4 L900.3,951.4 L901.8,953.4 L903.3,955.4 L904.8,957.5 L906.2,959.5 L907.7,961.5 L909.1,963.5 L910.6,965.6 L912.1,967.6 L913.5,969.6 L915.0,971.7 L916.4,973.7 L917.8,975.7 L919.3,977.8 L920.7,979.8 L922.1,981.9 L923.6,983.9 L925.0,986.0 L926.4,988.0 L927.8,990.1 L929.3,992.1 L930.7,994.2 L932.1,996.2 L933.5,998.3 L934.9,1000.4 L936.3,1002.4 L937.7,1004.5 L939.1,1006.5 L940.5,1008.6 L942.0,1010.7 L943.4,1012.7 L944.8,1014.8 L946.2,1016.9 L947.6,1018.9 L949.0,1021.0 L950.4,1023.1 L951.8,1025.1 L953.2,1027.2 L954.6,1029.3 L956.0,1031.3 L957.4,1033.4 L958.8,1035.5 L960.2,1037.5 L961.6,1039.6 L963.0,1041.7 L964.4,1043.7 L965.8,1045.8 L967.2,1047.8 L968.6,1049.9 L970.1,1052.0 L971.5,1054.0 L972.9,1056.1 L974.3,1058.1 L975.7,1060.2 L977.1,1062.2 L978.6,1064.3 L980.0,1066.4 L981.4,1068.4 L982.8,1070.5 L984.3,1072.5 L985.7,1074.5 L987.1,1076.6 L988.6,1078.6 L990.0,1080.7 L991.5,1082.7 L992.9,1084.7 L994.4,1086.8 L995.8,1088.8 L997.3,1090.8 L998.8,1092.8 L1000.2,1094.9 L1001.7,1096.9 L1003.2,1098.9 L1004.6,1100.9 L1006.1,1102.9 L1007.6,1104.9 L1009.1,1106.9 L1010.6,1108.9 L1012.1,1110.9 L1013.6,1112.9 L1015.1,1114.9 L1016.7,1116.9 L1018.2,1118.8 L1019.7,1120.8 L1021.2,1122.8 L1022.8,1124.8 L1024.3,1126.7 L1025.9,1128.7 L1027.4,1130.6 L1029.0,1132.6 L1030.6,1134.5 L1032.1,1136.5 L1033.7,1138.4 L1035.3,1140.3 L1036.9,1142.2 L1038.5,1144.2 L1040.1,1146.1 L1041.7,1148.0 L1043.3,1149.9 L1045.0,1151.8 L1046.6,1153.7 L1048.2,1155.5 L1049.9,1157.4 L1051.5,1159.3 L1053.2,1161.2 L1054.9,1163.0 L1056.6,1164.9 L1058.2,1166.7 L1059.9,1168.6 L1061.6,1170.4 L1063.3,1172.2 L1065.0,1174.0 L1066.7,1175.8 L1068.5,1177.7 L1070.2,1179.5 L1071.9,1181.3 L1073.7,1183.0 L1075.4,1184.8 L1077.2,1186.6 L1078.9,1188.4 L1080.7,1190.1 L1082.5,1191.9 L1084.3,1193.6 L1086.1,1195.4 L1087.9,1197.1 L1089.7,1198.8 L1091.5,1200.6 L1093.3,1202.3 L1095.1,1204.0 L1096.9,1205.7 L1098.8,1207.4 L1100.6,1209.1 L1102.5,1210.8 L1104.3,1212.4 L1106.2,1214.1 L1108.0,1215.7 L1109.9,1217.4 L1111.8,1219.0 L1113.7,1220.7 L1115.6,1222.3 L1117.5,1223.9 L1119.4,1225.5 L1121.3,1227.2 L1123.2,1228.8 L1125.1,1230.4 L1127.1,1231.9 L1129.0,1233.5 L1130.9,1235.1 L1132.9,1236.6 L1134.8,1238.2 L1136.8,1239.7 L1138.8,1241.3 L1140.7,1242.8 L1142.7,1244.3 L1144.7,1245.9 L1146.7,1247.4 L1148.7,1248.9 L1150.7,1250.3 L1152.7,1251.8 L1154.7,1253.3 L1156.7,1254.8 L1158.8,1256.2 L1160.8,1257.7 L1162.8,1259.1 L1164.9,1260.6 L1166.9,1262.0 L1169.0,1263.4 L1171.1,1264.8 L1173.1,1266.2 L1175.2,1267.6 L1177.3,1269.0 L1179.4,1270.3 L1181.5,1271.7 L1183.6,1273.1 L1185.7,1274.4 L1187.8,1275.7 L1189.9,1277.1 L1192.0,1278.4 L1194.1,1279.7 L1196.3,1281.0 L1198.4,1282.3 L1200.6,1283.6 L1202.7,1284.8 L1204.9,1286.1 L1207.0,1287.3 L1209.2,1288.6 L1211.4,1289.8 L1213.5,1291.0 L1215.7,1292.3 L1217.9,1293.5 L1220.1,1294.6 L1222.3,1295.8 L1224.5,1297.0 L1226.7,1298.2 L1228.9,1299.3 L1231.1,1300.5 L1233.4,1301.6 L1235.6,1302.7 L1237.8,1303.8 L1240.1,1304.9 L1242.3,1306.0 L1244.6,1307.1 L1246.8,1308.2 L1249.1,1309.3 L1251.4,1310.3 L1253.6,1311.4 L1255.9,1312.4 L1258.2,1313.4 L1260.5,1314.4 L1262.7,1315.4 L1265.0,1316.4 L1267.3,1317.4 L1269.6,1318.4 L1271.9,1319.4 L1274.2,1320.3 L1276.5,1321.3 L1278.8,1322.2 L1281.2,1323.2 L1283.5,1324.1 L1285.8,1325.0 L1288.1,1325.9 L1290.5,1326.8 L1292.8,1327.7 L1295.1,1328.6 L1297.5,1329.4 L1299.8,1330.3 L1302.2,1331.1 L1304.5,1332.0 L1306.9,1332.8 L1309.2,1333.6 L1311.6,1334.4 L1314.0,1335.2 L1316.3,1336.0 L1318.7,1336.8 L1321.1,1337.6 L1323.4,1338.4 L1325.8,1339.2 L1328.2,1339.9 L1330.6,1340.7 L1333.0,1341.4 L1335.4,1342.1 L1337.8,1342.8 L1340.1,1343.6 L1342.5,1344.3 L1344.9,1345.0 L1347.3,1345.7 L1349.7,1346.3 L1352.1,1347.0 L1354.6,1347.7 L1357.0,1348.3 L1359.4,1349.0 L1361.8,1349.6 L1364.2,1350.3 L1366.6,1350.9 L1369.0,1351.5 L1371.5,1352.1 L1373.9,1352.7 L1376.3,1353.3 L1378.7,1353.9 L1381.2,1354.5 L1383.6,1355.1 L1386.0,1355.6 L1388.5,1356.2 L1390.9,1356.8 L1393.3,1357.3 L1395.8,1357.9 L1398.2,1358.4 L1400.6,1358.9 L1403.1,1359.4 L1405.5,1359.9 L1408.0,1360.5 L1410.4,1361.0 L1412.9,1361.5 L1415.3,1361.9 L1417.8,1362.4 L1420.2,1362.9 L1422.7,1363.4 L1425.1,1363.8 L1427.6,1364.3 L1430.0,1364.7 L1432.5,1365.2 L1435.0,1365.6 L1437.4,1366.0 L1439.9,1366.5 L1442.3,1366.9 L1444.8,1367.3 L1447.3,1367.7 L1449.7,1368.1 L1452.2,1368.5 L1454.7,1368.9 L1457.1,1369.3 L1459.6,1369.6 L1462.1,1370.0 L1464.5,1370.4 L1467.0,1370.7 L1469.5,1371.1 L1472.0,1371.5 L1474.4,1371.8 L1476.9,1372.1 L1479.4,1372.5 L1481.9,1372.8 L1484.3,1373.1 L1486.8,1373.5 L1489.3,1373.8 L1491.8,1374.1 L1494.2,1374.4 L1496.7,1374.7 L1499.2,1375.0 L1501.7,1375.3 L1504.2,1375.5 L1506.6,1375.8 L1509.1,1376.1 L1511.6,1376.4 L1514.1,1376.6 L1516.6,1376.9 L1519.1,1377.2 L1521.5,1377.4 L1524.0,1377.7 L1526.5,1377.9 L1529.0,1378.2 L1531.5,1378.4 L1534.0,1378.6 L1536.5,1378.8 L1538.9,1379.1 L1541.4,1379.3 L1543.9,1379.5 L1546.4,1379.7 L1548.9,1379.9 L1551.4,1380.1 L1553.9,1380.3 L1556.4,1380.5 L1558.9,1380.7 L1561.3,1380.9 L1563.8,1381.1 L1566.3,1381.3 L1568.8,1381.5 L1571.3,1381.6 L1573.8,1381.8 L1576.3,1382.0 L1578.8,1382.1 L1581.3,1382.3 L1583.8,1382.5 L1586.3,1382.6 L1588.8,1382.8 L1591.2,1382.9 L1593.7,1383.1 L1596.2,1383.2 L1598.7,1383.3 L1601.2,1383.5 L1603.7,1383.6 L1606.2,1383.7 L1608.7,1383.9 L1611.2,1384.0 L1613.7,1384.1 L1616.2,1384.2 L1618.7,1384.3 L1621.2,1384.5 L1623.7,1384.6 L1626.2,1384.7 L1628.7,1384.8 L1631.2,1384.9 L1633.6,1385.0 L1636.1,1385.1 L1638.6,1385.2 L1641.1,1385.3 L1643.6,1385.4 L1646.1,1385.5 L1648.6,1385.6 L1651.1,1385.6 L1653.6,1385.7 L1656.1,1385.8 L1658.6,1385.9 L1661.1,1386.0 L1663.6,1386.0 L1666.1,1386.1 L1668.6,1386.2 L1671.1,1386.3 L1673.6,1386.3 L1676.1,1386.4 L1678.6,1386.5 L1681.1,1386.5 L1683.6,1386.6 L1686.1,1386.6 L1688.6,1386.7 L1691.1,1386.8 L1693.6,1386.8 L1696.0,1386.9 L1698.5,1386.9 L1701.0,1387.0 L1703.5,1387.0 L1706.0,1387.1 L1708.5,1387.1 L1711.0,1387.2 L1713.5,1387.2 L1716.0,1387.3 L1718.5,1387.3 L1721.0,1387.4 L1723.5,1387.4 L1726.0,1387.5 L1728.5,1387.5 L1731.0,1387.5 L1733.5,1387.6" stroke="#ffff00" /><path d="M280.1,1392.5 L282.3,1391.3 L284.6,1390.2 L286.7,1389.0 L288.9,1387.7 L291.1,1386.4 L293.2,1385.1 L295.3,1383.8 L297.4,1382.4 L299.4,1381.0 L301.5,1379.5 L303.5,1378.0 L305.5,1376.5 L307.4,1375.0 L309.3,1373.4 L311.2,1371.7 L313.1,1370.1 L315.0,1368.4 L316.8,1366.7 L318.6,1364.9 L320.3,1363.1 L322.0,1361.3 L323.7,1359.5 L325.4,1357.6 L327.0,1355.7 L328.6,1353.8 L330.2,1351.8 L331.7,1349.9 L333.2,1347.9 L334.7,1345.8 L336.1,1343.8 L337.5,1341.7 L338.9,1339.6 L340.2,1337.5 L341.5,1335.4 L342.8,1333.3 L344.1,1331.1 L345.3,1328.9 L346.5,1326.7 L347.7,1324.5 L348.8,1322.3 L349.9,1320.1 L351.0,1317.8 L352.1,1315.5 L353.1,1313.3 L354.2,1311.0 L355.2,1308.7 L356.1,1306.4 L357.1,1304.1 L358.0,1301.8 L358.9,1299.4 L359.8,1297.1 L360.7,1294.8 L361.6,1292.4 L362.4,1290.1 L363.2,1287.7 L364.0,1285.3 L364.8,1283.0 L365.6,1280.6 L366.3,1278.2 L367.1,1275.8 L367.8,1273.4 L368.5,1271.0 L369.2,1268.6 L369.9,1266.2 L370.6,1263.8 L371.3,1261.4 L372.0,1259.0 L372.6,1256.6 L373.3,1254.2 L373.9,1251.8 L374.6,1249.3 L375.2,1246.9 L375.8,1244.5 L376.4,1242.1 L377.0,1239.7 L377.7,1237.2 L378.3,1234.8 L378.9,1232.4 L379.5,1230.0 L380.1,1227.5 L380.7,1225.1 L381.3,1222.7 L381.9,1220.3 L382.5,1217.8 L383.1,1215.4 L383.7,1213.0 L384.3,1210.5 L384.9,1208.1 L385.5,1205.7 L386.1,1203.3 L386.7,1200.9 L387.3,1198.4 L388.0,1196.0 L388.6,1193.6 L389.3,1191.2 L389.9,1188.8 L390.6,1186.4 L391.2,1183.9 L391.9,1181.5 L392.6,1179.1 L393.3,1176.7 L394.0,1174.3 L394.7,1171.9 L395.4,1169.5 L396.2,1167.2 L396.9,1164.8 L397.7,1162.4 L398.5,1160.0 L399.3,1157.6 L400.1,1155.3 L400.9,1152.9 L401.7,1150.6 L402.6,1148.2 L403.5,1145.9 L404.4,1143.5 L405.3,1141.2 L406.2,1138.9 L407.2,1136.6 L408.1,1134.3 L409.1,1132.0 L410.2,1129.7 L411.2,1127.4 L412.3,1125.2 L413.4,1122.9 L414.5,1120.7 L415.6,1118.5 L416.8,1116.3 L418.0,1114.1 L419.2,1111.9 L420.4,1109.7 L421.7,1107.5 L423.0,1105.4 L424.3,1103.3 L425.6,1101.1 L427.0,1099.0 L428.3,1096.9 L429.7,1094.9 L431.1,1092.8 L432.5,1090.7 L433.9,1088.6 L435.3,1086.6 L436.8,1084.5 L438.2,1082.5 L439.6,1080.5 L441.1,1078.4 L442.5,1076.4 L444.0,1074.4 L445.5,1072.3 L446.9,1070.3 L448.4,1068.3 L449.9,1066.2 L451.3,1064.2 L452.8,1062.2 L454.2,1060.1 L455.7,1058.1 L457.1,1056.1 L458.5,1054.0 L459.9,1051.9 L461.3,1049.9 L462.7,1047.8 L464.1,1045.7 L465.5,1043.6 L466.8,1041.5 L468.2,1039.4 L469.5,1037.3 L470.8,1035.1 L472.0,1033.0 L473.3,1030.8 L474.5,1028.6 L475.7,1026.4 L476.9,1024.2 L478.0,1022.0 L479.2,1019.8 L480.2,1017.5 L481.3,1015.3 L482.3,1013.0 L483.4,1010.7 L484.3,1008.4 L485.3,1006.1 L486.2,1003.8 L487.2,1001.5 L488.1,999.1 L488.9,996.8 L489.8,994.4 L490.6,992.1 L491.4,989.7 L492.2,987.3 L493.0,985.0 L493.8,982.6 L494.5,980.2 L495.3,977.8 L496.0,975.4 L496.7,973.0 L497.4,970.6 L498.1,968.2 L498.7,965.8 L499.4,963.4 L500.0,961.0 L500.7,958.6 L501.3,956.1 L501.9,953.7 L502.5,951.3 L503.1,948.9 L503.8,946.5 L504.3,944.0 L504.9,941.6 L505.5,939.2 L506.1,936.7 L506.7,934.3 L507.3,931.9 L507.9,929.4 L508.5,927.0 L509.0,924.6 L509.6,922.2 L510.2,919.7 L510.8,917.3 L511.4,914.9 L512.0,912.4 L512.6,910.0 L513.2,907.6 L513.8,905.2 L514.4,902.7 L515.1,900.3 L515.7,897.9 L516.4,895.5 L517.0,893.1 L517.7,890.7 L518.4,888.3 L519.1,885.9 L519.8,883.5 L520.5,881.1 L521.2,878.7 L522.0,876.3 L522.8,873.9 L523.6,871.6 L524.4,869.2 L525.2,866.8 L526.0,864.5 L526.8,862.1 L527.7,859.7 L528.5,857.4 L529.4,855.0 L530.2,852.7 L531.1,850.3 L531.9,848.0 L532.7,845.6 L533.6,843.3 L534.4,840.9 L535.3,838.6 L536.1,836.2 L536.9,833.8 L537.7,831.5 L538.5,829.1 L539.3,826.7 L540.1,824.4 L540.8,822.0 L541.6,819.6 L542.3,817.2 L543.1,814.8 L543.8,812.4 L544.5,810.0 L545.3,807.7 L546.1,805.3 L546.8,802.9 L547.7,800.5 L548.5,798.2 L549.4,795.8 L550.3,793.5 L551.3,791.2 L552.3,788.9 L553.4,786.7 L554.6,784.5 L555.9,782.3 L557.2,780.3 L558.7,778.2 L560.3,776.3 L562.1,774.5 L564.0,772.9 L566.0,771.4 L568.1,770.2 L570.4,769.1 L572.8,768.3 L575.2,767.6 L577.6,767.1 L580.1,766.8 L582.6,766.6 L585.1,766.5 L587.6,766.6 L590.1,766.7 L592.6,766.9 L595.1,767.2 L597.5,767.5 L600.0,767.9 L602.5,768.4 L604.9,768.9 L607.4,769.4 L609.8,769.9 L612.2,770.5 L614.7,771.1 L617.1,771.6 L619.6,772.1 L622.0,772.6 L624.5,773.0 L627.0,773.3 L629.5,773.4 L632.0,773.5 L634.4,773.4 L636.9,773.1 L639.4,772.6 L641.8,772.0 L644.2,771.2 L646.5,770.3 L648.8,769.3 L651.1,768.3 L653.3,767.2 L655.5,766.0 L657.7,764.8 L659.9,763.6 L662.1,762.3 L664.3,761.1 L666.4,759.9 L668.6,758.7 L670.9,757.6 L673.1,756.5 L675.4,755.5 L677.7,754.5 L680.0,753.6 L682.4,752.8 L684.8,752.0 L687.2,751.4 L689.6,750.8 L692.1,750.3 L694.5,749.9 L697.0,749.6 L699.5,749.4 L702.0,749.3 L704.5,749.3 L707.0,749.5 L709.5,749.8 L711.9,750.2 L714.4,750.8 L716.8,751.5 L719.1,752.4 L721.4,753.3 L723.7,754.4 L725.9,755.6 L728.0,756.9 L730.1,758.2 L732.1,759.7 L734.1,761.2 L736.0,762.9 L737.9,764.5 L739.7,766.2 L741.5,768.0 L743.2,769.8 L744.8,771.7 L746.5,773.6 L748.1,775.5 L749.6,777.5 L751.1,779.5 L752.6,781.5 L754.1,783.5 L755.5,785.6 L756.9,787.6 L758.3,789.7 L759.7,791.8 L761.0,793.9 L762.3,796.0 L763.7,798.2 L765.0,800.3 L766.3,802.4 L767.6,804.6 L768.8,806.7 L770.1,808.9 L771.4,811.0 L772.6,813.2 L773.9,815.3 L775.2,817.5 L776.4,819.7 L777.7,821.8 L778.9,824.0 L780.2,826.1 L781.4,828.3 L782.7,830.5 L783.9,832.7 L785.1,834.8 L786.4,837.0 L787.6,839.2 L788.9,841.3 L790.1,843.5 L791.3,845.7 L792.6,847.8 L793.8,850.0 L795.1,852.2 L796.3,854.4 L797.6,856.5 L798.8,858.7 L800.1,860.8 L801.3,863.0 L802.6,865.2 L803.9,867.3 L805.2,869.5 L806.4,871.6 L807.7,873.7 L809.0,875.9 L810.3,878.0 L811.6,880.2 L812.9,882.3 L814.3,884.4 L815.6,886.5 L816.9,888.6 L818.3,890.7 L819.6,892.8 L821.0,894.9 L822.4,897.0 L823.8,899.1 L825.2,901.2 L826.6,903.2 L828.0,905.3 L829.4,907.3 L830.9,909.4 L832.3,911.4 L833.8,913.4 L835.3,915.5 L836.8,917.5 L838.3,919.5 L839.8,921.4 L841.3,923.4 L842.9,925.4 L844.4,927.4 L846.0,929.3 L847.5,931.3 L849.1,933.2 L850.7,935.1 L852.3,937.1 L853.8,939.0 L855.4,940.9 L857.0,942.8 L858.7,944.8 L860.3,946.7 L861.9,948.6 L863.5,950.5 L865.1,952.4 L866.8,954.3 L868.4,956.2 L870.0,958.1 L871.6,960.0 L873.3,961.9 L874.9,963.8 L876.5,965.6 L878.2,967.5 L879.8,969.4 L881.4,971.3 L883.1,973.2 L884.7,975.1 L886.3,977.0 L887.9,978.9 L889.6,980.8 L891.2,982.7 L892.8,984.7 L894.4,986.6 L896.0,988.5 L897.6,990.4 L899.2,992.3 L900.8,994.3 L902.3,996.2 L903.9,998.2 L905.5,1000.1 L907.0,1002.1 L908.6,1004.0 L910.1,1006.0 L911.7,1008.0 L913.2,1009.9 L914.7,1011.9 L916.2,1013.9 L917.8,1015.9 L919.3,1017.9 L920.8,1019.9 L922.3,1021.9 L923.8,1023.9 L925.3,1025.9 L926.8,1027.9 L928.3,1029.9 L929.7,1031.9 L931.2,1033.9 L932.7,1035.9 L934.2,1037.9 L935.7,1040.0 L937.1,1042.0 L938.6,1044.0 L940.1,1046.0 L941.5,1048.1 L943.0,1050.1 L944.4,1052.1 L945.9,1054.1 L947.4,1056.2 L948.8,1058.2 L950.3,1060.2 L951.7,1062.3 L953.2,1064.3 L954.6,1066.3 L956.1,1068.4 L957.6,1070.4 L959.0,1072.4 L960.5,1074.5 L961.9,1076.5 L963.4,1078.5 L964.8,1080.6 L966.3,1082.6 L967.8,1084.6 L969.2,1086.7 L970.7,1088.7 L972.2,1090.7 L973.6,1092.7 L975.1,1094.7 L976.6,1096.8 L978.0,1098.8 L979.5,1100.8 L981.0,1102.8 L982.5,1104.8 L984.0,1106.8 L985.5,1108.8 L987.0,1110.8 L988.5,1112.8 L990.0,1114.8 L991.5,1116.8 L993.0,1118.8 L994.5,1120.8 L996.1,1122.8 L997.6,1124.7 L999.1,1126.7 L1000.7,1128.7 L1002.2,1130.6 L1003.8,1132.6 L1005.4,1134.5 L1006.9,1136.5 L1008.5,1138.4 L1010.1,1140.4 L1011.7,1142.3 L1013.3,1144.2 L1014.9,1146.1 L1016.5,1148.1 L1018.1,1150.0 L1019.7,1151.9 L1021.4,1153.7 L1023.0,1155.6 L1024.7,1157.5 L1026.3,1159.4 L1028.0,1161.2 L1029.7,1163.1 L1031.3,1164.9 L1033.0,1166.8 L1034.7,1168.6 L1036.5,1170.4 L1038.2,1172.2 L1039.9,1174.0 L1041.7,1175.8 L1043.4,1177.6 L1045.2,1179.4 L1047.0,1181.1 L1048.7,1182.9 L1050.5,1184.6 L1052.3,1186.4 L1054.1,1188.1 L1056.0,1189.8 L1057.8,1191.5 L1059.6,1193.2 L1061.5,1194.9 L1063.3,1196.6 L1065.2,1198.3 L1067.0,1199.9 L1068.9,1201.6 L1070.8,1203.2 L1072.7,1204.9 L1074.6,1206.5 L1076.5,1208.1 L1078.4,1209.8 L1080.3,1211.4 L1082.2,1213.0 L1084.1,1214.6 L1086.0,1216.2 L1088.0,1217.7 L1089.9,1219.3 L1091.9,1220.9 L1093.8,1222.4 L1095.8,1224.0 L1097.8,1225.5 L1099.7,1227.1 L1101.7,1228.6 L1103.7,1230.1 L1105.7,1231.7 L1107.7,1233.2 L1109.6,1234.7 L1111.6,1236.2 L1113.6,1237.7 L1115.6,1239.2 L1117.7,1240.7 L1119.7,1242.1 L1121.7,1243.6 L1123.7,1245.1 L1125.7,1246.5 L1127.8,1248.0 L1129.8,1249.4 L1131.9,1250.9 L1133.9,1252.3 L1136.0,1253.7 L1138.0,1255.2 L1140.1,1256.6 L1142.1,1258.0 L1144.2,1259.4 L1146.3,1260.8 L1148.4,1262.2 L1150.5,1263.5 L1152.5,1264.9 L1154.6,1266.3 L1156.7,1267.6 L1158.8,1269.0 L1161.0,1270.3 L1163.1,1271.7 L1165.2,1273.0 L1167.3,1274.3 L1169.4,1275.6 L1171.6,1276.9 L1173.7,1278.2 L1175.8,1279.5 L1178.0,1280.8 L1180.1,1282.1 L1182.3,1283.3 L1184.5,1284.6 L1186.6,1285.8 L1188.8,1287.1 L1191.0,1288.3 L1193.2,1289.5 L1195.3,1290.8 L1197.5,1292.0 L1199.7,1293.2 L1201.9,1294.3 L1204.1,1295.5 L1206.3,1296.7 L1208.6,1297.9 L1210.8,1299.0 L1213.0,1300.1 L1215.2,1301.3 L1217.5,1302.4 L1219.7,1303.5 L1221.9,1304.6 L1224.2,1305.7 L1226.4,1306.8 L1228.7,1307.9 L1231.0,1308.9 L1233.2,1310.0 L1235.5,1311.0 L1237.8,1312.1 L1240.1,1313.1 L1242.3,1314.1 L1244.6,1315.1 L1246.9,1316.1 L1249.2,1317.1 L1251.5,1318.1 L1253.8,1319.0 L1256.1,1320.0 L1258.4,1320.9 L1260.8,1321.9 L1263.1,1322.8 L1265.4,1323.7 L1267.7,1324.7 L1270.1,1325.6 L1272.4,1326.5 L1274.7,1327.3 L1277.1,1328.2 L1279.4,1329.1 L1281.8,1329.9 L1284.1,1330.8 L1286.5,1331.6 L1288.8,1332.5 L1291.2,1333.3 L1293.6,1334.1 L1295.9,1334.9 L1298.3,1335.7 L1300.7,1336.5 L1303.0,1337.3 L1305.4,1338.1 L1307.8,1338.8 L1310.2,1339.6 L1312.6,1340.3 L1315.0,1341.1 L1317.3,1341.8 L1319.7,1342.5 L1322.1,1343.2 L1324.5,1343.9 L1326.9,1344.6 L1329.3,1345.3 L1331.7,1346.0 L1334.1,1346.7 L1336.6,1347.3 L1339.0,1348.0 L1341.4,1348.7 L1343.8,1349.3 L1346.2,1349.9 L1348.6,1350.6 L1351.1,1351.2 L1353.5,1351.8 L1355.9,1352.4 L1358.3,1353.0 L1360.8,1353.6 L1363.2,1354.2 L1365.6,1354.8 L1368.1,1355.3 L1370.5,1355.9 L1372.9,1356.4 L1375.4,1357.0 L1377.8,1357.5 L1380.3,1358.1 L1382.7,1358.6 L1385.1,1359.1 L1387.6,1359.6 L1390.0,1360.1 L1392.5,1360.6 L1394.9,1361.1 L1397.4,1361.6 L1399.8,1362.1 L1402.3,1362.6 L1404.8,1363.0 L1407.2,1363.5 L1409.7,1364.0 L1412.1,1364.4 L1414.6,1364.9 L1417.0,1365.3 L1419.5,1365.7 L1422.0,1366.1 L1424.4,1366.6 L1426.9,1367.0 L1429.4,1367.4 L1431.8,1367.8 L1434.3,1368.2 L1436.8,1368.6 L1439.2,1369.0 L1441.7,1369.3 L1444.2,1369.7 L1446.7,1370.1 L1449.1,1370.5 L1451.6,1370.8 L1454.1,1371.2 L1456.6,1371.5 L1459.0,1371.9 L1461.5,1372.2 L1464.0,1372.5 L1466.5,1372.8 L1468.9,1373.2 L1471.4,1373.5 L1473.9,1373.8 L1476.4,1374.1 L1478.9,1374.4 L1481.4,1374.7 L1483.8,1375.0 L1486.3,1375.3 L1488.8,1375.6 L1491.3,1375.8 L1493.8,1376.1 L1496.3,1376.4 L1498.7,1376.7 L1501.2,1376.9 L1503.7,1377.2 L1506.2,1377.4 L1508.7,1377.7 L1511.2,1377.9 L1513.7,1378.2 L1516.2,1378.4 L1518.6,1378.6 L1521.1,1378.9 L1523.6,1379.1 L1526.1,1379.3 L1528.6,1379.5 L1531.1,1379.7 L1533.6,1379.9 L1536.1,1380.1 L1538.6,1380.3 L1541.1,1380.5 L1543.6,1380.7 L1546.0,1380.9 L1548.5,1381.1 L1551.0,1381.3 L1553.5,1381.5 L1556.0,1381.7 L1558.5,1381.8 L1561.0,1382.0 L1563.5,1382.2 L1566.0,1382.3 L1568.5,1382.5 L1571.0,1382.7 L1573.5,1382.8 L1576.0,1383.0 L1578.5,1383.1 L1581.0,1383.3 L1583.5,1383.4 L1586.0,1383.6 L1588.5,1383.7 L1591.0,1383.8 L1593.5,1384.0 L1595.9,1384.1 L1598.4,1384.2 L1600.9,1384.4 L1603.4,1384.5 L1605.9,1384.6 L1608.4,1384.7 L1610.9,1384.8 L1613.4,1385.0 L1615.9,1385.1 L1618.4,1385.2 L1620.9,1385.3 L1623.4,1385.4 L1625.9,1385.5 L1628.4,1385.6 L1630.9,1385.7 L1633.4,1385.8 L1635.9,1385.9 L1638.4,1386.0 L1640.9,1386.1 L1643.4,1386.2 L1645.9,1386.3 L1648.4,1386.4 L1650.9,1386.4 L1653.4,1386.5 L1655.9,1386.6 L1658.4,1386.7 L1660.9,1386.8 L1663.4,1386.9 L1665.9,1386.9 L1668.4,1387.0 L1670.9,1387.1 L1673.4,1387.2 L1675.9,1387.2 L1678.4,1387.3 L1680.9,1387.4 L1683.4,1387.5 L1685.9,1387.5 L1688.4,1387.6 L1690.9,1387.7 L1693.4,1387.7 L1695.9,1387.8 L1698.4,1387.9 L1700.9,1387.9 L1703.4,1388.0 L1705.9,1388.1 L1708.4,1388.1 L1710.9,1388.2 L1713.4,1388.3 L1715.9,1388.3 L1718.4,1388.4 L1720.9,1388.5 L1723.4,1388.5 L1725.9,1388.6 L1728.4,1388.6 L1730.9,1388.7 L1733.4,1388.8" stroke="#808000" /><path d="M279.0,1392.3 L281.4,1391.4 L283.7,1390.5 L286.0,1389.5 L288.3,1388.6 L290.6,1387.5 L292.8,1386.4 L295.1,1385.3 L297.3,1384.1 L299.4,1382.9 L301.6,1381.7 L303.7,1380.4 L305.8,1379.0 L307.9,1377.6 L310.0,1376.2 L312.0,1374.7 L314.0,1373.2 L315.9,1371.6 L317.9,1370.0 L319.7,1368.4 L321.6,1366.7 L323.4,1365.0 L325.2,1363.3 L326.9,1361.5 L328.6,1359.6 L330.3,1357.8 L332.0,1355.9 L333.6,1354.0 L335.1,1352.0 L336.7,1350.1 L338.2,1348.0 L339.6,1346.0 L341.0,1344.0 L342.4,1341.9 L343.8,1339.8 L345.1,1337.7 L346.4,1335.5 L347.7,1333.4 L348.9,1331.2 L350.1,1329.0 L351.3,1326.8 L352.4,1324.6 L353.5,1322.3 L354.6,1320.1 L355.7,1317.8 L356.7,1315.5 L357.7,1313.3 L358.7,1311.0 L359.7,1308.7 L360.6,1306.3 L361.6,1304.0 L362.5,1301.7 L363.3,1299.4 L364.2,1297.0 L365.1,1294.7 L365.9,1292.3 L366.7,1289.9 L367.5,1287.6 L368.3,1285.2 L369.1,1282.8 L369.9,1280.5 L370.7,1278.1 L371.4,1275.7 L372.1,1273.3 L372.9,1270.9 L373.6,1268.5 L374.3,1266.1 L375.0,1263.7 L375.7,1261.3 L376.4,1258.9 L377.1,1256.5 L377.8,1254.1 L378.5,1251.7 L379.2,1249.3 L379.9,1246.9 L380.6,1244.5 L381.3,1242.1 L382.0,1239.7 L382.6,1237.3 L383.3,1234.9 L384.0,1232.5 L384.7,1230.1 L385.4,1227.7 L386.1,1225.3 L386.9,1222.9 L387.6,1220.5 L388.3,1218.1 L389.1,1215.7 L389.8,1213.4 L390.6,1211.0 L391.3,1208.6 L392.1,1206.2 L392.9,1203.8 L393.7,1201.5 L394.5,1199.1 L395.3,1196.8 L396.2,1194.4 L397.0,1192.1 L397.9,1189.7 L398.8,1187.4 L399.7,1185.1 L400.7,1182.7 L401.6,1180.4 L402.6,1178.1 L403.6,1175.8 L404.6,1173.6 L405.7,1171.3 L406.7,1169.0 L407.8,1166.8 L409.0,1164.5 L410.1,1162.3 L411.3,1160.1 L412.5,1157.9 L413.7,1155.8 L415.0,1153.6 L416.3,1151.5 L417.6,1149.3 L419.0,1147.2 L420.3,1145.2 L421.8,1143.1 L423.2,1141.1 L424.7,1139.1 L426.2,1137.1 L427.8,1135.1 L429.4,1133.2 L431.0,1131.3 L432.7,1129.4 L434.4,1127.6 L436.0,1125.7 L437.7,1123.9 L439.5,1122.1 L441.2,1120.3 L442.9,1118.5 L444.6,1116.6 L446.3,1114.8 L448.0,1113.0 L449.7,1111.2 L451.4,1109.3 L453.1,1107.4 L454.7,1105.6 L456.3,1103.6 L457.9,1101.7 L459.5,1099.7 L461.0,1097.7 L462.4,1095.7 L463.8,1093.7 L465.2,1091.6 L466.5,1089.5 L467.8,1087.3 L469.1,1085.1 L470.3,1083.0 L471.5,1080.8 L472.6,1078.5 L473.7,1076.3 L474.8,1074.0 L475.8,1071.8 L476.9,1069.5 L477.9,1067.2 L478.9,1064.9 L479.8,1062.6 L480.8,1060.3 L481.7,1058.0 L482.6,1055.6 L483.5,1053.3 L484.4,1051.0 L485.4,1048.7 L486.2,1046.3 L487.1,1044.0 L488.0,1041.6 L488.9,1039.3 L489.8,1037.0 L490.7,1034.6 L491.5,1032.3 L492.4,1029.9 L493.3,1027.6 L494.1,1025.2 L495.0,1022.9 L495.8,1020.5 L496.7,1018.2 L497.5,1015.8 L498.3,1013.5 L499.2,1011.1 L500.0,1008.8 L500.8,1006.4 L501.6,1004.0 L502.4,1001.7 L503.2,999.3 L504.1,996.9 L504.9,994.6 L505.6,992.2 L506.4,989.8 L507.2,987.5 L508.0,985.1 L508.8,982.7 L509.5,980.3 L510.3,977.9 L511.1,975.6 L511.8,973.2 L512.6,970.8 L513.3,968.4 L514.1,966.0 L514.8,963.6 L515.6,961.3 L516.3,958.9 L517.0,956.5 L517.8,954.1 L518.5,951.7 L519.2,949.3 L520.0,946.9 L520.7,944.5 L521.4,942.1 L522.1,939.7 L522.8,937.3 L523.5,934.9 L524.3,932.5 L525.0,930.2 L525.7,927.8 L526.5,925.4 L527.2,923.0 L528.0,920.6 L528.8,918.2 L529.6,915.9 L530.4,913.5 L531.2,911.1 L532.1,908.8 L532.9,906.4 L533.8,904.1 L534.7,901.8 L535.7,899.5 L536.6,897.2 L537.6,894.9 L538.7,892.6 L539.7,890.3 L540.8,888.1 L541.9,885.9 L543.1,883.6 L544.3,881.5 L545.6,879.3 L546.9,877.2 L548.3,875.1 L549.7,873.0 L551.2,871.0 L552.7,869.0 L554.3,867.1 L555.9,865.2 L557.6,863.4 L559.4,861.6 L561.3,860.0 L563.2,858.4 L565.2,856.8 L567.2,855.4 L569.3,854.0 L571.5,852.8 L573.7,851.7 L576.0,850.6 L578.3,849.7 L580.7,848.9 L583.1,848.2 L585.5,847.6 L588.0,847.2 L590.4,846.8 L592.9,846.7 L595.4,846.6 L597.9,846.7 L600.4,846.8 L602.9,847.2 L605.4,847.6 L607.8,848.1 L610.3,848.6 L612.7,849.2 L615.1,849.8 L617.5,850.4 L620.0,850.9 L622.4,851.4 L624.9,851.9 L627.4,852.2 L629.9,852.4 L632.4,852.4 L634.9,852.2 L637.3,851.9 L639.8,851.3 L642.2,850.7 L644.6,849.9 L646.9,849.0 L649.2,848.0 L651.5,847.0 L653.7,845.9 L655.9,844.7 L658.1,843.5 L660.3,842.4 L662.5,841.2 L664.8,840.0 L667.0,838.9 L669.2,837.8 L671.5,836.7 L673.7,835.7 L676.1,834.7 L678.4,833.8 L680.7,832.9 L683.1,832.1 L685.5,831.4 L687.9,830.7 L690.3,830.1 L692.8,829.6 L695.2,829.2 L697.7,828.9 L700.2,828.7 L702.7,828.6 L705.2,828.6 L707.7,828.8 L710.2,829.0 L712.7,829.4 L715.1,830.0 L717.5,830.6 L719.9,831.4 L722.2,832.3 L724.5,833.2 L726.8,834.3 L729.0,835.5 L731.1,836.8 L733.2,838.1 L735.3,839.6 L737.3,841.0 L739.3,842.6 L741.2,844.2 L743.1,845.9 L744.9,847.6 L746.7,849.3 L748.4,851.1 L750.1,852.9 L751.8,854.8 L753.5,856.6 L755.1,858.5 L756.7,860.5 L758.3,862.4 L759.8,864.4 L761.3,866.4 L762.8,868.4 L764.3,870.4 L765.8,872.4 L767.2,874.4 L768.6,876.5 L770.1,878.5 L771.5,880.6 L772.9,882.7 L774.3,884.8 L775.6,886.8 L777.0,888.9 L778.4,891.0 L779.7,893.1 L781.0,895.3 L782.4,897.4 L783.7,899.5 L785.0,901.6 L786.4,903.7 L787.7,905.9 L789.0,908.0 L790.3,910.1 L791.6,912.3 L792.9,914.4 L794.2,916.5 L795.5,918.7 L796.8,920.8 L798.1,922.9 L799.4,925.1 L800.7,927.2 L802.0,929.3 L803.3,931.4 L804.7,933.6 L806.0,935.7 L807.3,937.8 L808.6,939.9 L810.0,942.0 L811.4,944.1 L812.7,946.2 L814.1,948.3 L815.5,950.4 L816.9,952.4 L818.3,954.5 L819.7,956.6 L821.2,958.6 L822.6,960.6 L824.1,962.7 L825.6,964.7 L827.0,966.7 L828.6,968.7 L830.1,970.7 L831.6,972.6 L833.2,974.6 L834.8,976.5 L836.4,978.4 L838.0,980.4 L839.6,982.3 L841.2,984.2 L842.9,986.0 L844.5,987.9 L846.2,989.8 L847.8,991.6 L849.5,993.5 L851.2,995.3 L852.9,997.2 L854.6,999.0 L856.3,1000.8 L858.0,1002.6 L859.8,1004.5 L861.5,1006.3 L863.2,1008.1 L865.0,1009.9 L866.7,1011.7 L868.4,1013.5 L870.2,1015.2 L871.9,1017.0 L873.7,1018.8 L875.4,1020.6 L877.2,1022.4 L878.9,1024.2 L880.7,1026.0 L882.4,1027.7 L884.2,1029.5 L885.9,1031.3 L887.7,1033.1 L889.4,1034.9 L891.2,1036.7 L892.9,1038.5 L894.6,1040.3 L896.4,1042.1 L898.1,1043.9 L899.8,1045.7 L901.5,1047.6 L903.2,1049.4 L904.9,1051.2 L906.6,1053.0 L908.3,1054.9 L910.0,1056.7 L911.7,1058.6 L913.3,1060.4 L915.0,1062.3 L916.7,1064.2 L918.3,1066.0 L920.0,1067.9 L921.7,1069.8 L923.3,1071.6 L925.0,1073.5 L926.6,1075.4 L928.3,1077.3 L929.9,1079.2 L931.6,1081.0 L933.2,1082.9 L934.8,1084.8 L936.5,1086.7 L938.1,1088.6 L939.7,1090.5 L941.4,1092.4 L943.0,1094.3 L944.6,1096.2 L946.2,1098.1 L947.9,1100.0 L949.5,1101.9 L951.1,1103.8 L952.7,1105.7 L954.4,1107.6 L956.0,1109.5 L957.6,1111.4 L959.2,1113.3 L960.9,1115.2 L962.5,1117.1 L964.1,1119.0 L965.7,1120.9 L967.4,1122.8 L969.0,1124.7 L970.6,1126.6 L972.3,1128.5 L973.9,1130.3 L975.5,1132.2 L977.2,1134.1 L978.8,1136.0 L980.5,1137.9 L982.1,1139.8 L983.8,1141.6 L985.4,1143.5 L987.1,1145.4 L988.8,1147.2 L990.4,1149.1 L992.1,1151.0 L993.8,1152.8 L995.5,1154.7 L997.2,1156.5 L998.8,1158.3 L1000.5,1160.2 L1002.2,1162.0 L1003.9,1163.8 L1005.7,1165.7 L1007.4,1167.5 L1009.1,1169.3 L1010.8,1171.1 L1012.6,1172.9 L1014.3,1174.7 L1016.0,1176.5 L1017.8,1178.3 L1019.6,1180.0 L1021.3,1181.8 L1023.1,1183.6 L1024.9,1185.3 L1026.7,1187.1 L1028.5,1188.8 L1030.3,1190.5 L1032.1,1192.3 L1033.9,1194.0 L1035.7,1195.7 L1037.5,1197.4 L1039.4,1199.1 L1041.2,1200.8 L1043.1,1202.5 L1044.9,1204.1 L1046.8,1205.8 L1048.7,1207.4 L1050.6,1209.1 L1052.5,1210.7 L1054.4,1212.3 L1056.3,1214.0 L1058.2,1215.6 L1060.1,1217.2 L1062.0,1218.8 L1063.9,1220.4 L1065.9,1222.0 L1067.8,1223.5 L1069.8,1225.1 L1071.7,1226.6 L1073.7,1228.2 L1075.7,1229.7 L1077.6,1231.3 L1079.6,1232.8 L1081.6,1234.3 L1083.6,1235.8 L1085.6,1237.3 L1087.6,1238.8 L1089.6,1240.3 L1091.6,1241.8 L1093.7,1243.2 L1095.7,1244.7 L1097.7,1246.1 L1099.8,1247.6 L1101.8,1249.0 L1103.9,1250.4 L1105.9,1251.9 L1108.0,1253.3 L1110.1,1254.7 L1112.1,1256.1 L1114.2,1257.4 L1116.3,1258.8 L1118.4,1260.2 L1120.5,1261.6 L1122.6,1262.9 L1124.7,1264.3 L1126.8,1265.6 L1128.9,1266.9 L1131.1,1268.2 L1133.2,1269.5 L1135.3,1270.8 L1137.5,1272.1 L1139.6,1273.4 L1141.8,1274.7 L1143.9,1276.0 L1146.1,1277.2 L1148.2,1278.5 L1150.4,1279.7 L1152.6,1281.0 L1154.7,1282.2 L1156.9,1283.4 L1159.1,1284.6 L1161.3,1285.8 L1163.5,1287.0 L1165.7,1288.2 L1167.9,1289.4 L1170.1,1290.5 L1172.3,1291.7 L1174.6,1292.9 L1176.8,1294.0 L1179.0,1295.1 L1181.2,1296.3 L1183.5,1297.4 L1185.7,1298.5 L1188.0,1299.6 L1190.2,1300.7 L1192.5,1301.8 L1194.7,1302.8 L1197.0,1303.9 L1199.2,1305.0 L1201.5,1306.0 L1203.8,1307.0 L1206.1,1308.1 L1208.3,1309.1 L1210.6,1310.1 L1212.9,1311.1 L1215.2,1312.1 L1217.5,1313.1 L1219.8,1314.1 L1222.1,1315.1 L1224.4,1316.0 L1226.7,1317.0 L1229.0,1317.9 L1231.4,1318.9 L1233.7,1319.8 L1236.0,1320.7 L1238.3,1321.6 L1240.7,1322.5 L1243.0,1323.4 L1245.3,1324.3 L1247.7,1325.2 L1250.0,1326.1 L1252.4,1326.9 L1254.7,1327.8 L1257.1,1328.6 L1259.4,1329.5 L1261.8,1330.3 L1264.1,1331.1 L1266.5,1331.9 L1268.9,1332.7 L1271.2,1333.5 L1273.6,1334.3 L1276.0,1335.1 L1278.4,1335.9 L1280.7,1336.6 L1283.1,1337.4 L1285.5,1338.1 L1287.9,1338.9 L1290.3,1339.6 L1292.7,1340.3 L1295.1,1341.0 L1297.5,1341.8 L1299.9,1342.5 L1302.3,1343.2 L1304.7,1343.8 L1307.1,1344.5 L1309.5,1345.2 L1311.9,1345.9 L1314.3,1346.5 L1316.7,1347.2 L1319.1,1347.8 L1321.6,1348.5 L1324.0,1349.1 L1326.4,1349.7 L1328.8,1350.3 L1331.2,1350.9 L1333.7,1351.5 L1336.1,1352.1 L1338.5,1352.7 L1341.0,1353.3 L1343.4,1353.9 L1345.8,1354.5 L1348.3,1355.0 L1350.7,1355.6 L1353.1,1356.1 L1355.6,1356.7 L1358.0,1357.2 L1360.5,1357.7 L1362.9,1358.3 L1365.4,1358.8 L1367.8,1359.3 L1370.2,1359.8 L1372.7,1360.3 L1375.2,1360.8 L1377.6,1361.3 L1380.1,1361.7 L1382.5,1362.2 L1385.0,1362.7 L1387.4,1363.1 L1389.9,1363.6 L1392.3,1364.0 L1394.8,1364.5 L1397.3,1364.9 L1399.7,1365.4 L1402.2,1365.8 L1404.7,1366.2 L1407.1,1366.6 L1409.6,1367.0 L1412.0,1367.4 L1414.5,1367.8 L1417.0,1368.2 L1419.5,1368.6 L1421.9,1369.0 L1424.4,1369.4 L1426.9,1369.8 L1429.3,1370.1 L1431.8,1370.5 L1434.3,1370.8 L1436.8,1371.2 L1439.2,1371.5 L1441.7,1371.9 L1444.2,1372.2 L1446.7,1372.6 L1449.1,1372.9 L1451.6,1373.2 L1454.1,1373.5 L1456.6,1373.8 L1459.1,1374.1 L1461.5,1374.5 L1464.0,1374.8 L1466.5,1375.0 L1469.0,1375.3 L1471.5,1375.6 L1474.0,1375.9 L1476.4,1376.2 L1478.9,1376.5 L1481.4,1376.7 L1483.9,1377.0 L1486.4,1377.3 L1488.9,1377.5 L1491.4,1377.8 L1493.8,1378.0 L1496.3,1378.3 L1498.8,1378.5 L1501.3,1378.7 L1503.8,1379.0 L1506.3,1379.2 L1508.8,1379.4 L1511.3,1379.7 L1513.8,1379.9 L1516.3,1380.1 L1518.7,1380.3 L1521.2,1380.5 L1523.7,1380.7 L1526.2,1380.9 L1528.7,1381.1 L1531.2,1381.3 L1533.7,1381.5 L1536.2,1381.7 L1538.7,1381.9 L1541.2,1382.1 L1543.7,1382.2 L1546.2,1382.4 L1548.7,1382.6 L1551.1,1382.7 L1553.6,1382.9 L1556.1,1383.1 L1558.6,1383.2 L1561.1,1383.4 L1563.6,1383.6 L1566.1,1383.7 L1568.6,1383.9 L1571.1,1384.0 L1573.6,1384.1 L1576.1,1384.3 L1578.6,1384.4 L1581.1,1384.6 L1583.6,1384.7 L1586.1,1384.8 L1588.6,1385.0 L1591.1,1385.1 L1593.6,1385.2 L1596.1,1385.3 L1598.6,1385.4 L1601.1,1385.6 L1603.6,1385.7 L1606.1,1385.8 L1608.6,1385.9 L1611.1,1386.0 L1613.6,1386.1 L1616.0,1386.2 L1618.5,1386.3 L1621.0,1386.4 L1623.5,1386.5 L1626.0,1386.6 L1628.5,1386.7 L1631.0,1386.8 L1633.5,1386.9 L1636.0,1387.0 L1638.5,1387.1 L1641.0,1387.2 L1643.5,1387.3 L1646.0,1387.4 L1648.5,1387.4 L1651.0,1387.5 L1653.5,1387.6 L1656.0,1387.7 L1658.5,1387.8 L1661.0,1387.8 L1663.5,1387.9 L1666.0,1388.0 L1668.5,1388.1 L1671.0,1388.1 L1673.5,1388.2 L1676.0,1388.3 L1678.5,1388.4 L1681.0,1388.4 L1683.5,1388.5 L1686.0,1388.6 L1688.5,1388.6 L1691.0,1388.7 L1693.5,1388.8 L1696.0,1388.8 L1698.5,1388.9 L1701.0,1389.0 L1703.5,1389.0 L1706.0,1389.1 L1708.5,1389.2 L1711.0,1389.2 L1713.5,1389.3 L1716.0,1389.3 L1718.5,1389.4 L1721.0,1389.5 L1723.5,1389.5 L1726.0,1389.6 L1728.5,1389.7 L1731.0,1389.7 L1733.5,1389.8" stroke="#000080" /><path d="M278.1,1392.1 L280.5,1391.5 L282.9,1390.8 L285.3,1390.1 L287.7,1389.3 L290.1,1388.5 L292.4,1387.6 L294.7,1386.7 L297.0,1385.8 L299.3,1384.7 L301.6,1383.7 L303.8,1382.6 L306.0,1381.4 L308.2,1380.2 L310.4,1378.9 L312.5,1377.6 L314.6,1376.2 L316.6,1374.7 L318.6,1373.3 L320.6,1371.7 L322.6,1370.2 L324.5,1368.6 L326.3,1366.9 L328.2,1365.2 L330.0,1363.5 L331.7,1361.7 L333.4,1359.9 L335.1,1358.0 L336.7,1356.1 L338.3,1354.2 L339.9,1352.2 L341.4,1350.2 L342.9,1348.2 L344.3,1346.2 L345.7,1344.1 L347.1,1342.0 L348.4,1339.9 L349.8,1337.8 L351.0,1335.6 L352.3,1333.5 L353.5,1331.3 L354.7,1329.1 L355.8,1326.9 L357.0,1324.6 L358.1,1322.4 L359.1,1320.1 L360.2,1317.9 L361.2,1315.6 L362.2,1313.3 L363.2,1311.0 L364.2,1308.7 L365.2,1306.4 L366.1,1304.1 L367.0,1301.8 L367.9,1299.4 L368.8,1297.1 L369.7,1294.8 L370.6,1292.4 L371.5,1290.1 L372.3,1287.7 L373.2,1285.4 L374.0,1283.0 L374.8,1280.7 L375.7,1278.3 L376.5,1276.0 L377.3,1273.6 L378.1,1271.2 L378.9,1268.9 L379.7,1266.5 L380.6,1264.1 L381.4,1261.8 L382.2,1259.4 L383.0,1257.1 L383.8,1254.7 L384.7,1252.3 L385.5,1250.0 L386.4,1247.6 L387.2,1245.3 L388.1,1242.9 L388.9,1240.6 L389.8,1238.2 L390.7,1235.9 L391.6,1233.6 L392.5,1231.3 L393.5,1228.9 L394.4,1226.6 L395.4,1224.3 L396.4,1222.0 L397.4,1219.8 L398.5,1217.5 L399.5,1215.2 L400.6,1213.0 L401.7,1210.7 L402.8,1208.5 L404.0,1206.3 L405.1,1204.1 L406.3,1201.9 L407.6,1199.7 L408.8,1197.5 L410.1,1195.4 L411.4,1193.2 L412.7,1191.1 L414.1,1189.0 L415.5,1186.9 L416.9,1184.9 L418.3,1182.8 L419.8,1180.8 L421.2,1178.8 L422.7,1176.8 L424.3,1174.8 L425.8,1172.8 L427.4,1170.9 L429.0,1169.0 L430.6,1167.1 L432.3,1165.2 L434.0,1163.4 L435.7,1161.5 L437.4,1159.7 L439.1,1157.9 L440.9,1156.1 L442.7,1154.4 L444.5,1152.7 L446.3,1151.0 L448.1,1149.3 L450.0,1147.6 L451.9,1145.9 L453.7,1144.3 L455.6,1142.6 L457.4,1140.9 L459.2,1139.1 L460.9,1137.4 L462.6,1135.5 L464.3,1133.6 L465.8,1131.7 L467.3,1129.7 L468.8,1127.6 L470.1,1125.5 L471.5,1123.4 L472.7,1121.3 L473.9,1119.1 L475.1,1116.9 L476.3,1114.6 L477.4,1112.4 L478.5,1110.2 L479.6,1107.9 L480.6,1105.6 L481.7,1103.4 L482.7,1101.1 L483.8,1098.9 L484.8,1096.6 L485.9,1094.3 L486.9,1092.0 L488.0,1089.8 L489.0,1087.5 L490.0,1085.2 L491.0,1082.9 L492.0,1080.6 L493.0,1078.3 L494.0,1076.0 L495.0,1073.7 L496.0,1071.4 L496.9,1069.1 L497.9,1066.8 L498.8,1064.5 L499.7,1062.2 L500.6,1059.8 L501.5,1057.5 L502.4,1055.2 L503.2,1052.8 L504.1,1050.5 L504.9,1048.1 L505.7,1045.7 L506.5,1043.4 L507.3,1041.0 L508.1,1038.6 L508.8,1036.2 L509.6,1033.9 L510.3,1031.5 L511.1,1029.1 L511.8,1026.7 L512.6,1024.3 L513.3,1021.9 L514.0,1019.5 L514.8,1017.1 L515.5,1014.8 L516.2,1012.4 L517.0,1010.0 L517.7,1007.6 L518.5,1005.2 L519.2,1002.8 L520.0,1000.4 L520.7,998.1 L521.5,995.7 L522.3,993.3 L523.1,990.9 L523.9,988.6 L524.7,986.2 L525.5,983.8 L526.4,981.5 L527.2,979.1 L528.1,976.8 L529.0,974.5 L529.9,972.1 L530.9,969.8 L531.8,967.5 L532.8,965.2 L533.8,962.9 L534.9,960.7 L535.9,958.4 L537.0,956.1 L538.1,953.9 L539.2,951.7 L540.4,949.5 L541.6,947.3 L542.9,945.1 L544.1,943.0 L545.4,940.8 L546.8,938.7 L548.2,936.6 L549.6,934.6 L551.1,932.6 L552.6,930.6 L554.1,928.6 L555.7,926.7 L557.4,924.8 L559.1,923.0 L560.9,921.2 L562.7,919.5 L564.5,917.8 L566.5,916.3 L568.5,914.7 L570.5,913.3 L572.6,911.9 L574.8,910.7 L577.0,909.5 L579.2,908.5 L581.6,907.5 L583.9,906.7 L586.3,906.0 L588.8,905.4 L591.2,905.0 L593.7,904.7 L596.2,904.5 L598.7,904.4 L601.2,904.5 L603.7,904.6 L606.2,904.9 L608.6,905.2 L611.1,905.6 L613.6,906.1 L616.0,906.5 L618.5,907.0 L620.9,907.4 L623.4,907.8 L625.9,908.1 L628.4,908.4 L630.9,908.7 L633.4,908.8 L635.9,908.8 L638.4,908.6 L640.8,908.3 L643.3,907.9 L645.7,907.2 L648.0,906.3 L650.3,905.4 L652.6,904.3 L654.8,903.1 L657.0,901.8 L659.1,900.5 L661.2,899.2 L663.3,897.9 L665.5,896.6 L667.6,895.3 L669.8,894.1 L672.0,892.9 L674.2,891.8 L676.5,890.8 L678.9,889.9 L681.2,889.1 L683.7,888.5 L686.1,887.9 L688.6,887.5 L691.0,887.2 L693.5,887.0 L696.0,886.9 L698.5,886.8 L701.0,886.9 L703.5,887.1 L706.0,887.4 L708.5,887.8 L710.9,888.3 L713.4,888.8 L715.8,889.5 L718.2,890.2 L720.5,891.0 L722.9,891.9 L725.2,892.8 L727.5,893.8 L729.7,894.9 L732.0,896.1 L734.1,897.3 L736.3,898.5 L738.4,899.9 L740.5,901.3 L742.5,902.7 L744.5,904.2 L746.5,905.7 L748.4,907.3 L750.3,909.0 L752.1,910.7 L754.0,912.4 L755.7,914.2 L757.5,916.0 L759.2,917.8 L760.8,919.6 L762.5,921.5 L764.1,923.4 L765.7,925.4 L767.2,927.3 L768.8,929.3 L770.3,931.3 L771.8,933.3 L773.2,935.3 L774.7,937.4 L776.1,939.4 L777.5,941.5 L778.9,943.6 L780.3,945.6 L781.7,947.7 L783.1,949.8 L784.4,951.9 L785.8,954.0 L787.2,956.1 L788.5,958.2 L789.9,960.3 L791.2,962.4 L792.6,964.5 L794.0,966.6 L795.3,968.7 L796.7,970.7 L798.1,972.8 L799.5,974.9 L800.9,977.0 L802.3,979.0 L803.8,981.0 L805.2,983.1 L806.7,985.1 L808.2,987.1 L809.7,989.1 L811.3,991.0 L812.9,993.0 L814.5,994.9 L816.1,996.8 L817.7,998.7 L819.3,1000.6 L821.0,1002.5 L822.7,1004.3 L824.4,1006.1 L826.1,1008.0 L827.8,1009.8 L829.6,1011.6 L831.3,1013.3 L833.1,1015.1 L834.9,1016.9 L836.7,1018.6 L838.5,1020.3 L840.3,1022.1 L842.1,1023.8 L843.9,1025.5 L845.8,1027.2 L847.6,1028.9 L849.4,1030.6 L851.3,1032.2 L853.1,1033.9 L855.0,1035.6 L856.9,1037.3 L858.7,1038.9 L860.6,1040.6 L862.4,1042.3 L864.3,1044.0 L866.2,1045.6 L868.0,1047.3 L869.9,1049.0 L871.7,1050.6 L873.6,1052.3 L875.4,1054.0 L877.3,1055.7 L879.1,1057.4 L880.9,1059.1 L882.7,1060.8 L884.5,1062.5 L886.4,1064.3 L888.2,1066.0 L890.0,1067.7 L891.7,1069.5 L893.5,1071.2 L895.3,1073.0 L897.1,1074.7 L898.9,1076.5 L900.6,1078.3 L902.4,1080.1 L904.1,1081.8 L905.9,1083.6 L907.7,1085.4 L909.4,1087.2 L911.1,1089.0 L912.9,1090.8 L914.6,1092.6 L916.3,1094.4 L918.1,1096.2 L919.8,1098.0 L921.5,1099.8 L923.3,1101.6 L925.0,1103.4 L926.7,1105.2 L928.4,1107.1 L930.1,1108.9 L931.8,1110.7 L933.5,1112.5 L935.3,1114.3 L937.0,1116.2 L938.7,1118.0 L940.4,1119.8 L942.1,1121.6 L943.8,1123.5 L945.5,1125.3 L947.2,1127.1 L948.9,1128.9 L950.6,1130.8 L952.3,1132.6 L954.0,1134.4 L955.7,1136.2 L957.5,1138.1 L959.2,1139.9 L960.9,1141.7 L962.6,1143.5 L964.3,1145.3 L966.0,1147.2 L967.8,1149.0 L969.5,1150.8 L971.2,1152.6 L972.9,1154.4 L974.7,1156.2 L976.4,1158.0 L978.1,1159.8 L979.9,1161.6 L981.6,1163.4 L983.4,1165.2 L985.1,1166.9 L986.9,1168.7 L988.7,1170.5 L990.4,1172.2 L992.2,1174.0 L994.0,1175.8 L995.8,1177.5 L997.5,1179.3 L999.3,1181.0 L1001.1,1182.8 L1002.9,1184.5 L1004.7,1186.2 L1006.6,1187.9 L1008.4,1189.6 L1010.2,1191.3 L1012.0,1193.0 L1013.9,1194.7 L1015.7,1196.4 L1017.6,1198.1 L1019.4,1199.8 L1021.3,1201.4 L1023.2,1203.1 L1025.0,1204.8 L1026.9,1206.4 L1028.8,1208.0 L1030.7,1209.7 L1032.6,1211.3 L1034.5,1212.9 L1036.4,1214.5 L1038.3,1216.1 L1040.3,1217.7 L1042.2,1219.3 L1044.1,1220.9 L1046.1,1222.5 L1048.0,1224.0 L1050.0,1225.6 L1051.9,1227.2 L1053.9,1228.7 L1055.9,1230.2 L1057.8,1231.8 L1059.8,1233.3 L1061.8,1234.8 L1063.8,1236.3 L1065.8,1237.8 L1067.8,1239.3 L1069.8,1240.8 L1071.8,1242.3 L1073.8,1243.8 L1075.9,1245.2 L1077.9,1246.7 L1079.9,1248.1 L1082.0,1249.6 L1084.0,1251.0 L1086.1,1252.4 L1088.1,1253.9 L1090.2,1255.3 L1092.3,1256.7 L1094.3,1258.1 L1096.4,1259.5 L1098.5,1260.9 L1100.6,1262.2 L1102.7,1263.6 L1104.8,1265.0 L1106.9,1266.3 L1109.0,1267.6 L1111.1,1269.0 L1113.2,1270.3 L1115.3,1271.6 L1117.5,1272.9 L1119.6,1274.2 L1121.7,1275.5 L1123.9,1276.8 L1126.0,1278.1 L1128.2,1279.4 L1130.3,1280.6 L1132.5,1281.9 L1134.7,1283.1 L1136.8,1284.4 L1139.0,1285.6 L1141.2,1286.8 L1143.4,1288.0 L1145.6,1289.2 L1147.8,1290.4 L1150.0,1291.6 L1152.2,1292.8 L1154.4,1294.0 L1156.6,1295.1 L1158.8,1296.3 L1161.0,1297.4 L1163.3,1298.6 L1165.5,1299.7 L1167.7,1300.8 L1170.0,1301.9 L1172.2,1303.0 L1174.5,1304.1 L1176.7,1305.2 L1179.0,1306.3 L1181.2,1307.3 L1183.5,1308.4 L1185.8,1309.4 L1188.0,1310.5 L1190.3,1311.5 L1192.6,1312.5 L1194.9,1313.5 L1197.2,1314.5 L1199.5,1315.5 L1201.8,1316.5 L1204.1,1317.5 L1206.4,1318.5 L1208.7,1319.4 L1211.0,1320.4 L1213.3,1321.3 L1215.6,1322.2 L1218.0,1323.1 L1220.3,1324.1 L1222.6,1325.0 L1225.0,1325.8 L1227.3,1326.7 L1229.6,1327.6 L1232.0,1328.5 L1234.3,1329.3 L1236.7,1330.2 L1239.0,1331.0 L1241.4,1331.8 L1243.7,1332.7 L1246.1,1333.5 L1248.5,1334.3 L1250.8,1335.1 L1253.2,1335.9 L1255.6,1336.6 L1258.0,1337.4 L1260.4,1338.2 L1262.7,1338.9 L1265.1,1339.7 L1267.5,1340.4 L1269.9,1341.1 L1272.3,1341.9 L1274.7,1342.6 L1277.1,1343.3 L1279.5,1344.0 L1281.9,1344.7 L1284.3,1345.4 L1286.7,1346.0 L1289.1,1346.7 L1291.5,1347.4 L1293.9,1348.0 L1296.4,1348.6 L1298.8,1349.3 L1301.2,1349.9 L1303.6,1350.5 L1306.0,1351.1 L1308.5,1351.8 L1310.9,1352.4 L1313.3,1352.9 L1315.7,1353.5 L1318.2,1354.1 L1320.6,1354.7 L1323.0,1355.2 L1325.5,1355.8 L1327.9,1356.3 L1330.4,1356.9 L1332.8,1357.4 L1335.2,1357.9 L1337.7,1358.5 L1340.1,1359.0 L1342.6,1359.5 L1345.0,1360.0 L1347.5,1360.5 L1349.9,1361.0 L1352.4,1361.5 L1354.8,1361.9 L1357.3,1362.4 L1359.8,1362.9 L1362.2,1363.3 L1364.7,1363.8 L1367.1,1364.2 L1369.6,1364.7 L1372.1,1365.1 L1374.5,1365.5 L1377.0,1365.9 L1379.4,1366.4 L1381.9,1366.8 L1384.4,1367.2 L1386.8,1367.6 L1389.3,1368.0 L1391.8,1368.3 L1394.3,1368.7 L1396.7,1369.1 L1399.2,1369.5 L1401.7,1369.8 L1404.1,1370.2 L1406.6,1370.6 L1409.1,1370.9 L1411.6,1371.2 L1414.0,1371.6 L1416.5,1371.9 L1419.0,1372.2 L1421.5,1372.6 L1424.0,1372.9 L1426.4,1373.2 L1428.9,1373.5 L1431.4,1373.8 L1433.9,1374.1 L1436.4,1374.4 L1438.8,1374.7 L1441.3,1375.0 L1443.8,1375.3 L1446.3,1375.6 L1448.8,1375.8 L1451.3,1376.1 L1453.8,1376.4 L1456.2,1376.6 L1458.7,1376.9 L1461.2,1377.1 L1463.7,1377.4 L1466.2,1377.6 L1468.7,1377.9 L1471.2,1378.1 L1473.7,1378.3 L1476.1,1378.6 L1478.6,1378.8 L1481.1,1379.0 L1483.6,1379.2 L1486.1,1379.4 L1488.6,1379.7 L1491.1,1379.9 L1493.6,1380.1 L1496.1,1380.3 L1498.6,1380.5 L1501.1,1380.7 L1503.5,1380.9 L1506.0,1381.0 L1508.5,1381.2 L1511.0,1381.4 L1513.5,1381.6 L1516.0,1381.8 L1518.5,1381.9 L1521.0,1382.1 L1523.5,1382.3 L1526.0,1382.4 L1528.5,1382.6 L1531.0,1382.8 L1533.5,1382.9 L1536.0,1383.1 L1538.5,1383.2 L1541.0,1383.4 L1543.4,1383.5 L1545.9,1383.7 L1548.4,1383.8 L1550.9,1383.9 L1553.4,1384.1 L1555.9,1384.2 L1558.4,1384.3 L1560.9,1384.5 L1563.4,1384.6 L1565.9,1384.7 L1568.4,1384.8 L1570.9,1385.0 L1573.4,1385.1 L1575.9,1385.2 L1578.4,1385.3 L1580.9,1385.4 L1583.4,1385.5 L1585.9,1385.7 L1588.4,1385.8 L1590.9,1385.9 L1593.4,1386.0 L1595.9,1386.1 L1598.4,1386.2 L1600.9,1386.3 L1603.4,1386.4 L1605.9,1386.5 L1608.4,1386.6 L1610.9,1386.7 L1613.4,1386.8 L1615.9,1386.9 L1618.4,1387.0 L1620.9,1387.1 L1623.4,1387.2 L1625.9,1387.3 L1628.3,1387.4 L1630.8,1387.4 L1633.3,1387.5 L1635.8,1387.6 L1638.3,1387.7 L1640.8,1387.8 L1643.3,1387.9 L1645.8,1388.0 L1648.3,1388.1 L1650.8,1388.1 L1653.3,1388.2 L1655.8,1388.3 L1658.3,1388.4 L1660.8,1388.5 L1663.3,1388.6 L1665.8,1388.7 L1668.3,1388.7 L1670.8,1388.8 L1673.3,1388.9 L1675.8,1389.0 L1678.3,1389.1 L1680.8,1389.2 L1683.3,1389.3 L1685.8,1389.4 L1688.3,1389.4 L1690.8,1389.5 L1693.3,1389.6 L1695.8,1389.7 L1698.3,1389.8 L1700.8,1389.9 L1703.3,1390.0 L1705.8,1390.1 L1708.3,1390.2 L1710.8,1390.3 L1713.3,1390.4 L1715.8,1390.4 L1718.3,1390.5 L1720.8,1390.6 L1723.3,1390.7 L1725.8,1390.8 L1728.3,1390.9 L1730.8,1391.0 L1733.3,1391.1" stroke="#800080" /><path d="M280.0,1392.1 L282.4,1391.5 L284.8,1390.8 L287.2,1390.1 L289.6,1389.3 L291.9,1388.5 L294.3,1387.6 L296.6,1386.6 L298.9,1385.7 L301.2,1384.6 L303.4,1383.6 L305.7,1382.4 L307.9,1381.3 L310.1,1380.1 L312.2,1378.8 L314.4,1377.5 L316.5,1376.2 L318.6,1374.8 L320.6,1373.4 L322.7,1372.0 L324.7,1370.5 L326.7,1369.0 L328.6,1367.4 L330.5,1365.8 L332.4,1364.2 L334.3,1362.5 L336.2,1360.8 L338.0,1359.1 L339.7,1357.4 L341.5,1355.6 L343.2,1353.8 L344.9,1351.9 L346.5,1350.0 L348.2,1348.1 L349.7,1346.2 L351.3,1344.2 L352.8,1342.2 L354.3,1340.2 L355.7,1338.2 L357.1,1336.1 L358.5,1334.0 L359.8,1331.9 L361.1,1329.7 L362.3,1327.6 L363.5,1325.4 L364.6,1323.2 L365.8,1320.9 L366.8,1318.7 L367.9,1316.4 L368.9,1314.1 L369.9,1311.8 L370.8,1309.5 L371.7,1307.2 L372.6,1304.8 L373.5,1302.5 L374.3,1300.2 L375.1,1297.8 L375.9,1295.4 L376.7,1293.1 L377.5,1290.7 L378.3,1288.3 L379.0,1285.9 L379.7,1283.5 L380.5,1281.1 L381.2,1278.7 L381.9,1276.4 L382.6,1274.0 L383.4,1271.6 L384.1,1269.2 L384.8,1266.8 L385.6,1264.4 L386.3,1262.0 L387.1,1259.6 L387.8,1257.3 L388.6,1254.9 L389.4,1252.5 L390.2,1250.2 L391.1,1247.8 L392.0,1245.5 L392.9,1243.1 L393.8,1240.8 L394.7,1238.5 L395.7,1236.2 L396.7,1233.9 L397.8,1231.7 L398.9,1229.4 L400.0,1227.2 L401.2,1225.0 L402.4,1222.8 L403.6,1220.6 L404.9,1218.5 L406.3,1216.4 L407.6,1214.3 L409.0,1212.2 L410.4,1210.2 L411.9,1208.1 L413.4,1206.1 L414.9,1204.1 L416.4,1202.2 L418.0,1200.2 L419.6,1198.3 L421.2,1196.3 L422.8,1194.4 L424.4,1192.5 L426.0,1190.6 L427.7,1188.8 L429.3,1186.9 L431.0,1185.0 L432.7,1183.2 L434.4,1181.3 L436.1,1179.5 L437.8,1177.7 L439.4,1175.8 L441.1,1174.0 L442.8,1172.2 L444.5,1170.3 L446.2,1168.5 L447.9,1166.7 L449.6,1164.8 L451.3,1163.0 L453.0,1161.1 L454.6,1159.2 L456.3,1157.4 L457.9,1155.5 L459.5,1153.6 L461.1,1151.7 L462.7,1149.7 L464.3,1147.8 L465.9,1145.8 L467.4,1143.9 L468.9,1141.9 L470.4,1139.9 L471.9,1137.9 L473.4,1135.9 L474.8,1133.8 L476.3,1131.8 L477.7,1129.7 L479.1,1127.7 L480.5,1125.6 L481.8,1123.5 L483.2,1121.4 L484.5,1119.3 L485.8,1117.1 L487.1,1115.0 L488.4,1112.8 L489.6,1110.7 L490.8,1108.5 L492.0,1106.3 L493.2,1104.1 L494.4,1101.9 L495.6,1099.7 L496.7,1097.5 L497.8,1095.2 L498.9,1093.0 L500.0,1090.7 L501.1,1088.5 L502.1,1086.2 L503.1,1083.9 L504.1,1081.6 L505.1,1079.3 L506.1,1077.0 L507.1,1074.7 L508.0,1072.4 L508.9,1070.1 L509.9,1067.8 L510.7,1065.4 L511.6,1063.1 L512.5,1060.8 L513.3,1058.4 L514.2,1056.1 L515.0,1053.7 L515.8,1051.3 L516.6,1049.0 L517.4,1046.6 L518.2,1044.2 L518.9,1041.8 L519.7,1039.5 L520.5,1037.1 L521.3,1034.7 L522.0,1032.3 L522.8,1030.0 L523.6,1027.6 L524.4,1025.2 L525.2,1022.9 L526.0,1020.5 L526.8,1018.1 L527.6,1015.8 L528.5,1013.4 L529.3,1011.1 L530.2,1008.7 L531.1,1006.4 L532.1,1004.1 L533.0,1001.8 L534.0,999.5 L535.0,997.2 L536.1,994.9 L537.2,992.7 L538.3,990.5 L539.4,988.2 L540.6,986.1 L541.9,983.9 L543.2,981.8 L544.6,979.7 L546.0,977.6 L547.4,975.6 L548.9,973.6 L550.5,971.7 L552.2,969.8 L553.9,967.9 L555.6,966.2 L557.5,964.5 L559.4,962.9 L561.3,961.3 L563.4,959.8 L565.4,958.5 L567.6,957.2 L569.8,956.0 L572.0,955.0 L574.4,954.0 L576.7,953.2 L579.1,952.5 L581.6,951.9 L584.0,951.5 L586.5,951.3 L589.0,951.1 L591.5,951.1 L594.0,951.3 L596.5,951.4 L599.0,951.7 L601.4,952.0 L603.9,952.4 L606.4,952.7 L608.9,953.1 L611.3,953.4 L613.8,953.7 L616.3,954.0 L618.8,954.2 L621.3,954.3 L623.8,954.4 L626.3,954.3 L628.8,954.3 L631.3,954.1 L633.8,953.9 L636.2,953.6 L638.7,953.2 L641.2,952.7 L643.6,952.2 L646.0,951.6 L648.5,950.9 L650.8,950.2 L653.2,949.4 L655.6,948.5 L657.9,947.6 L660.2,946.6 L662.5,945.6 L664.7,944.6 L667.0,943.5 L669.2,942.4 L671.5,941.4 L673.8,940.3 L676.1,939.3 L678.4,938.3 L680.7,937.4 L683.0,936.6 L685.4,935.8 L687.8,935.2 L690.3,934.6 L692.7,934.2 L695.2,933.9 L697.7,933.8 L700.2,933.7 L702.7,933.8 L705.2,934.0 L707.7,934.3 L710.1,934.7 L712.6,935.2 L715.0,935.8 L717.4,936.5 L719.8,937.2 L722.1,938.1 L724.5,939.0 L726.8,940.0 L729.0,941.1 L731.2,942.2 L733.4,943.4 L735.6,944.6 L737.7,946.0 L739.8,947.3 L741.9,948.7 L743.9,950.2 L745.9,951.7 L747.8,953.3 L749.8,954.9 L751.6,956.5 L753.5,958.2 L755.3,959.9 L757.1,961.6 L758.9,963.4 L760.6,965.2 L762.3,967.0 L764.0,968.9 L765.7,970.7 L767.3,972.6 L768.9,974.5 L770.5,976.4 L772.1,978.4 L773.7,980.3 L775.2,982.3 L776.8,984.3 L778.3,986.2 L779.8,988.2 L781.3,990.2 L782.8,992.2 L784.3,994.2 L785.8,996.2 L787.3,998.2 L788.7,1000.3 L790.2,1002.3 L791.7,1004.3 L793.2,1006.3 L794.7,1008.3 L796.2,1010.3 L797.7,1012.3 L799.2,1014.3 L800.7,1016.3 L802.3,1018.2 L803.8,1020.2 L805.4,1022.1 L806.9,1024.1 L808.5,1026.0 L810.2,1027.9 L811.8,1029.8 L813.5,1031.6 L815.1,1033.5 L816.8,1035.3 L818.5,1037.2 L820.3,1039.0 L822.0,1040.7 L823.8,1042.5 L825.6,1044.3 L827.3,1046.0 L829.1,1047.7 L831.0,1049.5 L832.8,1051.2 L834.6,1052.9 L836.5,1054.5 L838.3,1056.2 L840.2,1057.9 L842.1,1059.5 L844.0,1061.2 L845.8,1062.8 L847.7,1064.5 L849.6,1066.1 L851.5,1067.7 L853.4,1069.3 L855.3,1070.9 L857.3,1072.5 L859.2,1074.1 L861.1,1075.8 L863.0,1077.4 L864.9,1079.0 L866.8,1080.6 L868.7,1082.2 L870.6,1083.8 L872.5,1085.4 L874.4,1087.0 L876.3,1088.7 L878.2,1090.3 L880.1,1091.9 L882.0,1093.6 L883.9,1095.2 L885.7,1096.9 L887.6,1098.6 L889.5,1100.2 L891.3,1101.9 L893.2,1103.6 L895.0,1105.3 L896.8,1107.0 L898.7,1108.7 L900.5,1110.4 L902.3,1112.1 L904.2,1113.8 L906.0,1115.5 L907.8,1117.2 L909.6,1118.9 L911.4,1120.6 L913.2,1122.3 L915.0,1124.1 L916.9,1125.8 L918.7,1127.5 L920.5,1129.3 L922.3,1131.0 L924.0,1132.7 L925.8,1134.5 L927.6,1136.2 L929.4,1137.9 L931.2,1139.7 L933.0,1141.4 L934.8,1143.2 L936.6,1144.9 L938.4,1146.7 L940.2,1148.4 L942.0,1150.1 L943.8,1151.9 L945.6,1153.6 L947.3,1155.4 L949.1,1157.1 L950.9,1158.8 L952.7,1160.6 L954.5,1162.3 L956.3,1164.0 L958.1,1165.8 L959.9,1167.5 L961.7,1169.2 L963.6,1171.0 L965.4,1172.7 L967.2,1174.4 L969.0,1176.1 L970.8,1177.8 L972.6,1179.5 L974.5,1181.2 L976.3,1182.9 L978.1,1184.6 L980.0,1186.3 L981.8,1188.0 L983.6,1189.7 L985.5,1191.4 L987.4,1193.1 L989.2,1194.7 L991.1,1196.4 L992.9,1198.0 L994.8,1199.7 L996.7,1201.3 L998.6,1203.0 L1000.5,1204.6 L1002.4,1206.2 L1004.3,1207.9 L1006.2,1209.5 L1008.1,1211.1 L1010.0,1212.7 L1012.0,1214.2 L1013.9,1215.8 L1015.8,1217.4 L1017.8,1219.0 L1019.8,1220.5 L1021.7,1222.1 L1023.7,1223.6 L1025.7,1225.1 L1027.6,1226.6 L1029.6,1228.2 L1031.6,1229.7 L1033.6,1231.2 L1035.6,1232.6 L1037.7,1234.1 L1039.7,1235.6 L1041.7,1237.0 L1043.7,1238.5 L1045.8,1239.9 L1047.8,1241.4 L1049.9,1242.8 L1051.9,1244.2 L1054.0,1245.6 L1056.1,1247.0 L1058.1,1248.4 L1060.2,1249.8 L1062.3,1251.2 L1064.4,1252.6 L1066.5,1253.9 L1068.6,1255.3 L1070.7,1256.6 L1072.8,1258.0 L1074.9,1259.3 L1077.0,1260.6 L1079.2,1261.9 L1081.3,1263.2 L1083.4,1264.5 L1085.6,1265.8 L1087.7,1267.1 L1089.9,1268.3 L1092.0,1269.6 L1094.2,1270.9 L1096.4,1272.1 L1098.5,1273.3 L1100.7,1274.6 L1102.9,1275.8 L1105.1,1277.0 L1107.3,1278.2 L1109.5,1279.4 L1111.7,1280.6 L1113.9,1281.7 L1116.1,1282.9 L1118.3,1284.1 L1120.5,1285.2 L1122.7,1286.4 L1124.9,1287.5 L1127.2,1288.6 L1129.4,1289.8 L1131.6,1290.9 L1133.9,1292.0 L1136.1,1293.1 L1138.4,1294.2 L1140.6,1295.2 L1142.9,1296.3 L1145.2,1297.4 L1147.4,1298.4 L1149.7,1299.5 L1152.0,1300.5 L1154.2,1301.6 L1156.5,1302.6 L1158.8,1303.6 L1161.1,1304.6 L1163.4,1305.6 L1165.7,1306.6 L1168.0,1307.6 L1170.3,1308.6 L1172.6,1309.5 L1174.9,1310.5 L1177.2,1311.5 L1179.5,1312.4 L1181.8,1313.3 L1184.1,1314.3 L1186.4,1315.2 L1188.8,1316.1 L1191.1,1317.0 L1193.4,1317.9 L1195.7,1318.8 L1198.1,1319.7 L1200.4,1320.6 L1202.8,1321.5 L1205.1,1322.3 L1207.5,1323.2 L1209.8,1324.1 L1212.2,1324.9 L1214.5,1325.7 L1216.9,1326.6 L1219.2,1327.4 L1221.6,1328.2 L1223.9,1329.0 L1226.3,1329.8 L1228.7,1330.6 L1231.1,1331.4 L1233.4,1332.2 L1235.8,1333.0 L1238.2,1333.7 L1240.6,1334.5 L1242.9,1335.2 L1245.3,1336.0 L1247.7,1336.7 L1250.1,1337.5 L1252.5,1338.2 L1254.9,1338.9 L1257.3,1339.6 L1259.7,1340.3 L1262.1,1341.0 L1264.5,1341.7 L1266.9,1342.4 L1269.3,1343.1 L1271.7,1343.8 L1274.1,1344.4 L1276.5,1345.1 L1278.9,1345.8 L1281.3,1346.4 L1283.7,1347.1 L1286.1,1347.7 L1288.6,1348.3 L1291.0,1349.0 L1293.4,1349.6 L1295.8,1350.2 L1298.3,1350.8 L1300.7,1351.4 L1303.1,1352.0 L1305.5,1352.6 L1308.0,1353.2 L1310.4,1353.7 L1312.8,1354.3 L1315.3,1354.9 L1317.7,1355.4 L1320.1,1356.0 L1322.6,1356.5 L1325.0,1357.1 L1327.4,1357.6 L1329.9,1358.1 L1332.3,1358.7 L1334.8,1359.2 L1337.2,1359.7 L1339.7,1360.2 L1342.1,1360.7 L1344.6,1361.2 L1347.0,1361.7 L1349.5,1362.2 L1351.9,1362.7 L1354.4,1363.1 L1356.8,1363.6 L1359.3,1364.1 L1361.7,1364.5 L1364.2,1365.0 L1366.6,1365.5 L1369.1,1365.9 L1371.6,1366.3 L1374.0,1366.8 L1376.5,1367.2 L1378.9,1367.6 L1381.4,1368.0 L1383.9,1368.5 L1386.3,1368.9 L1388.8,1369.3 L1391.3,1369.7 L1393.7,1370.1 L1396.2,1370.5 L1398.7,1370.8 L1401.1,1371.2 L1403.6,1371.6 L1406.1,1372.0 L1408.6,1372.3 L1411.0,1372.7 L1413.5,1373.1 L1416.0,1373.4 L1418.4,1373.8 L1420.9,1374.1 L1423.4,1374.4 L1425.9,1374.8 L1428.4,1375.1 L1430.8,1375.4 L1433.3,1375.7 L1435.8,1376.1 L1438.3,1376.4 L1440.7,1376.7 L1443.2,1377.0 L1445.7,1377.3 L1448.2,1377.6 L1450.7,1377.9 L1453.1,1378.2 L1455.6,1378.4 L1458.1,1378.7 L1460.6,1379.0 L1463.1,1379.3 L1465.6,1379.5 L1468.1,1379.8 L1470.5,1380.0 L1473.0,1380.3 L1475.5,1380.5 L1478.0,1380.8 L1480.5,1381.0 L1483.0,1381.3 L1485.5,1381.5 L1487.9,1381.7 L1490.4,1382.0 L1492.9,1382.2 L1495.4,1382.4 L1497.9,1382.6 L1500.4,1382.8 L1502.9,1383.0 L1505.4,1383.2 L1507.9,1383.4 L1510.3,1383.6 L1512.8,1383.8 L1515.3,1384.0 L1517.8,1384.2 L1520.3,1384.4 L1522.8,1384.6 L1525.3,1384.8 L1527.8,1384.9 L1530.3,1385.1 L1532.8,1385.3 L1535.3,1385.4 L1537.8,1385.6 L1540.3,1385.7 L1542.8,1385.9 L1545.2,1386.1 L1547.7,1386.2 L1550.2,1386.3 L1552.7,1386.5 L1555.2,1386.6 L1557.7,1386.8 L1560.2,1386.9 L1562.7,1387.0 L1565.2,1387.1 L1567.7,1387.3 L1570.2,1387.4 L1572.7,1387.5 L1575.2,1387.6 L1577.7,1387.7 L1580.2,1387.8 L1582.7,1387.9 L1585.2,1388.0 L1587.7,1388.1 L1590.2,1388.2 L1592.7,1388.3 L1595.2,1388.4 L1597.7,1388.5 L1600.2,1388.6 L1602.7,1388.7 L1605.1,1388.7 L1607.6,1388.8 L1610.1,1388.9 L1612.6,1389.0 L1615.1,1389.0 L1617.6,1389.1 L1620.1,1389.2 L1622.6,1389.2 L1625.1,1389.3 L1627.6,1389.3 L1630.1,1389.4 L1632.6,1389.5 L1635.1,1389.5 L1637.6,1389.5 L1640.1,1389.6 L1642.6,1389.6 L1645.1,1389.7 L1647.6,1389.7 L1650.1,1389.7 L1652.6,1389.8 L1655.1,1389.8 L1657.6,1389.8 L1660.1,1389.9 L1662.6,1389.9 L1665.1,1389.9 L1667.6,1389.9 L1670.1,1390.0 L1672.6,1390.0 L1675.1,1390.0 L1677.6,1390.0 L1680.1,1390.0 L1682.6,1390.0 L1685.1,1390.0 L1687.6,1390.0 L1690.1,1390.0 L1692.6,1390.0 L1695.1,1390.0 L1697.6,1390.0 L1700.1,1390.0 L1702.6,1390.0 L1705.1,1390.0 L1707.6,1390.0 L1710.1,1390.0 L1712.6,1390.0 L1715.1,1390.0 L1717.6,1390.0 L1720.1,1389.9 L1722.6,1389.9 L1725.1,1389.9 L1727.6,1389.9 L1730.1,1389.9 L1732.6,1389.8" stroke="#800000" /><path d="M279.4,1393.9 L281.9,1393.6 L284.4,1393.3 L286.9,1393.0 L289.3,1392.5 L291.8,1392.1 L294.2,1391.6 L296.7,1391.0 L299.1,1390.3 L301.5,1389.6 L303.9,1388.8 L306.2,1388.0 L308.5,1387.1 L310.8,1386.1 L313.1,1385.1 L315.4,1384.0 L317.6,1382.8 L319.7,1381.6 L321.9,1380.3 L324.0,1378.9 L326.0,1377.5 L328.1,1376.0 L330.0,1374.5 L332.0,1372.9 L333.8,1371.3 L335.7,1369.6 L337.5,1367.8 L339.2,1366.0 L340.9,1364.2 L342.6,1362.3 L344.2,1360.4 L345.7,1358.5 L347.3,1356.5 L348.7,1354.5 L350.2,1352.4 L351.6,1350.4 L353.0,1348.3 L354.3,1346.2 L355.6,1344.0 L356.9,1341.9 L358.1,1339.7 L359.3,1337.5 L360.5,1335.3 L361.7,1333.1 L362.8,1330.9 L364.0,1328.6 L365.1,1326.4 L366.1,1324.1 L367.2,1321.9 L368.3,1319.6 L369.3,1317.3 L370.3,1315.1 L371.3,1312.8 L372.3,1310.5 L373.3,1308.2 L374.3,1305.9 L375.3,1303.6 L376.3,1301.3 L377.2,1299.0 L378.2,1296.7 L379.2,1294.4 L380.2,1292.1 L381.1,1289.8 L382.1,1287.5 L383.1,1285.2 L384.1,1282.9 L385.1,1280.6 L386.1,1278.3 L387.2,1276.0 L388.2,1273.8 L389.2,1271.5 L390.3,1269.2 L391.4,1267.0 L392.5,1264.7 L393.6,1262.5 L394.8,1260.3 L395.9,1258.1 L397.1,1255.9 L398.4,1253.7 L399.6,1251.5 L400.9,1249.4 L402.2,1247.2 L403.5,1245.1 L404.9,1243.0 L406.3,1241.0 L407.7,1238.9 L409.2,1236.9 L410.7,1234.9 L412.2,1232.9 L413.8,1231.0 L415.5,1229.1 L417.1,1227.3 L418.8,1225.4 L420.6,1223.6 L422.3,1221.8 L424.1,1220.1 L425.9,1218.4 L427.7,1216.7 L429.6,1215.0 L431.4,1213.3 L433.3,1211.6 L435.2,1210.0 L437.1,1208.4 L439.0,1206.7 L440.9,1205.1 L442.8,1203.5 L444.7,1201.8 L446.6,1200.2 L448.5,1198.6 L450.3,1196.9 L452.2,1195.3 L454.1,1193.6 L455.9,1191.9 L457.7,1190.2 L459.5,1188.5 L461.3,1186.7 L463.1,1185.0 L464.8,1183.1 L466.5,1181.3 L468.2,1179.4 L469.8,1177.5 L471.4,1175.6 L472.9,1173.6 L474.4,1171.6 L475.9,1169.6 L477.3,1167.5 L478.7,1165.5 L480.0,1163.4 L481.3,1161.2 L482.6,1159.1 L483.9,1156.9 L485.1,1154.7 L486.3,1152.5 L487.5,1150.3 L488.6,1148.1 L489.7,1145.9 L490.8,1143.6 L491.9,1141.4 L492.9,1139.1 L494.0,1136.8 L495.0,1134.5 L496.0,1132.2 L497.0,1129.9 L498.0,1127.6 L498.9,1125.3 L499.9,1123.0 L500.8,1120.7 L501.8,1118.4 L502.7,1116.1 L503.7,1113.8 L504.6,1111.5 L505.5,1109.1 L506.5,1106.8 L507.4,1104.5 L508.4,1102.2 L509.3,1099.9 L510.3,1097.6 L511.2,1095.3 L512.2,1093.0 L513.2,1090.7 L514.2,1088.4 L515.2,1086.1 L516.2,1083.8 L517.2,1081.5 L518.2,1079.2 L519.3,1077.0 L520.4,1074.7 L521.5,1072.5 L522.6,1070.2 L523.7,1068.0 L524.8,1065.8 L526.0,1063.6 L527.2,1061.4 L528.4,1059.2 L529.7,1057.0 L530.9,1054.8 L532.2,1052.7 L533.5,1050.6 L534.9,1048.5 L536.2,1046.4 L537.7,1044.3 L539.1,1042.3 L540.6,1040.3 L542.1,1038.3 L543.6,1036.3 L545.2,1034.4 L546.9,1032.5 L548.5,1030.6 L550.2,1028.8 L552.0,1027.0 L553.8,1025.3 L555.7,1023.6 L557.6,1022.0 L559.5,1020.5 L561.6,1019.0 L563.7,1017.6 L565.8,1016.4 L568.0,1015.2 L570.3,1014.2 L572.7,1013.3 L575.0,1012.6 L577.5,1012.0 L579.9,1011.5 L582.4,1011.1 L584.9,1010.8 L587.4,1010.6 L589.9,1010.5 L592.4,1010.4 L594.9,1010.3 L597.4,1010.3 L599.9,1010.3 L602.4,1010.4 L604.9,1010.4 L607.4,1010.5 L609.9,1010.5 L612.4,1010.5 L614.9,1010.5 L617.4,1010.5 L619.9,1010.4 L622.4,1010.3 L624.8,1010.1 L627.3,1009.9 L629.8,1009.6 L632.3,1009.2 L634.7,1008.7 L637.2,1008.2 L639.6,1007.6 L642.0,1006.9 L644.4,1006.2 L646.8,1005.5 L649.2,1004.7 L651.6,1003.9 L653.9,1003.1 L656.3,1002.3 L658.6,1001.5 L661.0,1000.6 L663.4,999.8 L665.7,998.9 L668.1,998.1 L670.4,997.3 L672.8,996.5 L675.2,995.8 L677.6,995.1 L680.0,994.4 L682.4,993.8 L684.9,993.3 L687.3,992.8 L689.8,992.4 L692.3,992.1 L694.8,991.9 L697.3,991.7 L699.8,991.7 L702.3,991.7 L704.8,991.8 L707.2,992.0 L709.7,992.3 L712.2,992.6 L714.7,993.0 L717.1,993.5 L719.6,994.1 L722.0,994.7 L724.4,995.4 L726.8,996.2 L729.1,997.0 L731.4,997.9 L733.8,998.9 L736.0,999.9 L738.3,1001.0 L740.5,1002.1 L742.7,1003.3 L744.9,1004.5 L747.1,1005.8 L749.2,1007.1 L751.3,1008.5 L753.3,1009.9 L755.3,1011.4 L757.3,1012.9 L759.3,1014.4 L761.2,1016.0 L763.1,1017.6 L765.0,1019.3 L766.9,1021.0 L768.7,1022.7 L770.5,1024.4 L772.3,1026.2 L774.0,1027.9 L775.8,1029.7 L777.5,1031.6 L779.2,1033.4 L780.9,1035.2 L782.6,1037.1 L784.2,1039.0 L785.9,1040.8 L787.5,1042.7 L789.1,1044.6 L790.8,1046.5 L792.4,1048.4 L794.0,1050.3 L795.6,1052.2 L797.2,1054.1 L798.8,1056.0 L800.5,1058.0 L802.1,1059.9 L803.7,1061.8 L805.3,1063.7 L807.0,1065.5 L808.6,1067.4 L810.3,1069.3 L812.0,1071.1 L813.6,1073.0 L815.3,1074.8 L817.1,1076.6 L818.8,1078.4 L820.6,1080.2 L822.3,1082.0 L824.1,1083.7 L825.9,1085.5 L827.7,1087.2 L829.6,1088.9 L831.4,1090.5 L833.3,1092.2 L835.2,1093.8 L837.1,1095.5 L839.0,1097.1 L840.9,1098.7 L842.8,1100.3 L844.8,1101.9 L846.7,1103.5 L848.7,1105.0 L850.6,1106.6 L852.6,1108.1 L854.5,1109.7 L856.5,1111.2 L858.5,1112.7 L860.5,1114.2 L862.5,1115.8 L864.5,1117.3 L866.4,1118.8 L868.4,1120.3 L870.4,1121.8 L872.4,1123.3 L874.4,1124.9 L876.4,1126.4 L878.4,1127.9 L880.4,1129.4 L882.3,1130.9 L884.3,1132.5 L886.3,1134.0 L888.3,1135.5 L890.2,1137.1 L892.2,1138.6 L894.1,1140.2 L896.1,1141.7 L898.1,1143.3 L900.0,1144.9 L902.0,1146.4 L903.9,1148.0 L905.9,1149.5 L907.8,1151.1 L909.8,1152.7 L911.7,1154.3 L913.6,1155.8 L915.6,1157.4 L917.5,1159.0 L919.5,1160.6 L921.4,1162.1 L923.3,1163.7 L925.3,1165.3 L927.2,1166.9 L929.1,1168.5 L931.1,1170.1 L933.0,1171.6 L935.0,1173.2 L936.9,1174.8 L938.8,1176.4 L940.8,1178.0 L942.7,1179.5 L944.6,1181.1 L946.6,1182.7 L948.5,1184.3 L950.5,1185.8 L952.4,1187.4 L954.3,1189.0 L956.3,1190.6 L958.2,1192.1 L960.2,1193.7 L962.1,1195.3 L964.1,1196.8 L966.0,1198.4 L968.0,1199.9 L970.0,1201.5 L971.9,1203.0 L973.9,1204.6 L975.9,1206.1 L977.8,1207.7 L979.8,1209.2 L981.8,1210.7 L983.8,1212.2 L985.8,1213.8 L987.7,1215.3 L989.7,1216.8 L991.7,1218.3 L993.7,1219.8 L995.7,1221.3 L997.7,1222.8 L999.8,1224.3 L1001.8,1225.7 L1003.8,1227.2 L1005.8,1228.7 L1007.8,1230.1 L1009.9,1231.6 L1011.9,1233.0 L1014.0,1234.5 L1016.0,1235.9 L1018.0,1237.4 L1020.1,1238.8 L1022.2,1240.2 L1024.2,1241.6 L1026.3,1243.0 L1028.4,1244.4 L1030.4,1245.8 L1032.5,1247.2 L1034.6,1248.6 L1036.7,1250.0 L1038.8,1251.3 L1040.9,1252.7 L1043.0,1254.0 L1045.1,1255.4 L1047.2,1256.7 L1049.3,1258.1 L1051.4,1259.4 L1053.5,1260.7 L1055.7,1262.0 L1057.8,1263.4 L1059.9,1264.7 L1062.1,1266.0 L1064.2,1267.3 L1066.3,1268.5 L1068.5,1269.8 L1070.6,1271.1 L1072.8,1272.4 L1075.0,1273.6 L1077.1,1274.9 L1079.3,1276.1 L1081.5,1277.4 L1083.6,1278.6 L1085.8,1279.8 L1088.0,1281.0 L1090.2,1282.3 L1092.4,1283.5 L1094.6,1284.7 L1096.8,1285.8 L1099.0,1287.0 L1101.2,1288.2 L1103.4,1289.4 L1105.6,1290.5 L1107.8,1291.7 L1110.0,1292.9 L1112.2,1294.0 L1114.5,1295.1 L1116.7,1296.3 L1118.9,1297.4 L1121.2,1298.5 L1123.4,1299.6 L1125.7,1300.7 L1127.9,1301.8 L1130.2,1302.9 L1132.4,1304.0 L1134.7,1305.0 L1136.9,1306.1 L1139.2,1307.2 L1141.5,1308.2 L1143.7,1309.3 L1146.0,1310.3 L1148.3,1311.3 L1150.6,1312.3 L1152.9,1313.3 L1155.2,1314.3 L1157.5,1315.3 L1159.7,1316.3 L1162.0,1317.3 L1164.3,1318.3 L1166.7,1319.3 L1169.0,1320.2 L1171.3,1321.2 L1173.6,1322.1 L1175.9,1323.0 L1178.2,1324.0 L1180.6,1324.9 L1182.9,1325.8 L1185.2,1326.7 L1187.6,1327.6 L1189.9,1328.5 L1192.2,1329.4 L1194.6,1330.2 L1196.9,1331.1 L1199.3,1332.0 L1201.6,1332.8 L1204.0,1333.6 L1206.3,1334.5 L1208.7,1335.3 L1211.1,1336.1 L1213.4,1336.9 L1215.8,1337.7 L1218.2,1338.5 L1220.5,1339.3 L1222.9,1340.0 L1225.3,1340.8 L1227.7,1341.6 L1230.1,1342.3 L1232.5,1343.1 L1234.8,1343.8 L1237.2,1344.5 L1239.6,1345.2 L1242.0,1345.9 L1244.4,1346.6 L1246.8,1347.3 L1249.2,1348.0 L1251.7,1348.6 L1254.1,1349.3 L1256.5,1350.0 L1258.9,1350.6 L1261.3,1351.3 L1263.7,1351.9 L1266.2,1352.5 L1268.6,1353.1 L1271.0,1353.7 L1273.4,1354.3 L1275.9,1354.9 L1278.3,1355.5 L1280.7,1356.1 L1283.2,1356.6 L1285.6,1357.2 L1288.0,1357.8 L1290.5,1358.3 L1292.9,1358.8 L1295.4,1359.4 L1297.8,1359.9 L1300.2,1360.4 L1302.7,1360.9 L1305.1,1361.4 L1307.6,1361.9 L1310.0,1362.4 L1312.5,1362.9 L1314.9,1363.4 L1317.4,1363.9 L1319.9,1364.3 L1322.3,1364.8 L1324.8,1365.2 L1327.2,1365.7 L1329.7,1366.1 L1332.2,1366.5 L1334.6,1367.0 L1337.1,1367.4 L1339.6,1367.8 L1342.0,1368.2 L1344.5,1368.6 L1347.0,1369.0 L1349.4,1369.4 L1351.9,1369.7 L1354.4,1370.1 L1356.8,1370.5 L1359.3,1370.9 L1361.8,1371.2 L1364.3,1371.6 L1366.7,1371.9 L1369.2,1372.3 L1371.7,1372.6 L1374.2,1372.9 L1376.7,1373.2 L1379.1,1373.6 L1381.6,1373.9 L1384.1,1374.2 L1386.6,1374.5 L1389.1,1374.8 L1391.5,1375.1 L1394.0,1375.4 L1396.5,1375.7 L1399.0,1375.9 L1401.5,1376.2 L1404.0,1376.5 L1406.4,1376.8 L1408.9,1377.0 L1411.4,1377.3 L1413.9,1377.5 L1416.4,1377.8 L1418.9,1378.0 L1421.4,1378.3 L1423.9,1378.5 L1426.4,1378.7 L1428.8,1378.9 L1431.3,1379.2 L1433.8,1379.4 L1436.3,1379.6 L1438.8,1379.8 L1441.3,1380.0 L1443.8,1380.2 L1446.3,1380.4 L1448.8,1380.6 L1451.3,1380.8 L1453.8,1381.0 L1456.2,1381.2 L1458.7,1381.4 L1461.2,1381.5 L1463.7,1381.7 L1466.2,1381.9 L1468.7,1382.1 L1471.2,1382.2 L1473.7,1382.4 L1476.2,1382.5 L1478.7,1382.7 L1481.2,1382.9 L1483.7,1383.0 L1486.2,1383.2 L1488.7,1383.3 L1491.2,1383.4 L1493.7,1383.6 L1496.2,1383.7 L1498.7,1383.9 L1501.2,1384.0 L1503.7,1384.1 L1506.2,1384.2 L1508.7,1384.4 L1511.1,1384.5 L1513.6,1384.6 L1516.1,1384.7 L1518.6,1384.8 L1521.1,1385.0 L1523.6,1385.1 L1526.1,1385.2 L1528.6,1385.3 L1531.1,1385.4 L1533.6,1385.5 L1536.1,1385.6 L1538.6,1385.7 L1541.1,1385.8 L1543.6,1385.9 L1546.1,1386.0 L1548.6,1386.1 L1551.1,1386.2 L1553.6,1386.3 L1556.1,1386.4 L1558.6,1386.5 L1561.1,1386.6 L1563.6,1386.6 L1566.1,1386.7 L1568.6,1386.8 L1571.1,1386.9 L1573.6,1387.0 L1576.1,1387.1 L1578.6,1387.2 L1581.1,1387.2 L1583.6,1387.3 L1586.1,1387.4 L1588.6,1387.5 L1591.1,1387.6 L1593.6,1387.6 L1596.1,1387.7 L1598.6,1387.8 L1601.1,1387.9 L1603.6,1387.9 L1606.1,1388.0 L1608.6,1388.1 L1611.1,1388.2 L1613.6,1388.3 L1616.1,1388.3 L1618.6,1388.4 L1621.1,1388.5 L1623.6,1388.6 L1626.1,1388.7 L1628.6,1388.7 L1631.1,1388.8 L1633.6,1388.9 L1636.1,1389.0 L1638.6,1389.1 L1641.1,1389.1 L1643.6,1389.2 L1646.1,1389.3 L1648.6,1389.4 L1651.1,1389.5 L1653.6,1389.6 L1656.1,1389.6 L1658.6,1389.7 L1661.1,1389.8 L1663.5,1389.9 L1666.0,1390.0 L1668.5,1390.1 L1671.0,1390.2 L1673.5,1390.3 L1676.0,1390.4 L1678.5,1390.5 L1681.0,1390.6 L1683.5,1390.7 L1686.0,1390.8 L1688.5,1390.9 L1691.0,1391.0 L1693.5,1391.1 L1696.0,1391.2 L1698.5,1391.3 L1701.0,1391.4 L1703.5,1391.5 L1706.0,1391.7 L1708.5,1391.8 L1711.0,1391.9 L1713.5,1392.0 L1716.0,1392.2 L1718.5,1392.3 L1721.0,1392.4 L1723.5,1392.6 L1726.0,1392.7 L1728.5,1392.8 L1731.0,1393.0 L1733.5,1393.1" stroke="#008000" /></g></g>
<g font-family="'Liberation Sans', Arial, Helvetica, sans-serif" font-weight="bold" font-size="68" fill="#000"><text transform="translate(244.7,1413.6) scale(0.94,1)" text-anchor="end">0</text><text transform="translate(244.7,1262.0) scale(0.94,1)" text-anchor="end">100</text><text transform="translate(244.7,1110.6) scale(0.94,1)" text-anchor="end">200</text><text transform="translate(244.7,959.2) scale(0.94,1)" text-anchor="end">300</text><text transform="translate(244.7,807.8) scale(0.94,1)" text-anchor="end">400</text><text transform="translate(244.7,656.4) scale(0.94,1)" text-anchor="end">500</text><text transform="translate(244.7,505.1) scale(0.94,1)" text-anchor="end">600</text><text transform="translate(244.7,353.7) scale(0.94,1)" text-anchor="end">700</text><text transform="translate(244.7,202.3) scale(0.94,1)" text-anchor="end">800</text><text transform="translate(529.9,1491.8) scale(0.94,1)" text-anchor="middle">350</text><text transform="translate(943.7,1491.8) scale(0.94,1)" text-anchor="middle">400</text><text transform="translate(1357.5,1491.8) scale(0.94,1)" text-anchor="middle">450</text><text transform="translate(1771.3,1491.8) scale(0.94,1)" text-anchor="middle">500</text></g><text transform="translate(93,1289.5) rotate(-90) scale(1.029,1)" font-family="'Liberation Serif', 'Times New Roman', Times, serif" font-weight="bold" font-size="73">Fluorescence Intensity (a.u.)</text><text transform="translate(748.2,1621) scale(0.994,1)" font-family="'Liberation Serif', 'Times New Roman', Times, serif" font-weight="bold" font-size="76">Wavelength (nm)</text><text transform="translate(99.5,77.5) scale(1.07,1)" font-family="'Liberation Serif', 'Times New Roman', Times, serif" font-weight="bold" font-size="72.5">(c)</text><text transform="translate(950.5,465.2) scale(0.944,1)" font-family="'Liberation Sans', Arial, Helvetica, sans-serif" font-weight="bold" font-size="75.7">Cu</text><text transform="translate(1040.5,422.6) scale(0.95,1)" font-family="'Liberation Sans', Arial, Helvetica, sans-serif" font-weight="bold" font-size="44">2+</text><line x1="1114" y1="253.5" x2="1114" y2="1000" stroke="#000" stroke-width="4.6"/><text x="1096.5" y="1024.7" font-family="'Liberation Sans', Arial, Helvetica, sans-serif" font-weight="bold" font-size="72.5">V</text><g font-family="'Liberation Sans', Arial, Helvetica, sans-serif" fill="#000"><line x1="1221.5" y1="215.0" x2="1357.5" y2="215.0" stroke="#000000" stroke-width="5.2" stroke-linecap="round"/><text x="1374.5" y="235.4" font-weight="bold" font-size="59">0</text><text x="1424.6" y="229.7" font-weight="bold" font-size="57">mol</text><text x="1541.3" y="229.7" font-weight="bold" font-size="57">L</text><text x="1569.8" y="197.5" font-size="48">-</text><text x="1595" y="196.3" font-size="33">1</text><line x1="1221.5" y1="300.8" x2="1357.5" y2="300.8" stroke="#ff0000" stroke-width="6.4" stroke-linecap="round"/><text transform="translate(1374.5,320.8) scale(0.96,1)" font-weight="bold" font-size="59">4.21</text><text x="1502" y="324.8" font-size="68">×</text><text x="1555.7" y="321.3" font-weight="bold" font-size="58">10</text><text x="1622.4" y="291.0" font-size="48">-</text><text x="1638.8" y="290.7" font-size="33">5</text><text x="1676.5" y="320.2" font-weight="bold" font-size="57">mol</text><text x="1793" y="320.2" font-weight="bold" font-size="57">L</text><text x="1821.5" y="287.3" font-size="48">-</text><text x="1848" y="287.1" font-size="33">1</text><line x1="1221.5" y1="386.5" x2="1357.5" y2="386.5" stroke="#00ff00" stroke-width="6.4" stroke-linecap="round"/><text transform="translate(1374.5,406.5) scale(0.96,1)" font-weight="bold" font-size="59">6.20</text><text x="1502" y="410.5" font-size="68">×</text><text x="1555.7" y="407.0" font-weight="bold" font-size="58">10</text><text x="1622.4" y="376.7" font-size="48">-</text><text x="1638.8" y="376.4" font-size="33">5</text><text x="1676.5" y="405.9" font-weight="bold" font-size="57">mol</text><text x="1793" y="405.9" font-weight="bold" font-size="57">L</text><text x="1821.5" y="373.0" font-size="48">-</text><text x="1848" y="372.8" font-size="33">1</text><line x1="1221.5" y1="472.3" x2="1357.5" y2="472.3" stroke="#0000ff" stroke-width="6.4" stroke-linecap="round"/><text transform="translate(1374.5,492.3) scale(0.96,1)" font-weight="bold" font-size="59">9.96</text><text x="1502" y="496.3" font-size="68">×</text><text x="1555.7" y="492.8" font-weight="bold" font-size="58">10</text><text x="1622.4" y="462.5" font-size="48">-</text><text x="1638.8" y="462.2" font-size="33">5</text><text x="1676.5" y="491.7" font-weight="bold" font-size="57">mol</text><text x="1793" y="491.7" font-weight="bold" font-size="57">L</text><text x="1821.5" y="458.8" font-size="48">-</text><text x="1848" y="458.6" font-size="33">1</text><line x1="1221.5" y1="558.0" x2="1357.5" y2="558.0" stroke="#00ffff" stroke-width="6.4" stroke-linecap="round"/><text transform="translate(1376,578.0) scale(0.96,1)" font-weight="bold" font-size="59">1.17</text><text x="1497.5" y="582.0" font-size="68">×</text><text x="1548" y="578.5" font-weight="bold" font-size="58">10</text><text x="1612" y="543.5" font-size="48">-</text><text x="1631.6" y="544.0" font-size="33">4</text><text x="1664.6" y="577.4" font-weight="bold" font-size="57">mol</text><text x="1781" y="577.4" font-weight="bold" font-size="57">L</text><text x="1811" y="544.5" font-size="48">-</text><text x="1837" y="544.3" font-size="33">1</text><line x1="1221.5" y1="643.8" x2="1357.5" y2="643.8" stroke="#ff00ff" stroke-width="6.4" stroke-linecap="round"/><text transform="translate(1376,663.8) scale(0.96,1)" font-weight="bold" font-size="59">1.51</text><text x="1497.5" y="667.8" font-size="68">×</text><text x="1548" y="664.3" font-weight="bold" font-size="58">10</text><text x="1612" y="629.3" font-size="48">-</text><text x="1631.6" y="629.8" font-size="33">4</text><text x="1664.6" y="663.2" font-weight="bold" font-size="57">mol</text><text x="1781" y="663.2" font-weight="bold" font-size="57">L</text><text x="1811" y="630.3" font-size="48">-</text><text x="1837" y="630.1" font-size="33">1</text><line x1="1221.5" y1="729.6" x2="1357.5" y2="729.6" stroke="#ffff00" stroke-width="6.4" stroke-linecap="round"/><text transform="translate(1376,749.6) scale(0.96,1)" font-weight="bold" font-size="59">1.82</text><text x="1497.5" y="753.6" font-size="68">×</text><text x="1548" y="750.1" font-weight="bold" font-size="58">10</text><text x="1612" y="715.1" font-size="48">-</text><text x="1631.6" y="715.6" font-size="33">4</text><text x="1664.6" y="749.0" font-weight="bold" font-size="57">mol</text><text x="1781" y="749.0" font-weight="bold" font-size="57">L</text><text x="1811" y="716.1" font-size="48">-</text><text x="1837" y="715.9" font-size="33">1</text><line x1="1221.5" y1="815.3" x2="1357.5" y2="815.3" stroke="#808000" stroke-width="6.4" stroke-linecap="round"/><text transform="translate(1376,835.3) scale(0.96,1)" font-weight="bold" font-size="59">2.39</text><text x="1497.5" y="839.3" font-size="68">×</text><text x="1548" y="835.8" font-weight="bold" font-size="58">10</text><text x="1612" y="800.8" font-size="48">-</text><text x="1631.6" y="801.3" font-size="33">4</text><text x="1664.6" y="834.7" font-weight="bold" font-size="57">mol</text><text x="1781" y="834.7" font-weight="bold" font-size="57">L</text><text x="1811" y="801.8" font-size="48">-</text><text x="1837" y="801.6" font-size="33">1</text><line x1="1221.5" y1="901.1" x2="1357.5" y2="901.1" stroke="#000080" stroke-width="6.4" stroke-linecap="round"/><text transform="translate(1376,921.1) scale(0.96,1)" font-weight="bold" font-size="59">2.90</text><text x="1497.5" y="925.1" font-size="68">×</text><text x="1548" y="921.6" font-weight="bold" font-size="58">10</text><text x="1612" y="886.6" font-size="48">-</text><text x="1631.6" y="887.1" font-size="33">4</text><text x="1664.6" y="920.5" font-weight="bold" font-size="57">mol</text><text x="1781" y="920.5" font-weight="bold" font-size="57">L</text><text x="1811" y="887.6" font-size="48">-</text><text x="1837" y="887.4" font-size="33">1</text><line x1="1221.5" y1="986.8" x2="1357.5" y2="986.8" stroke="#800080" stroke-width="6.4" stroke-linecap="round"/><text transform="translate(1376,1006.8) scale(0.96,1)" font-weight="bold" font-size="59">3.34</text><text x="1497.5" y="1010.8" font-size="68">×</text><text x="1548" y="1007.3" font-weight="bold" font-size="58">10</text><text x="1612" y="972.3" font-size="48">-</text><text x="1631.6" y="972.8" font-size="33">4</text><text x="1664.6" y="1006.2" font-weight="bold" font-size="57">mol</text><text x="1781" y="1006.2" font-weight="bold" font-size="57">L</text><text x="1811" y="973.3" font-size="48">-</text><text x="1837" y="973.1" font-size="33">1</text><line x1="1221.5" y1="1072.6" x2="1357.5" y2="1072.6" stroke="#800000" stroke-width="6.4" stroke-linecap="round"/><text transform="translate(1376,1092.6) scale(0.96,1)" font-weight="bold" font-size="59">3.74</text><text x="1497.5" y="1096.6" font-size="68">×</text><text x="1548" y="1093.1" font-weight="bold" font-size="58">10</text><text x="1612" y="1058.1" font-size="48">-</text><text x="1631.6" y="1058.6" font-size="33">4</text><text x="1664.6" y="1092.0" font-weight="bold" font-size="57">mol</text><text x="1781" y="1092.0" font-weight="bold" font-size="57">L</text><text x="1811" y="1059.1" font-size="48">-</text><text x="1837" y="1058.9" font-size="33">1</text><line x1="1221.5" y1="1158.4" x2="1357.5" y2="1158.4" stroke="#008000" stroke-width="6.4" stroke-linecap="round"/><text transform="translate(1376,1178.4) scale(0.96,1)" font-weight="bold" font-size="59">4.11</text><text x="1497.5" y="1182.4" font-size="68">×</text><text x="1548" y="1178.9" font-weight="bold" font-size="58">10</text><text x="1612" y="1143.9" font-size="48">-</text><text x="1631.6" y="1144.4" font-size="33">4</text><text x="1664.6" y="1177.8" font-weight="bold" font-size="57">mol</text><text x="1781" y="1177.8" font-weight="bold" font-size="57">L</text><text x="1811" y="1144.9" font-size="48">-</text><text x="1837" y="1144.7" font-size="33">1</text></g>
</svg>
</body></html>
